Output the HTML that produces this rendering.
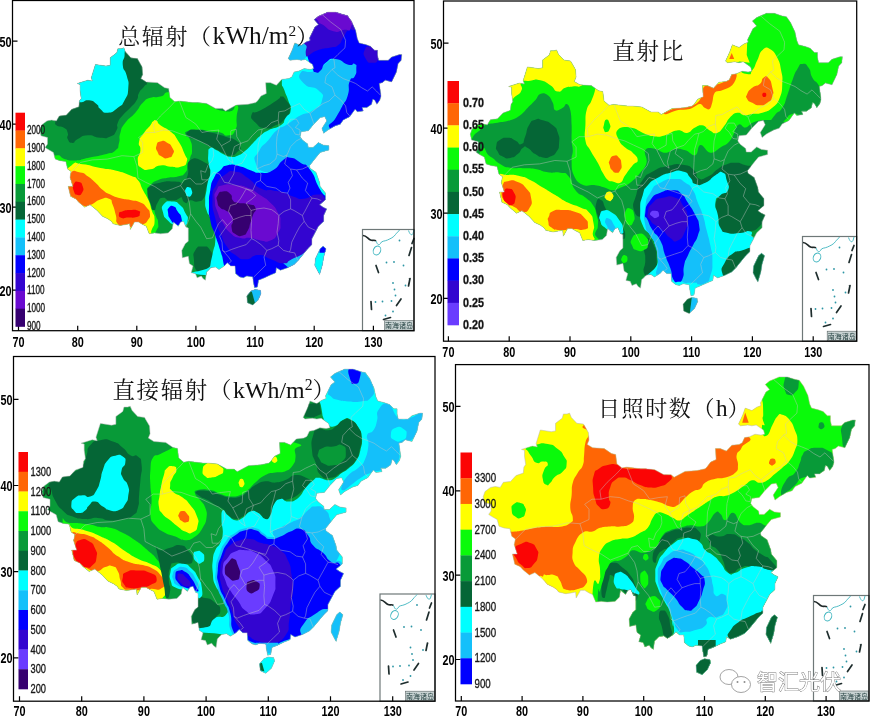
<!DOCTYPE html><html><head><meta charset="utf-8"><title>maps</title><style>html,body{margin:0;padding:0;background:#fff}svg{display:block}text{font-family:"Liberation Sans","Noto Sans CJK SC",sans-serif}.t{font-family:"Liberation Serif","Noto Serif CJK SC",serif;fill:#111}.k{font-weight:bold;font-size:15.5px;fill:#000}.c{fill:#111}</style></head><body>
<svg width="870" height="720" viewBox="0 0 870 720">
<rect width="870" height="720" fill="#fff"/>
<defs>
<clipPath id="cn1"><path d="M39.8,130.0 L41.6,125.0 L46.9,120.9 L51.6,120.1 L56.4,120.9 L59.3,115.9 L66.4,115.1 L71.7,109.3 L78.8,106.8 L79.4,101.0 L81.2,98.5 L80.0,90.2 L80.0,84.4 L77.1,83.5 L87.7,80.2 L92.4,81.0 L91.3,77.7 L95.4,64.4 L106.0,66.1 L110.2,65.3 L110.2,57.8 L116.7,52.8 L117.9,48.7 L121.4,48.7 L123.8,47.8 L125.6,52.0 L130.9,57.8 L137.4,58.6 L142.1,66.9 L142.7,74.4 L140.9,78.6 L146.3,81.9 L157.5,82.7 L164.6,87.7 L168.7,88.5 L169.9,97.6 L174.7,101.8 L179.4,101.0 L193.0,102.6 L197.7,102.6 L206.6,103.5 L215.5,108.4 L222.6,108.4 L225.5,110.9 L236.2,105.1 L248.0,104.3 L255.7,102.6 L257.5,101.0 L261.0,96.0 L266.3,93.5 L265.7,82.7 L270.5,82.7 L276.4,85.2 L281.7,79.4 L288.8,78.6 L291.8,76.9 L294.1,71.9 L298.9,71.1 L304.2,68.6 L310.1,69.4 L313.7,68.6 L312.5,64.4 L305.4,59.5 L301.2,60.3 L297.1,59.5 L290.0,60.3 L288.2,58.6 L292.4,49.5 L294.7,42.9 L301.2,45.4 L306.0,42.0 L310.1,40.4 L309.5,37.9 L314.8,27.1 L318.4,24.6 L314.2,19.6 L318.4,16.3 L327.9,12.1 L335.5,12.1 L343.2,14.6 L347.4,15.5 L351.5,21.3 L355.7,30.4 L357.4,38.7 L359.2,42.9 L365.7,44.5 L370.4,46.2 L374.6,50.3 L377.5,50.3 L377.5,55.3 L378.7,60.3 L388.2,60.3 L391.7,57.0 L399.4,54.5 L401.8,54.5 L401.2,60.3 L398.2,63.6 L396.5,71.9 L391.7,81.9 L385.2,80.2 L382.3,82.7 L379.3,83.5 L381.1,96.0 L379.9,100.1 L376.9,104.3 L374.6,100.1 L372.8,99.3 L371.6,104.3 L366.9,107.6 L362.2,107.6 L363.3,110.9 L357.4,111.8 L355.1,109.3 L349.7,116.7 L343.2,120.1 L340.3,124.2 L335.0,125.9 L327.9,130.0 L323.7,133.3 L321.9,128.4 L326.7,120.9 L324.9,116.7 L320.2,117.6 L313.7,124.2 L308.3,130.8 L301.2,131.7 L300.1,136.7 L302.4,140.0 L307.7,144.1 L308.3,147.4 L313.1,147.4 L318.4,142.5 L323.1,145.0 L329.0,145.8 L329.0,149.9 L320.2,152.4 L316.0,157.4 L309.5,165.7 L310.1,168.2 L316.0,172.3 L319.6,182.3 L320.2,186.4 L325.5,193.1 L325.5,199.7 L319.6,204.7 L323.1,207.2 L326.7,208.9 L323.7,215.5 L323.7,221.3 L318.4,226.3 L315.4,232.1 L311.9,238.7 L311.9,244.6 L307.7,248.7 L303.0,254.5 L298.3,260.3 L294.1,264.5 L287.6,267.8 L280.5,270.3 L276.4,267.8 L275.8,272.8 L269.9,275.3 L264.6,277.8 L258.6,280.2 L257.5,286.9 L254.5,287.7 L253.3,281.9 L252.7,276.9 L246.8,276.1 L243.3,277.8 L239.7,276.9 L235.6,273.6 L235.0,266.1 L230.8,266.1 L227.3,262.8 L224.3,266.1 L219.0,269.5 L215.5,267.0 L210.7,267.8 L208.4,270.3 L206.6,271.9 L205.4,280.2 L203.0,278.6 L201.3,276.1 L197.1,277.8 L195.4,273.6 L191.2,272.8 L193.0,266.1 L189.4,263.6 L188.3,256.2 L182.3,257.8 L181.8,250.4 L185.3,243.7 L188.3,241.2 L188.3,228.0 L185.9,227.1 L183.5,221.3 L180.6,222.1 L178.2,226.3 L173.5,222.1 L172.3,228.8 L168.1,232.9 L160.5,233.8 L154.5,232.9 L149.2,233.8 L146.3,226.3 L142.7,224.6 L138.6,222.1 L134.4,222.1 L130.3,229.6 L129.7,223.8 L125.6,224.6 L120.2,225.5 L113.1,223.8 L111.4,221.3 L107.8,218.8 L102.5,216.3 L97.2,210.5 L90.1,204.7 L84.7,207.2 L78.8,202.2 L75.9,198.9 L70.6,196.4 L68.2,186.4 L72.9,186.4 L70.0,177.3 L71.1,171.5 L67.6,169.0 L65.8,161.6 L59.9,160.7 L55.2,159.1 L53.4,152.4 L47.5,149.1 L45.1,147.4 L47.5,144.1 L47.5,137.5 L41.0,135.8ZM323.1,246.2 L326.1,248.7 L323.7,257.0 L322.5,264.5 L319.6,274.4 L317.8,271.1 L314.8,265.3 L315.4,258.7 L320.2,248.7ZM255.1,289.4 L260.4,290.2 L261.0,293.5 L258.1,300.2 L252.7,305.1 L247.4,302.7 L246.8,296.0 L251.0,291.0Z"/></clipPath>
<clipPath id="cn2"><path d="M470.3,134.1 L472.1,129.0 L477.6,124.8 L482.4,123.9 L487.3,124.8 L490.4,119.7 L497.6,118.8 L503.1,112.9 L510.4,110.3 L511.0,104.4 L512.8,101.8 L511.6,93.3 L511.6,87.3 L508.6,86.5 L519.5,83.1 L524.4,83.9 L523.2,80.5 L527.4,66.9 L538.4,68.6 L542.6,67.8 L542.6,60.1 L549.3,55.0 L550.5,50.8 L554.2,50.8 L556.6,49.9 L558.4,54.2 L563.9,60.1 L570.6,61.0 L575.5,69.5 L576.1,77.1 L574.3,81.4 L579.7,84.8 L591.3,85.6 L598.6,90.7 L602.8,91.6 L604.0,100.9 L608.9,105.2 L613.8,104.4 L627.8,106.1 L632.6,106.1 L641.7,106.9 L650.9,112.0 L658.2,112.0 L661.2,114.6 L672.1,108.6 L684.3,107.8 L692.2,106.1 L694.0,104.4 L697.7,99.2 L703.2,96.7 L702.5,85.6 L707.4,85.6 L713.5,88.2 L719.0,82.2 L726.3,81.4 L729.3,79.7 L731.7,74.6 L736.6,73.7 L742.1,71.2 L748.1,72.0 L751.8,71.2 L750.6,66.9 L743.3,61.8 L739.0,62.7 L734.8,61.8 L727.5,62.7 L725.6,61.0 L729.9,51.6 L732.3,44.8 L739.0,47.4 L743.9,44.0 L748.1,42.2 L747.5,39.7 L753.0,28.6 L756.7,26.1 L752.4,21.0 L756.7,17.6 L766.4,13.3 L774.3,13.3 L782.2,15.9 L786.4,16.7 L790.7,22.7 L795.0,32.0 L796.8,40.5 L798.6,44.8 L805.3,46.5 L810.2,48.2 L814.4,52.5 L817.5,52.5 L817.5,57.6 L818.7,62.7 L828.4,62.7 L832.0,59.3 L840.0,56.7 L842.4,56.7 L841.8,62.7 L838.7,66.1 L836.9,74.6 L832.0,84.8 L825.4,83.1 L822.3,85.6 L819.3,86.5 L821.1,99.2 L819.9,103.5 L816.8,107.8 L814.4,103.5 L812.6,102.6 L811.4,107.8 L806.5,111.2 L801.6,111.2 L802.9,114.6 L796.8,115.4 L794.4,112.9 L788.9,120.5 L782.2,123.9 L779.2,128.2 L773.7,129.9 L766.4,134.1 L762.1,137.5 L760.3,132.4 L765.2,124.8 L763.3,120.5 L758.5,121.4 L751.8,128.2 L746.3,135.0 L739.0,135.8 L737.8,140.9 L740.2,144.3 L745.7,148.6 L746.3,152.0 L751.2,152.0 L756.7,146.9 L761.5,149.4 L767.6,150.3 L767.6,154.5 L758.5,157.1 L754.2,162.2 L747.5,170.7 L748.1,173.3 L754.2,177.5 L757.9,187.7 L758.5,192.0 L764.0,198.8 L764.0,205.6 L757.9,210.7 L761.5,213.2 L765.2,214.9 L762.1,221.7 L762.1,227.7 L756.7,232.8 L753.6,238.8 L750.0,245.6 L750.0,251.5 L745.7,255.8 L740.8,261.7 L736.0,267.7 L731.7,271.9 L725.0,275.3 L717.7,277.9 L713.5,275.3 L712.9,280.4 L706.8,283.0 L701.3,285.5 L695.2,288.1 L694.0,294.9 L691.0,295.8 L689.8,289.8 L689.2,284.7 L683.1,283.8 L679.4,285.5 L675.8,284.7 L671.5,281.3 L670.9,273.6 L666.7,273.6 L663.0,270.2 L660.0,273.6 L654.5,277.0 L650.9,274.5 L646.0,275.3 L643.6,277.9 L641.7,279.6 L640.5,288.1 L638.1,286.4 L636.3,283.8 L632.0,285.5 L630.2,281.3 L625.9,280.4 L627.8,273.6 L624.1,271.1 L622.9,263.4 L616.8,265.1 L616.2,257.5 L619.9,250.7 L622.9,248.1 L622.9,234.5 L620.5,233.7 L618.0,227.7 L615.0,228.6 L612.6,232.8 L607.7,228.6 L606.5,235.4 L602.2,239.6 L594.3,240.5 L588.2,239.6 L582.8,240.5 L579.7,232.8 L576.1,231.1 L571.8,228.6 L567.6,228.6 L563.3,236.2 L562.7,230.3 L558.4,231.1 L553.0,232.0 L545.7,230.3 L543.9,227.7 L540.2,225.1 L534.7,222.6 L529.3,216.6 L522.0,210.7 L516.5,213.2 L510.4,208.1 L507.4,204.7 L501.9,202.2 L499.5,192.0 L504.3,192.0 L501.3,182.6 L502.5,176.7 L498.9,174.1 L497.0,166.5 L491.0,165.6 L486.1,163.9 L484.3,157.1 L478.2,153.7 L475.8,152.0 L478.2,148.6 L478.2,141.8 L471.5,140.1ZM761.5,253.2 L764.6,255.8 L762.1,264.3 L760.9,271.9 L757.9,282.1 L756.0,278.7 L753.0,272.8 L753.6,266.0 L758.5,255.8ZM691.6,297.5 L697.1,298.3 L697.7,301.7 L694.6,308.5 L689.2,313.6 L683.7,311.1 L683.1,304.3 L687.3,299.2Z"/></clipPath>
<clipPath id="cn3"><path d="M41.9,491.5 L43.8,486.3 L49.4,482.0 L54.3,481.2 L59.3,482.0 L62.4,476.9 L69.9,476.0 L75.5,470.0 L82.9,467.4 L83.6,461.3 L85.4,458.8 L84.2,450.1 L84.2,444.1 L81.1,443.2 L92.3,439.8 L97.2,440.7 L96.0,437.2 L100.4,423.4 L111.6,425.2 L115.9,424.3 L115.9,416.5 L122.8,411.4 L124.0,407.1 L127.7,407.1 L130.2,406.2 L132.1,410.5 L137.7,416.5 L144.5,417.4 L149.5,426.0 L150.1,433.8 L148.3,438.1 L153.9,441.5 L165.7,442.4 L173.1,447.6 L177.5,448.4 L178.7,457.9 L183.7,462.2 L188.7,461.3 L203.0,463.1 L208.0,463.1 L217.3,463.9 L226.6,469.1 L234.1,469.1 L237.2,471.7 L248.4,465.7 L260.8,464.8 L268.9,463.1 L270.8,461.3 L274.5,456.2 L280.1,453.6 L279.5,442.4 L284.5,442.4 L290.7,445.0 L296.3,438.9 L303.8,438.1 L306.9,436.4 L309.4,431.2 L314.3,430.3 L319.9,427.7 L326.1,428.6 L329.9,427.7 L328.6,423.4 L321.2,418.3 L316.8,419.1 L312.5,418.3 L305.0,419.1 L303.1,417.4 L307.5,407.9 L310.0,401.0 L316.8,403.6 L321.8,400.2 L326.1,398.4 L325.5,395.9 L331.1,384.7 L334.9,382.1 L330.5,376.9 L334.9,373.4 L344.8,369.1 L352.9,369.1 L361.0,371.7 L365.3,372.6 L369.7,378.6 L374.0,388.1 L375.9,396.7 L377.8,401.0 L384.6,402.7 L389.6,404.5 L393.9,408.8 L397.1,408.8 L397.1,413.9 L398.3,419.1 L408.2,419.1 L412.0,415.7 L420.1,413.1 L422.6,413.1 L421.9,419.1 L418.8,422.6 L417.0,431.2 L412.0,441.5 L405.1,439.8 L402.0,442.4 L398.9,443.2 L400.8,456.2 L399.5,460.5 L396.4,464.8 L393.9,460.5 L392.1,459.6 L390.8,464.8 L385.9,468.2 L380.9,468.2 L382.1,471.7 L375.9,472.5 L373.4,470.0 L367.8,477.7 L361.0,481.2 L357.9,485.5 L352.3,487.2 L344.8,491.5 L340.5,494.9 L338.6,489.8 L343.6,482.0 L341.7,477.7 L336.7,478.6 L329.9,485.5 L324.3,492.4 L316.8,493.2 L315.6,498.4 L318.1,501.8 L323.7,506.2 L324.3,509.6 L329.3,509.6 L334.9,504.4 L339.8,507.0 L346.1,507.9 L346.1,512.2 L336.7,514.8 L332.4,519.9 L325.5,528.6 L326.1,531.1 L332.4,535.4 L336.1,545.8 L336.7,550.1 L342.3,557.0 L342.3,563.9 L336.1,569.1 L339.8,571.6 L343.6,573.4 L340.5,580.3 L340.5,586.3 L334.9,591.5 L331.7,597.5 L328.0,604.4 L328.0,610.4 L323.7,614.7 L318.7,620.8 L313.7,626.8 L309.4,631.1 L302.5,634.5 L295.0,637.1 L290.7,634.5 L290.1,639.7 L283.8,642.3 L278.3,644.9 L272.0,647.5 L270.8,654.4 L267.7,655.2 L266.4,649.2 L265.8,644.0 L259.6,643.2 L255.9,644.9 L252.1,644.0 L247.8,640.6 L247.2,632.8 L242.8,632.8 L239.1,629.4 L236.0,632.8 L230.4,636.3 L226.6,633.7 L221.7,634.5 L219.2,637.1 L217.3,638.9 L216.1,647.5 L213.6,645.7 L211.7,643.2 L207.3,644.9 L205.5,640.6 L201.1,639.7 L203.0,632.8 L199.3,630.2 L198.0,622.5 L191.8,624.2 L191.2,616.4 L194.9,609.6 L198.0,607.0 L198.0,593.2 L195.5,592.3 L193.0,586.3 L189.9,587.2 L187.4,591.5 L182.5,587.2 L181.2,594.0 L176.9,598.4 L168.8,599.2 L162.6,598.4 L157.0,599.2 L153.9,591.5 L150.1,589.7 L145.8,587.2 L141.4,587.2 L137.1,594.9 L136.4,588.9 L132.1,589.7 L126.5,590.6 L119.0,588.9 L117.2,586.3 L113.4,583.7 L107.8,581.1 L102.2,575.1 L94.8,569.1 L89.2,571.6 L82.9,566.5 L79.8,563.0 L74.2,560.4 L71.7,550.1 L76.7,550.1 L73.6,540.6 L74.9,534.6 L71.1,532.0 L69.3,524.2 L63.0,523.4 L58.1,521.7 L56.2,514.8 L50.0,511.3 L47.5,509.6 L50.0,506.2 L50.0,499.3 L43.1,497.5ZM339.8,612.1 L342.9,614.7 L340.5,623.3 L339.2,631.1 L336.1,641.4 L334.2,638.0 L331.1,632.0 L331.7,625.1 L336.7,614.7ZM268.3,656.9 L273.9,657.8 L274.5,661.3 L271.4,668.2 L265.8,673.3 L260.2,670.7 L259.6,663.8 L263.9,658.7Z"/></clipPath>
<clipPath id="cn4"><path d="M483.2,496.7 L485.0,491.6 L490.5,487.4 L495.3,486.6 L500.2,487.4 L503.3,482.3 L510.5,481.5 L516.0,475.6 L523.3,473.1 L523.9,467.1 L525.7,464.6 L524.5,456.2 L524.5,450.3 L521.5,449.4 L532.4,446.1 L537.3,446.9 L536.1,443.5 L540.3,430.0 L551.3,431.7 L555.5,430.9 L555.5,423.3 L562.2,418.2 L563.4,414.0 L567.1,414.0 L569.5,413.1 L571.3,417.4 L576.8,423.3 L583.5,424.1 L588.4,432.6 L589.0,440.1 L587.2,444.4 L592.6,447.7 L604.2,448.6 L611.5,453.6 L615.7,454.5 L616.9,463.8 L621.8,468.0 L626.7,467.1 L640.7,468.8 L645.5,468.8 L654.6,469.7 L663.8,474.7 L671.1,474.7 L674.1,477.3 L685.0,471.4 L697.2,470.5 L705.1,468.8 L706.9,467.1 L710.6,462.1 L716.1,459.6 L715.4,448.6 L720.3,448.6 L726.4,451.1 L731.9,445.2 L739.2,444.4 L742.2,442.7 L744.6,437.6 L749.5,436.8 L755.0,434.2 L761.0,435.1 L764.7,434.2 L763.5,430.0 L756.2,425.0 L751.9,425.8 L747.7,425.0 L740.4,425.8 L738.5,424.1 L742.8,414.8 L745.2,408.1 L751.9,410.6 L756.8,407.2 L761.0,405.6 L760.4,403.0 L765.9,392.1 L769.6,389.5 L765.3,384.5 L769.6,381.1 L779.3,376.9 L787.2,376.9 L795.1,379.4 L799.3,380.2 L803.6,386.2 L807.9,395.4 L809.7,403.9 L811.5,408.1 L818.2,409.8 L823.1,411.5 L827.3,415.7 L830.4,415.7 L830.4,420.7 L831.6,425.8 L841.3,425.8 L844.9,422.4 L852.9,419.9 L855.3,419.9 L854.7,425.8 L851.6,429.2 L849.8,437.6 L844.9,447.7 L838.3,446.1 L835.2,448.6 L832.2,449.4 L834.0,462.1 L832.8,466.3 L829.7,470.5 L827.3,466.3 L825.5,465.5 L824.3,470.5 L819.4,473.9 L814.5,473.9 L815.8,477.3 L809.7,478.1 L807.3,475.6 L801.8,483.2 L795.1,486.6 L792.1,490.8 L786.6,492.5 L779.3,496.7 L775.0,500.1 L773.2,495.0 L778.1,487.4 L776.2,483.2 L771.4,484.0 L764.7,490.8 L759.2,497.5 L751.9,498.4 L750.7,503.4 L753.1,506.8 L758.6,511.0 L759.2,514.4 L764.1,514.4 L769.6,509.3 L774.4,511.9 L780.5,512.7 L780.5,516.9 L771.4,519.5 L767.1,524.5 L760.4,533.0 L761.0,535.5 L767.1,539.7 L770.8,549.8 L771.4,554.0 L776.9,560.8 L776.9,567.5 L770.8,572.6 L774.4,575.1 L778.1,576.8 L775.0,583.6 L775.0,589.5 L769.6,594.5 L766.5,600.5 L762.9,607.2 L762.9,613.1 L758.6,617.3 L753.7,623.2 L748.9,629.1 L744.6,633.4 L737.9,636.7 L730.6,639.3 L726.4,636.7 L725.8,641.8 L719.7,644.3 L714.2,646.9 L708.1,649.4 L706.9,656.1 L703.9,657.0 L702.7,651.1 L702.1,646.0 L696.0,645.2 L692.3,646.9 L688.7,646.0 L684.4,642.6 L683.8,635.0 L679.6,635.0 L675.9,631.7 L672.9,635.0 L667.4,638.4 L663.8,635.9 L658.9,636.7 L656.5,639.3 L654.6,640.9 L653.4,649.4 L651.0,647.7 L649.2,645.2 L644.9,646.9 L643.1,642.6 L638.8,641.8 L640.7,635.0 L637.0,632.5 L635.8,624.9 L629.7,626.6 L629.1,619.0 L632.8,612.3 L635.8,609.7 L635.8,596.2 L633.4,595.4 L630.9,589.5 L627.9,590.3 L625.5,594.5 L620.6,590.3 L619.4,597.1 L615.1,601.3 L607.2,602.1 L601.1,601.3 L595.7,602.1 L592.6,594.5 L589.0,592.9 L584.7,590.3 L580.5,590.3 L576.2,597.9 L575.6,592.0 L571.3,592.9 L565.9,593.7 L558.6,592.0 L556.8,589.5 L553.1,587.0 L547.6,584.4 L542.2,578.5 L534.9,572.6 L529.4,575.1 L523.3,570.1 L520.3,566.7 L514.8,564.2 L512.4,554.0 L517.2,554.0 L514.2,544.8 L515.4,538.9 L511.8,536.3 L509.9,528.7 L503.9,527.9 L499.0,526.2 L497.2,519.5 L491.1,516.1 L488.7,514.4 L491.1,511.0 L491.1,504.3 L484.4,502.6ZM774.4,614.8 L777.5,617.3 L775.0,625.8 L773.8,633.4 L770.8,643.5 L768.9,640.1 L765.9,634.2 L766.5,627.4 L771.4,617.3ZM704.5,658.7 L710.0,659.5 L710.6,662.9 L707.5,669.6 L702.1,674.7 L696.6,672.2 L696.0,665.4 L700.2,660.4Z"/></clipPath>
</defs>
<g id="panel1">
<rect x="12.5" y="0.5" width="401.5" height="330.2" fill="#fff"/>
<g clip-path="url(#cn1)">
<rect x="12.5" y="0.5" width="401.5" height="330.2" fill="#089a38"/>
<path d="M56.4,155.4 C62.3,155.1 58.9,157.5 65.1,159.2 C71.4,160.8 67.6,160.8 75.2,160.4 C82.7,160.0 77.7,160.0 87.7,157.9 C97.7,155.8 96.0,156.7 105.2,154.2 C114.4,151.7 110.7,154.2 115.3,150.4 C119.9,146.6 117.4,148.7 119.0,142.9 C120.7,137.0 118.2,139.5 120.3,132.9 C122.4,126.2 120.3,129.5 125.3,122.8 C130.3,116.1 129.5,119.5 135.3,112.8 C141.2,106.1 137.8,107.8 142.8,102.8 C147.8,97.8 144.5,99.9 150.4,97.8 C156.2,95.7 152.9,98.3 160.4,96.5 C167.9,94.8 160.5,91.3 172.9,92.5 C185.4,93.7 180.3,93.8 197.7,100.0 C215.2,106.3 212.3,109.6 225.3,111.3 C238.2,113.0 232.8,102.9 236.6,105.0 C240.3,107.1 237.0,109.2 236.6,117.6 C236.1,125.9 238.2,124.1 235.3,130.1 C232.4,136.1 232.8,134.8 227.8,135.6 C222.8,136.4 226.1,134.0 220.3,132.6 C214.4,131.2 217.8,132.4 210.3,131.4 C202.7,130.4 205.2,129.8 197.7,129.6 C190.2,129.4 191.6,129.0 187.7,130.9 C183.8,132.7 185.1,132.0 185.9,135.1 C186.8,138.2 188.2,135.1 190.2,140.1 C192.2,145.1 192.0,144.3 192.0,150.2 C192.0,156.0 191.6,152.7 190.2,157.7 C188.8,162.7 189.4,160.2 187.7,165.2 C186.0,170.2 188.5,168.9 185.2,172.7 C181.8,176.5 183.5,174.8 177.7,176.5 C171.8,178.1 174.3,176.5 167.6,177.7 C161.0,179.0 163.5,177.7 157.6,180.2 C151.8,182.7 153.4,181.9 150.1,185.2 C146.8,188.6 148.0,186.1 147.6,190.3 C147.2,194.4 147.2,192.8 148.8,197.8 C150.5,202.8 150.4,199.4 152.6,205.3 C154.9,211.1 153.8,209.5 155.6,215.3 C157.5,221.2 157.9,217.8 158.1,222.8 C158.4,227.8 159.0,226.2 156.4,230.4 C153.7,234.5 157.2,235.4 150.1,235.4 C143.0,235.4 148.4,233.7 135.1,230.4 C121.7,227.0 126.7,234.5 110.0,225.3 C93.3,216.1 101.6,218.7 84.9,202.8 C68.2,186.9 72.4,191.9 59.9,177.7 C47.3,163.5 48.5,167.6 47.3,160.2 C46.2,152.7 50.4,155.7 56.4,155.4Z" fill="#0afa0a"/>
<path d="M50.1,112.8 C43.3,127.8 52.5,116.1 54.6,120.3 C56.7,124.5 53.3,122.8 56.4,125.3 C59.5,127.8 60.2,125.3 63.9,127.8 C67.7,130.3 66.4,129.1 67.7,132.8 C68.9,136.6 66.0,135.8 67.7,139.1 C69.3,142.4 69.3,142.9 72.7,142.9 C76.0,142.9 72.7,141.6 77.7,139.1 C82.7,136.6 80.2,135.8 87.7,135.3 C95.2,134.9 92.7,137.4 100.3,137.8 C107.8,138.3 104.8,139.1 110.3,136.6 C115.7,134.1 114.0,134.9 116.5,130.3 C119.0,125.7 115.7,127.8 117.8,122.8 C119.9,117.8 118.6,120.3 122.8,115.3 C127.0,110.3 125.7,112.8 130.3,107.8 C134.9,102.8 133.7,105.3 136.6,100.3 C139.5,95.2 136.6,97.3 139.1,92.7 C141.6,88.1 141.2,90.6 144.1,86.5 C147.0,82.3 145.8,88.1 147.9,80.2 C150.0,72.3 152.9,72.7 150.4,62.7 C147.9,52.6 150.4,56.8 140.4,50.1 C130.3,43.4 142.0,34.3 120.3,42.6 C98.6,51.0 98.6,51.8 75.2,75.2 C51.8,98.6 57.0,97.7 50.1,112.8Z" fill="#056636"/>
<path d="M122.1,45.1 C130.2,46.4 124.3,47.2 124.6,53.9 C124.8,60.6 122.1,58.1 122.8,65.2 C123.5,72.3 124.7,67.7 126.6,75.2 C128.4,82.7 129.0,79.4 128.3,87.7 C127.7,96.1 128.1,93.6 124.6,100.3 C121.1,106.9 123.4,103.6 117.8,107.8 C112.2,111.9 113.6,112.4 107.8,112.8 C101.9,113.2 104.0,111.9 100.3,109.0 C96.5,106.1 100.3,106.9 96.5,104.0 C92.7,101.1 94.4,100.8 89.0,100.3 C83.5,99.7 85.6,102.3 80.2,102.3 C74.8,102.3 75.2,109.3 72.7,100.3 C70.2,91.2 63.5,91.9 72.7,75.2 C81.9,58.5 83.8,60.2 100.3,50.1 C116.7,40.1 114.0,43.9 122.1,45.1Z" fill="#00ffff"/>
<path d="M71.4,165.5 C77.3,160.2 73.1,163.4 82.7,164.2 C92.3,165.0 89.4,165.9 100.3,168.0 C111.1,170.1 105.3,168.0 115.3,170.5 C125.3,173.0 122.8,172.3 130.3,175.5 C137.8,178.7 133.7,175.2 137.8,180.0 C142.0,184.8 139.3,183.3 142.9,190.0 C146.4,196.7 145.4,193.4 148.4,200.1 C151.3,206.7 149.5,203.4 151.6,210.1 C153.7,216.8 154.6,213.4 154.6,220.1 C154.6,226.8 153.9,224.7 151.6,230.1 C149.4,235.6 156.6,233.9 147.9,236.4 C139.1,238.9 141.2,239.7 125.3,237.6 C109.4,235.6 117.0,241.0 100.3,230.1 C83.5,219.3 86.9,221.8 75.2,205.1 C63.5,188.4 66.4,193.2 65.2,180.0 C63.9,166.8 65.6,170.7 71.4,165.5Z" fill="#ffff00"/>
<path d="M70.2,173.7 C74.4,168.7 74.4,171.6 80.2,172.5 C86.0,173.3 82.7,172.9 87.7,176.2 C92.7,179.6 90.2,177.9 95.2,182.5 C100.3,187.1 97.7,186.0 102.8,190.0 C107.8,194.0 104.4,191.8 110.3,194.5 C116.1,197.3 113.6,196.5 120.3,198.3 C127.0,200.1 123.6,198.6 130.3,200.1 C137.0,201.5 134.9,200.1 140.4,202.6 C145.8,205.1 143.4,203.8 146.6,207.6 C149.8,211.3 149.5,209.7 149.9,213.8 C150.3,218.0 150.2,216.5 147.9,220.1 C145.5,223.7 147.0,222.5 142.9,224.6 C138.7,226.7 141.2,225.8 135.3,226.4 C129.5,227.0 131.2,227.2 125.3,226.4 C119.5,225.5 121.0,227.6 117.8,223.9 C114.6,220.1 117.5,221.4 115.8,215.1 C114.1,208.8 115.0,210.5 112.8,205.1 C110.5,199.6 113.2,200.6 109.0,198.8 C104.8,197.0 106.1,197.6 100.3,199.5 C94.4,201.5 96.5,202.3 91.5,204.6 C86.5,206.8 90.6,207.8 85.2,206.3 C79.8,204.8 81.0,206.3 75.2,200.1 C69.3,193.8 69.3,196.3 67.7,187.5 C66.0,178.7 66.0,178.7 70.2,173.7Z" fill="#ff6605"/>
<path d="M73.9,183.8 C75.6,180.7 76.0,181.2 78.9,182.0 C81.9,182.8 81.6,182.8 82.7,186.3 C83.8,189.8 83.9,189.6 82.2,192.5 C80.5,195.5 80.5,195.5 77.7,195.0 C74.9,194.6 75.2,195.0 73.9,191.3 C72.7,187.5 72.3,186.9 73.9,183.8Z" fill="#fb0505"/>
<path d="M119.0,213.8 C119.5,211.6 119.0,212.6 122.8,211.3 C126.6,210.1 125.3,210.3 130.3,210.1 C135.3,209.8 134.7,209.3 137.8,210.6 C141.0,211.8 140.3,211.7 139.8,213.8 C139.4,216.0 140.6,215.8 136.6,217.1 C132.6,218.3 132.8,217.3 127.8,217.6 C122.8,217.9 124.5,219.3 121.6,218.1 C118.6,216.8 118.6,216.1 119.0,213.8Z" fill="#fb0505"/>
<path d="M152.9,121.6 C155.0,120.1 154.1,119.5 156.6,120.8 C159.1,122.1 155.8,121.7 160.4,125.3 C165.0,128.9 164.6,126.6 170.4,131.6 C176.3,136.6 173.4,133.2 177.9,140.4 C182.5,147.5 181.3,145.8 184.2,152.9 C187.1,160.0 188.0,157.1 186.7,161.7 C185.5,166.2 185.9,165.0 180.5,166.7 C175.0,168.3 177.1,167.1 170.4,166.7 C163.7,166.2 167.1,164.6 160.4,165.4 C153.7,166.2 156.6,168.3 150.4,169.2 C144.1,170.0 145.8,170.8 141.6,167.9 C137.4,165.0 138.3,166.2 137.8,160.4 C137.4,154.6 139.9,156.6 140.4,150.4 C140.8,144.1 137.8,147.5 139.1,141.6 C140.4,135.8 140.4,138.3 144.1,132.8 C147.9,127.4 147.5,129.1 150.4,125.3 C153.3,121.6 150.8,123.1 152.9,121.6Z" fill="#ffff00"/>
<path d="M156.6,145.4 C157.6,142.0 157.1,142.6 160.4,141.6 C163.7,140.6 162.7,140.3 166.7,142.4 C170.7,144.4 170.3,143.9 172.4,147.9 C174.5,151.8 174.4,150.8 172.9,154.1 C171.4,157.5 171.7,157.1 167.9,157.9 C164.2,158.7 165.2,158.7 161.7,156.6 C158.1,154.6 159.1,155.4 157.4,151.6 C155.7,147.9 155.6,148.7 156.6,145.4Z" fill="#ff6605"/>
<path d="M251.8,114.0 C253.5,109.9 252.3,114.9 260.6,110.3 C269.0,105.7 270.2,104.8 276.9,100.3 C283.6,95.7 277.6,96.5 280.7,96.5 C283.7,96.5 283.1,95.7 286.2,100.3 C289.3,104.8 290.8,103.6 289.9,110.3 C289.1,117.0 288.4,115.3 283.7,120.3 C278.9,125.3 281.7,122.6 275.6,125.3 C269.6,128.0 272.3,129.2 265.6,128.3 C258.9,127.5 260.2,127.6 255.6,122.8 C251.0,118.0 250.2,118.2 251.8,114.0Z" fill="#056636"/>
<path d="M188.2,131.4 C191.1,129.3 190.4,129.7 197.7,130.1 C205.1,130.5 202.7,130.9 210.3,132.6 C217.8,134.3 214.4,133.4 220.3,135.1 C226.1,136.8 222.8,135.9 227.8,137.6 C232.8,139.3 231.1,137.2 235.3,140.1 C239.5,143.0 239.5,142.6 240.3,146.4 C241.2,150.2 241.2,148.3 237.8,151.4 C234.5,154.5 235.3,155.2 230.3,155.7 C225.3,156.1 227.8,154.9 222.8,152.7 C217.8,150.4 221.1,151.8 215.3,148.9 C209.4,146.0 211.1,146.8 205.2,143.9 C199.4,141.0 203.1,142.6 197.7,140.1 C192.3,137.6 192.1,139.3 188.9,136.4 C185.8,133.4 185.3,133.4 188.2,131.4Z" fill="#056636"/>
<path d="M190.2,160.2 C196.0,156.0 198.6,159.3 205.2,162.7 C211.9,166.0 209.2,164.4 210.3,170.2 C211.3,176.0 209.7,173.5 208.2,180.2 C206.7,186.9 207.2,184.4 205.7,190.3 C204.3,196.1 206.7,194.0 204.0,197.8 C201.3,201.5 202.3,200.7 197.7,201.5 C193.1,202.4 194.4,199.9 190.2,200.3 C186.0,200.7 188.5,204.5 185.2,202.8 C181.8,201.1 183.5,199.4 180.2,195.3 C176.8,191.1 174.3,194.4 175.2,190.3 C176.0,186.1 178.5,187.7 182.7,182.7 C186.9,177.7 185.2,182.7 187.7,175.2 C190.2,167.7 184.4,164.4 190.2,160.2Z" fill="#056636"/>
<path d="M195.2,250.4 C198.1,245.8 197.7,246.6 202.7,246.6 C207.7,246.6 206.9,245.8 210.3,250.4 C213.6,255.0 212.8,253.7 212.8,260.4 C212.8,267.1 213.6,265.4 210.3,270.5 C206.9,275.5 207.3,275.5 202.7,275.5 C198.1,275.5 199.4,275.5 196.5,270.5 C193.5,265.4 194.4,267.1 194.0,260.4 C193.5,253.7 192.3,255.0 195.2,250.4Z" fill="#056636"/>
<path d="M150.1,186.5 C154.3,183.1 152.6,184.4 160.1,182.7 C167.6,181.1 165.1,181.1 172.7,181.5 C180.2,181.9 178.5,181.1 182.7,184.0 C186.9,186.9 186.0,185.7 185.2,190.3 C184.4,194.8 185.2,194.4 180.2,197.8 C175.2,201.1 176.0,200.3 170.2,200.3 C164.3,200.3 166.8,196.9 162.6,197.8 C158.5,198.6 160.5,198.6 157.6,202.8 C154.7,207.0 156.4,210.3 153.9,210.3 C151.4,210.3 152.2,208.6 150.1,202.8 C148.0,196.9 147.6,198.2 147.6,192.8 C147.6,187.3 145.9,189.8 150.1,186.5Z" fill="#056636"/>
<path d="M281.9,80.2 C281.6,88.7 282.3,83.6 284.4,90.3 C286.5,96.9 286.1,93.6 288.2,100.3 C290.3,107.0 291.5,104.5 290.7,110.3 C289.9,116.1 289.0,112.8 285.7,117.8 C282.3,122.8 286.5,121.2 280.7,125.3 C274.8,129.5 274.8,127.0 268.1,130.4 C261.5,133.7 265.6,131.2 260.6,135.4 C255.6,139.5 258.1,137.9 253.1,142.9 C248.1,147.9 250.6,146.2 245.6,150.4 C240.6,154.6 243.1,153.3 238.1,155.4 C233.1,157.5 235.6,157.2 230.6,156.7 C225.5,156.2 227.7,156.1 223.0,153.9 C218.4,151.7 220.8,152.1 216.5,150.2 C212.3,148.2 213.0,146.5 210.3,148.1 C207.5,149.8 208.7,149.5 208.2,155.2 C207.8,160.8 208.3,159.3 209.0,165.2 C209.7,171.0 210.7,166.9 210.3,172.7 C209.8,178.6 209.0,176.9 207.7,182.7 C206.5,188.6 207.3,184.4 206.5,190.3 C205.7,196.1 205.2,193.6 205.2,200.3 C205.2,207.0 204.8,204.5 206.5,210.3 C208.2,216.1 207.7,212.0 210.3,217.8 C212.8,223.7 212.3,220.3 214.0,227.8 C215.7,235.4 215.7,232.0 215.3,240.4 C214.8,248.7 214.4,244.6 212.8,252.9 C211.1,261.3 211.5,257.9 210.3,265.4 C209.0,273.0 167.2,272.1 209.0,275.5 C250.8,278.8 293.4,345.6 335.6,275.5 C377.8,205.3 352.3,135.1 335.6,64.9 C318.9,-5.2 303.3,59.8 285.4,64.9 C267.6,70.0 282.3,71.8 281.9,80.2Z" fill="#00ffff"/>
<path d="M300.7,72.7 C303.6,68.5 305.7,73.9 313.2,71.4 C320.8,68.9 315.7,69.3 323.3,65.2 C330.8,61.0 327.4,59.3 335.8,58.9 C344.1,58.5 340.8,62.7 348.3,63.9 C355.8,65.2 350.0,50.5 358.4,62.7 C366.7,74.8 378.4,74.4 373.4,100.3 C368.4,126.1 361.7,120.3 343.3,140.4 C324.9,160.4 335.0,148.7 318.3,160.4 C301.5,172.1 309.9,171.3 293.2,175.4 C276.5,179.6 280.7,177.1 268.1,172.9 C255.6,168.8 258.5,170.4 255.6,162.9 C252.7,155.4 255.2,157.9 259.4,150.4 C263.5,142.9 262.3,147.0 268.1,140.4 C274.0,133.7 271.0,135.3 276.9,130.3 C282.7,125.3 280.2,128.7 285.7,125.3 C291.1,122.0 288.2,123.6 293.2,120.3 C298.2,117.0 294.0,118.6 300.7,115.3 C307.4,111.9 306.1,115.3 313.2,110.3 C320.3,105.3 320.3,106.9 322.0,100.3 C323.7,93.6 324.1,95.7 318.3,90.2 C312.4,84.8 310.3,89.8 304.5,84.0 C298.6,78.1 297.8,76.9 300.7,72.7Z" fill="#14c0fa"/>
<path d="M304.5,42.6 C300.7,58.5 304.5,46.8 307.0,55.1 C309.5,63.5 309.1,62.0 312.0,67.7 C314.9,73.4 312.8,71.3 315.7,72.2 C318.7,73.0 317.4,73.4 320.8,70.2 C324.1,67.0 320.8,66.4 325.8,62.7 C330.8,58.9 328.3,58.2 335.8,58.9 C343.3,59.6 342.1,63.0 348.3,64.7 C354.6,66.3 351.9,62.5 354.6,63.9 C357.3,65.3 356.3,64.7 356.3,68.9 C356.3,73.1 356.8,72.3 354.6,76.4 C352.3,80.6 351.8,75.2 349.6,81.5 C347.3,87.7 350.3,86.9 347.8,95.2 C345.3,103.6 346.1,99.0 342.1,106.5 C338.1,114.0 340.0,110.7 335.8,117.8 C331.6,124.9 327.0,123.6 329.5,127.8 C332.0,132.0 317.8,139.5 343.3,130.3 C368.8,121.1 385.1,139.5 406.0,100.3 C426.9,61.0 435.2,43.4 406.0,12.5 C376.7,-18.4 352.1,-2.5 318.3,7.5 C284.4,17.5 308.2,26.7 304.5,42.6Z" fill="#0000ff"/>
<path d="M303.2,56.4 C309.1,58.1 309.1,53.0 318.3,50.1 C327.4,47.2 324.1,49.3 330.8,47.6 C337.5,45.9 334.1,48.5 338.3,45.1 C342.5,41.8 340.0,42.6 343.3,37.6 C346.7,32.6 344.6,33.4 348.3,30.1 C352.1,26.7 354.6,34.3 354.6,27.6 C354.6,20.9 362.1,15.9 348.3,10.0 C334.5,4.2 329.1,-1.7 313.2,10.0 C297.4,21.7 304.0,29.7 300.7,45.1 C297.4,60.6 297.4,54.7 303.2,56.4Z" fill="#3305d0"/>
<path d="M317.0,12.5 C327.0,9.6 337.0,7.5 348.3,12.5 C359.6,17.5 352.5,21.7 350.8,27.6 C349.2,33.4 349.2,28.8 343.3,30.1 C337.5,31.3 340.0,33.0 333.3,31.3 C326.6,29.7 328.3,28.4 323.3,25.1 C318.3,21.7 320.3,25.5 318.3,21.3 C316.2,17.1 307.0,15.5 317.0,12.5Z" fill="#6a0ad0"/>
<path d="M364.6,50.1 C366.3,45.9 366.3,46.4 370.9,46.4 C375.5,46.4 375.9,45.9 378.4,50.1 C380.9,54.3 380.5,54.7 378.4,58.9 C376.3,63.1 376.3,62.7 372.1,62.7 C368.0,62.7 368.4,63.1 365.9,58.9 C363.4,54.7 362.9,54.3 364.6,50.1Z" fill="#3305d0"/>
<path d="M288.2,60.2 C287.3,54.7 287.8,50.5 293.2,45.1 C298.6,39.7 300.3,41.4 304.5,43.9 C308.6,46.4 305.7,47.6 305.7,52.6 C305.7,57.6 307.8,56.0 304.5,58.9 C301.1,61.8 301.1,61.0 295.7,61.4 C290.3,61.8 289.0,65.6 288.2,60.2Z" fill="#14c0fa"/>
<path d="M220.3,170.2 C224.9,166.0 221.1,166.4 227.8,165.2 C234.5,163.9 232.8,164.8 240.3,166.4 C247.8,168.1 243.7,168.1 250.4,170.2 C257.0,172.3 252.9,172.7 260.4,172.7 C267.9,172.7 265.4,174.4 272.9,170.2 C280.4,166.0 277.1,164.4 282.9,160.2 C288.8,156.0 284.6,156.8 290.5,157.7 C296.3,158.5 293.8,158.5 300.5,162.7 C307.2,166.9 303.8,161.0 310.5,170.2 C317.2,179.4 312.2,175.2 320.5,190.3 C328.9,205.3 330.6,181.9 335.6,215.3 C340.6,248.7 371.5,265.4 335.6,290.5 C299.6,315.6 265.0,298.9 227.8,290.5 C190.6,282.1 226.5,278.8 224.0,265.4 C221.5,252.1 223.2,260.4 220.3,250.4 C217.4,240.4 218.6,245.4 215.3,235.4 C211.9,225.3 212.3,230.4 210.3,220.3 C208.2,210.3 209.0,215.3 209.0,205.3 C209.0,195.3 208.6,199.4 210.3,190.3 C211.9,181.1 210.7,184.4 214.0,177.7 C217.4,171.0 215.7,174.4 220.3,170.2Z" fill="#0000ff"/>
<path d="M283.2,257.7 C285.7,254.4 286.5,256.9 293.2,255.2 C299.9,253.5 297.4,255.2 303.2,252.7 C309.1,250.2 306.6,247.7 310.7,247.7 C314.9,247.7 317.4,247.7 315.7,252.7 C314.1,257.7 313.2,258.1 305.7,262.7 C298.2,267.3 299.9,265.6 293.2,266.5 C286.5,267.3 289.0,268.1 285.7,265.2 C282.3,262.3 280.7,261.0 283.2,257.7Z" fill="#14c0fa"/>
<path d="M212.5,198.8 C212.8,186.9 212.5,192.2 216.7,184.2 C220.8,176.2 218.8,179.0 225.0,174.8 C231.2,170.6 227.8,170.6 235.4,171.7 C243.1,172.7 239.6,172.4 247.9,177.9 C256.2,183.5 252.1,184.2 260.4,188.3 C268.8,192.5 265.3,189.0 272.9,190.4 C280.6,191.8 276.4,190.4 283.3,192.5 C290.3,194.6 286.8,194.6 293.8,196.7 C300.7,198.8 296.5,199.4 304.2,198.8 C311.8,198.1 309.7,194.6 316.7,194.6 C323.6,194.6 320.8,192.5 325.0,198.8 C329.2,205.0 329.2,202.9 329.2,213.3 C329.2,223.8 329.2,220.3 325.0,230.0 C320.8,239.7 323.6,234.9 316.7,242.5 C309.7,250.1 312.5,247.4 304.2,252.9 C295.8,258.5 298.6,255.7 291.7,259.2 C284.7,262.6 290.3,263.3 283.3,263.3 C276.4,263.3 279.2,261.9 270.8,259.2 C262.5,256.4 266.7,255.0 258.3,255.0 C250.0,255.0 253.5,259.2 245.8,259.2 C238.2,259.2 241.7,259.2 235.4,255.0 C229.2,250.8 231.9,253.6 227.1,246.7 C222.2,239.7 224.7,243.2 220.8,234.2 C217.0,225.1 218.4,231.4 215.6,219.6 C212.8,207.8 212.2,210.6 212.5,198.8Z" fill="#3305d0"/>
<path d="M216.5,190.3 C219.2,185.2 216.5,186.9 222.8,185.2 C229.0,183.6 227.0,184.4 235.3,185.2 C243.7,186.1 239.5,184.4 247.8,187.7 C256.2,191.1 252.9,190.3 260.4,195.3 C267.9,200.3 264.6,196.9 270.4,202.8 C276.2,208.6 274.6,206.1 277.9,212.8 C281.3,219.5 280.4,216.1 280.4,222.8 C280.4,229.5 281.3,227.0 277.9,232.9 C274.6,238.7 276.2,237.9 270.4,240.4 C264.6,242.9 267.1,241.2 260.4,240.4 C253.7,239.5 257.0,238.7 250.4,237.9 C243.7,237.0 247.0,239.5 240.3,237.9 C233.6,236.2 236.1,237.9 230.3,232.9 C224.5,227.8 227.0,229.5 222.8,222.8 C218.6,216.1 220.4,220.3 217.8,212.8 C215.1,205.3 215.2,207.8 214.8,200.3 C214.3,192.8 213.8,195.3 216.5,190.3Z" fill="#6a0ad0"/>
<path d="M217.8,195.3 C219.6,191.9 218.6,191.9 222.8,191.5 C227.0,191.1 227.0,191.1 230.3,194.0 C233.6,196.9 230.3,197.4 232.8,200.3 C235.3,203.2 232.8,201.5 237.8,202.8 C242.8,204.0 242.0,202.4 247.8,204.0 C253.7,205.7 253.7,204.0 255.4,207.8 C257.0,211.6 254.5,210.3 252.9,215.3 C251.2,220.3 252.0,217.8 250.4,222.8 C248.7,227.8 250.4,226.2 247.8,230.4 C245.3,234.5 247.0,234.1 242.8,235.4 C238.7,236.6 239.1,236.6 235.3,234.1 C231.6,231.6 232.4,232.4 231.6,227.8 C230.7,223.2 233.2,224.9 232.8,220.3 C232.4,215.7 232.8,217.4 230.3,214.1 C227.8,210.7 228.6,212.4 225.3,210.3 C221.9,208.2 222.9,210.7 220.3,207.8 C217.6,204.9 218.1,205.7 217.3,201.5 C216.4,197.4 215.9,198.6 217.8,195.3Z" fill="#360070"/>
<path d="M163.9,204.0 C167.1,200.3 167.2,201.1 172.7,201.5 C178.1,201.9 176.0,201.5 180.2,205.3 C184.4,209.0 182.7,207.8 185.2,212.8 C187.7,217.8 188.5,215.7 187.7,220.3 C186.9,224.9 186.9,224.9 182.7,226.6 C178.5,228.3 180.2,227.4 175.2,225.3 C170.2,223.2 171.7,224.5 167.6,220.3 C163.6,216.1 164.4,218.2 163.1,212.8 C161.9,207.4 160.7,207.8 163.9,204.0Z" fill="#00ffff"/>
<path d="M168.9,207.8 C170.8,205.7 171.0,205.3 173.9,206.5 C176.8,207.8 175.2,207.8 177.7,211.6 C180.2,215.3 180.6,213.6 181.4,217.8 C182.3,222.0 182.3,222.0 180.2,224.1 C178.1,226.2 178.5,225.8 175.2,224.1 C171.8,222.4 172.5,222.8 170.2,219.1 C167.8,215.3 168.6,216.6 168.1,212.8 C167.7,209.0 167.0,209.9 168.9,207.8Z" fill="#0000ff"/>
<path d="M185.7,189.0 C186.8,187.0 186.9,186.8 188.9,187.2 C191.0,187.7 190.9,187.7 191.7,190.3 C192.5,192.8 192.6,192.7 191.5,194.8 C190.3,196.9 190.1,197.0 188.2,196.5 C186.3,196.0 186.5,195.8 185.7,193.3 C184.9,190.8 184.6,191.0 185.7,189.0Z" fill="#00ffff"/>
<path d="M313.2,245.2 L328.3,245.2 L328.3,275.2 L313.2,275.2Z" fill="#00ffff"/>
<path d="M319.5,245.7 L327.0,245.7 L327.0,252.7 L319.5,252.7Z" fill="#0000ff"/>
<path d="M245.6,287.8 L265.6,287.8 L265.6,307.8 L245.6,307.8Z" fill="#14c0fa"/>
<path d="M245.6,292.8 L251.8,291.5 L255.6,305.3 L245.6,307.8Z" fill="#056636"/>
<path d="M321.3,13.8 L330.8,22.1 L340.9,29.6 L345.6,40.4 L345.0,47.8 L337.9,54.5 L333.8,58.6 L335.0,67.8 L332.0,69.4" fill="none" stroke="#c8c8c8" stroke-width="0.7" stroke-opacity="0.62"/>
<path d="M332.0,69.4 L337.9,75.2 L343.2,78.6 L349.7,81.0 L355.7,83.5 L361.6,87.7 L367.5,91.0 L372.2,86.9 L376.4,91.0 L380.5,95.2" fill="none" stroke="#c8c8c8" stroke-width="0.7" stroke-opacity="0.62"/>
<path d="M332.0,69.4 L326.1,76.1 L324.9,82.7 L332.0,86.9 L335.0,95.2" fill="none" stroke="#c8c8c8" stroke-width="0.7" stroke-opacity="0.62"/>
<path d="M335.0,95.2 L340.9,100.1 L345.6,105.9 L346.8,112.6 L349.7,115.9" fill="none" stroke="#c8c8c8" stroke-width="0.7" stroke-opacity="0.62"/>
<path d="M335.0,95.2 L329.0,101.0 L323.1,103.5 L317.2,107.6 L310.1,113.4" fill="none" stroke="#c8c8c8" stroke-width="0.7" stroke-opacity="0.62"/>
<path d="M310.1,113.4 L313.1,121.7 L313.7,124.2" fill="none" stroke="#c8c8c8" stroke-width="0.7" stroke-opacity="0.62"/>
<path d="M310.1,113.4 L304.2,109.3 L299.5,103.5 L290.6,107.6 L284.7,110.9 L278.8,111.8 L278.2,120.1" fill="none" stroke="#c8c8c8" stroke-width="0.7" stroke-opacity="0.62"/>
<path d="M278.2,120.1 L279.4,127.5 L277.0,136.7 L276.4,145.0 L277.0,154.1" fill="none" stroke="#c8c8c8" stroke-width="0.7" stroke-opacity="0.62"/>
<path d="M278.2,120.1 L271.7,122.5 L266.3,127.5 L262.2,129.2" fill="none" stroke="#c8c8c8" stroke-width="0.7" stroke-opacity="0.62"/>
<path d="M262.2,129.2 L260.4,136.7 L258.1,145.0 L257.5,157.4 L256.9,169.0" fill="none" stroke="#c8c8c8" stroke-width="0.7" stroke-opacity="0.62"/>
<path d="M256.9,169.0 L264.0,165.7 L269.9,164.0 L275.8,159.1 L277.0,154.1" fill="none" stroke="#c8c8c8" stroke-width="0.7" stroke-opacity="0.62"/>
<path d="M277.0,154.1 L283.5,156.6 L287.0,154.9 L290.6,146.6 L296.5,140.8 L301.2,138.3" fill="none" stroke="#c8c8c8" stroke-width="0.7" stroke-opacity="0.62"/>
<path d="M287.0,154.9 L284.7,164.0 L290.6,169.0 L296.5,169.9 L302.4,169.0 L309.5,165.7" fill="none" stroke="#c8c8c8" stroke-width="0.7" stroke-opacity="0.62"/>
<path d="M290.6,169.0 L292.4,175.7 L288.2,182.3 L290.0,188.1 L287.6,193.1" fill="none" stroke="#c8c8c8" stroke-width="0.7" stroke-opacity="0.62"/>
<path d="M296.5,169.9 L302.4,178.2 L307.7,183.1 L305.4,190.6 L309.5,195.6 L311.9,198.1" fill="none" stroke="#c8c8c8" stroke-width="0.7" stroke-opacity="0.62"/>
<path d="M311.9,198.1 L317.2,198.9 L321.3,200.6" fill="none" stroke="#c8c8c8" stroke-width="0.7" stroke-opacity="0.62"/>
<path d="M311.9,198.1 L308.3,204.7 L304.8,211.4 L302.4,215.5" fill="none" stroke="#c8c8c8" stroke-width="0.7" stroke-opacity="0.62"/>
<path d="M260.4,180.6 L266.9,186.4 L275.8,188.1 L281.7,192.3 L287.6,193.1" fill="none" stroke="#c8c8c8" stroke-width="0.7" stroke-opacity="0.62"/>
<path d="M287.6,193.1 L290.6,199.7 L290.6,208.9 L294.1,210.5 L302.4,215.5" fill="none" stroke="#c8c8c8" stroke-width="0.7" stroke-opacity="0.62"/>
<path d="M251.0,210.5 L256.9,208.9 L264.0,208.0 L271.7,209.7 L276.4,213.0 L278.8,215.5 L284.1,211.4 L290.6,208.9" fill="none" stroke="#c8c8c8" stroke-width="0.7" stroke-opacity="0.62"/>
<path d="M278.8,215.5 L278.2,223.8 L277.0,232.1 L278.8,240.4 L278.2,245.4" fill="none" stroke="#c8c8c8" stroke-width="0.7" stroke-opacity="0.62"/>
<path d="M302.4,215.5 L304.2,221.3 L299.5,227.1 L295.9,233.8 L291.8,242.1 L290.6,249.5 L289.4,252.0" fill="none" stroke="#c8c8c8" stroke-width="0.7" stroke-opacity="0.62"/>
<path d="M304.2,221.3 L308.3,227.1 L315.4,230.4" fill="none" stroke="#c8c8c8" stroke-width="0.7" stroke-opacity="0.62"/>
<path d="M297.7,260.3 L294.7,252.9 L289.4,252.0 L283.5,250.4 L278.2,245.4 L271.7,248.7 L266.9,250.4" fill="none" stroke="#c8c8c8" stroke-width="0.7" stroke-opacity="0.62"/>
<path d="M266.9,250.4 L264.0,257.0 L265.7,265.3 L259.8,271.1 L253.9,276.9" fill="none" stroke="#c8c8c8" stroke-width="0.7" stroke-opacity="0.62"/>
<path d="M266.9,250.4 L261.0,244.6 L255.1,240.4 L251.6,238.7" fill="none" stroke="#c8c8c8" stroke-width="0.7" stroke-opacity="0.62"/>
<path d="M251.6,238.7 L251.0,230.4 L251.6,221.3 L251.0,215.5 L251.0,210.5" fill="none" stroke="#c8c8c8" stroke-width="0.7" stroke-opacity="0.62"/>
<path d="M251.6,238.7 L246.2,244.6 L238.5,247.0 L231.4,249.5 L225.5,252.0 L222.6,250.4" fill="none" stroke="#c8c8c8" stroke-width="0.7" stroke-opacity="0.62"/>
<path d="M222.6,250.4 L228.5,257.0 L231.4,261.2 L228.5,263.6" fill="none" stroke="#c8c8c8" stroke-width="0.7" stroke-opacity="0.62"/>
<path d="M222.6,250.4 L222.0,242.1 L219.6,236.2 L224.3,229.6 L227.3,225.5" fill="none" stroke="#c8c8c8" stroke-width="0.7" stroke-opacity="0.62"/>
<path d="M227.3,225.5 L233.2,219.7 L239.7,217.2 L245.6,215.5 L251.0,215.5" fill="none" stroke="#c8c8c8" stroke-width="0.7" stroke-opacity="0.62"/>
<path d="M233.2,219.7 L228.5,211.4 L230.3,205.5 L236.2,203.9 L240.3,198.9 L246.2,188.9" fill="none" stroke="#c8c8c8" stroke-width="0.7" stroke-opacity="0.62"/>
<path d="M251.0,210.5 L246.2,203.1 L252.1,198.9 L255.7,195.6 L252.7,192.3 L246.2,188.9" fill="none" stroke="#c8c8c8" stroke-width="0.7" stroke-opacity="0.62"/>
<path d="M246.2,188.9 L239.1,186.4 L231.4,184.0 L228.5,183.1" fill="none" stroke="#c8c8c8" stroke-width="0.7" stroke-opacity="0.62"/>
<path d="M246.2,188.9 L252.7,190.6 L256.3,182.3 L260.4,180.6 L261.0,174.0 L256.9,169.0" fill="none" stroke="#c8c8c8" stroke-width="0.7" stroke-opacity="0.62"/>
<path d="M228.5,183.1 L233.8,174.0 L235.0,165.7 L242.1,163.2 L246.8,154.9 L239.1,149.1 L240.9,143.3" fill="none" stroke="#c8c8c8" stroke-width="0.7" stroke-opacity="0.62"/>
<path d="M240.9,143.3 L248.0,140.8 L252.1,135.8 L258.1,130.0 L262.2,129.2" fill="none" stroke="#c8c8c8" stroke-width="0.7" stroke-opacity="0.62"/>
<path d="M240.9,143.3 L234.4,146.6 L231.4,157.4 L233.2,163.2 L228.5,159.9 L221.4,145.8 L230.3,140.8 L230.8,130.8 L236.2,129.2 L236.8,136.7 L240.9,143.3" fill="none" stroke="#c8c8c8" stroke-width="0.7" stroke-opacity="0.62"/>
<path d="M221.4,145.8 L216.7,139.1 L219.0,130.0 L210.7,130.8 L201.9,132.5 L195.9,124.2 L190.0,120.1 L185.9,117.6 L179.4,101.0" fill="none" stroke="#c8c8c8" stroke-width="0.7" stroke-opacity="0.62"/>
<path d="M154.5,132.5 L163.4,130.0 L172.3,130.8 L181.2,134.2 L190.0,136.7 L198.9,140.8 L207.8,145.0 L213.1,149.1 L213.7,155.7 L211.9,160.7 L207.8,165.7 L205.4,172.3 L200.7,170.7 L201.9,179.8 L207.8,179.8" fill="none" stroke="#c8c8c8" stroke-width="0.7" stroke-opacity="0.62"/>
<path d="M207.8,179.8 L213.7,172.3 L219.6,174.0 L224.3,182.3 L228.5,183.1" fill="none" stroke="#c8c8c8" stroke-width="0.7" stroke-opacity="0.62"/>
<path d="M207.8,179.8 L201.9,184.0 L195.9,184.0 L190.0,178.2 L184.1,179.8 L180.6,185.6" fill="none" stroke="#c8c8c8" stroke-width="0.7" stroke-opacity="0.62"/>
<path d="M180.6,185.6 L172.3,188.9 L163.4,192.3 L154.5,186.4 L145.7,182.3 L138.0,178.2 L136.8,165.7 L133.8,156.6" fill="none" stroke="#c8c8c8" stroke-width="0.7" stroke-opacity="0.62"/>
<path d="M180.6,185.6 L187.1,194.8 L189.4,203.1 L190.6,213.8 L188.9,219.7 L185.9,227.1" fill="none" stroke="#c8c8c8" stroke-width="0.7" stroke-opacity="0.62"/>
<path d="M190.6,213.8 L195.9,221.3 L200.7,227.1 L206.6,238.7 L212.5,237.9 L215.5,230.4 L218.4,223.8 L222.6,219.7 L227.3,225.5" fill="none" stroke="#c8c8c8" stroke-width="0.7" stroke-opacity="0.62"/>
<path d="M71.7,171.5 L80.6,162.4 L92.4,159.9 L107.2,159.1 L122.0,155.7 L133.8,156.6" fill="none" stroke="#c8c8c8" stroke-width="0.7" stroke-opacity="0.62"/>
<path d="M133.8,156.6 L142.7,152.4 L142.7,142.5 L138.6,137.5 L145.7,132.5 L154.5,132.5 L153.4,124.2 L160.5,115.9 L169.3,107.6 L174.7,101.8" fill="none" stroke="#c8c8c8" stroke-width="0.7" stroke-opacity="0.62"/>
<path d="M287.6,124.2 L290.6,119.2 L296.5,119.2 L298.9,123.4 L295.3,127.5 L300.1,130.0 L299.5,135.0 L295.3,134.2 L291.8,128.4 L287.6,124.2" fill="none" stroke="#c8c8c8" stroke-width="0.7" stroke-opacity="0.62"/>
</g>
<path d="M39.8,130.0 L41.6,125.0 L46.9,120.9 L51.6,120.1 L56.4,120.9 L59.3,115.9 L66.4,115.1 L71.7,109.3 L78.8,106.8 L79.4,101.0 L81.2,98.5 L80.0,90.2 L80.0,84.4 L77.1,83.5 L87.7,80.2 L92.4,81.0 L91.3,77.7 L95.4,64.4 L106.0,66.1 L110.2,65.3 L110.2,57.8 L116.7,52.8 L117.9,48.7 L121.4,48.7 L123.8,47.8 L125.6,52.0 L130.9,57.8 L137.4,58.6 L142.1,66.9 L142.7,74.4 L140.9,78.6 L146.3,81.9 L157.5,82.7 L164.6,87.7 L168.7,88.5 L169.9,97.6 L174.7,101.8 L179.4,101.0 L193.0,102.6 L197.7,102.6 L206.6,103.5 L215.5,108.4 L222.6,108.4 L225.5,110.9 L236.2,105.1 L248.0,104.3 L255.7,102.6 L257.5,101.0 L261.0,96.0 L266.3,93.5 L265.7,82.7 L270.5,82.7 L276.4,85.2 L281.7,79.4 L288.8,78.6 L291.8,76.9 L294.1,71.9 L298.9,71.1 L304.2,68.6 L310.1,69.4 L313.7,68.6 L312.5,64.4 L305.4,59.5 L301.2,60.3 L297.1,59.5 L290.0,60.3 L288.2,58.6 L292.4,49.5 L294.7,42.9 L301.2,45.4 L306.0,42.0 L310.1,40.4 L309.5,37.9 L314.8,27.1 L318.4,24.6 L314.2,19.6 L318.4,16.3 L327.9,12.1 L335.5,12.1 L343.2,14.6 L347.4,15.5 L351.5,21.3 L355.7,30.4 L357.4,38.7 L359.2,42.9 L365.7,44.5 L370.4,46.2 L374.6,50.3 L377.5,50.3 L377.5,55.3 L378.7,60.3 L388.2,60.3 L391.7,57.0 L399.4,54.5 L401.8,54.5 L401.2,60.3 L398.2,63.6 L396.5,71.9 L391.7,81.9 L385.2,80.2 L382.3,82.7 L379.3,83.5 L381.1,96.0 L379.9,100.1 L376.9,104.3 L374.6,100.1 L372.8,99.3 L371.6,104.3 L366.9,107.6 L362.2,107.6 L363.3,110.9 L357.4,111.8 L355.1,109.3 L349.7,116.7 L343.2,120.1 L340.3,124.2 L335.0,125.9 L327.9,130.0 L323.7,133.3 L321.9,128.4 L326.7,120.9 L324.9,116.7 L320.2,117.6 L313.7,124.2 L308.3,130.8 L301.2,131.7 L300.1,136.7 L302.4,140.0 L307.7,144.1 L308.3,147.4 L313.1,147.4 L318.4,142.5 L323.1,145.0 L329.0,145.8 L329.0,149.9 L320.2,152.4 L316.0,157.4 L309.5,165.7 L310.1,168.2 L316.0,172.3 L319.6,182.3 L320.2,186.4 L325.5,193.1 L325.5,199.7 L319.6,204.7 L323.1,207.2 L326.7,208.9 L323.7,215.5 L323.7,221.3 L318.4,226.3 L315.4,232.1 L311.9,238.7 L311.9,244.6 L307.7,248.7 L303.0,254.5 L298.3,260.3 L294.1,264.5 L287.6,267.8 L280.5,270.3 L276.4,267.8 L275.8,272.8 L269.9,275.3 L264.6,277.8 L258.6,280.2 L257.5,286.9 L254.5,287.7 L253.3,281.9 L252.7,276.9 L246.8,276.1 L243.3,277.8 L239.7,276.9 L235.6,273.6 L235.0,266.1 L230.8,266.1 L227.3,262.8 L224.3,266.1 L219.0,269.5 L215.5,267.0 L210.7,267.8 L208.4,270.3 L206.6,271.9 L205.4,280.2 L203.0,278.6 L201.3,276.1 L197.1,277.8 L195.4,273.6 L191.2,272.8 L193.0,266.1 L189.4,263.6 L188.3,256.2 L182.3,257.8 L181.8,250.4 L185.3,243.7 L188.3,241.2 L188.3,228.0 L185.9,227.1 L183.5,221.3 L180.6,222.1 L178.2,226.3 L173.5,222.1 L172.3,228.8 L168.1,232.9 L160.5,233.8 L154.5,232.9 L149.2,233.8 L146.3,226.3 L142.7,224.6 L138.6,222.1 L134.4,222.1 L130.3,229.6 L129.7,223.8 L125.6,224.6 L120.2,225.5 L113.1,223.8 L111.4,221.3 L107.8,218.8 L102.5,216.3 L97.2,210.5 L90.1,204.7 L84.7,207.2 L78.8,202.2 L75.9,198.9 L70.6,196.4 L68.2,186.4 L72.9,186.4 L70.0,177.3 L71.1,171.5 L67.6,169.0 L65.8,161.6 L59.9,160.7 L55.2,159.1 L53.4,152.4 L47.5,149.1 L45.1,147.4 L47.5,144.1 L47.5,137.5 L41.0,135.8ZM323.1,246.2 L326.1,248.7 L323.7,257.0 L322.5,264.5 L319.6,274.4 L317.8,271.1 L314.8,265.3 L315.4,258.7 L320.2,248.7ZM255.1,289.4 L260.4,290.2 L261.0,293.5 L258.1,300.2 L252.7,305.1 L247.4,302.7 L246.8,296.0 L251.0,291.0Z" fill="none" stroke="#b4b4b4" stroke-width="0.7" stroke-opacity="0.7"/>
<g transform="translate(362.5,229.5)">
<rect x="0" y="0" width="51.5" height="101.2" fill="#fff" stroke="#6e7878" stroke-width="1.2"/>
<path d="M0.5,6 C4,6 5,9 8,10.5 C10,11.5 12,10 13.5,11.5" fill="none" stroke="#1e2828" stroke-width="1.6"/>
<path d="M13.5,11.5 C15,15 16,16.5 18,14 C19,11 22,12 25,10.5 C28,9 31,8 33,5 C34.5,3 36,2 37,0.5" fill="none" stroke="#3cb4be" stroke-width="0.9"/>
<ellipse cx="14.5" cy="21" rx="3.6" ry="4.6" transform="rotate(25 14.5 21)" fill="none" stroke="#3cb4be" stroke-width="0.9"/>
<path d="M46,1 C47,4 49,7 50.5,4 L51.5,0.5" fill="none" stroke="#3cb4be" stroke-width="0.9"/>
<path d="M49.5,14.0 L51.5,9.0" stroke="#1e2d2d" stroke-width="1.7" stroke-linecap="round"/>
<path d="M46.5,26.0 L49.0,18.0" stroke="#1e2d2d" stroke-width="1.7" stroke-linecap="round"/>
<path d="M13.5,36.0 L16.0,43.0" stroke="#1e2d2d" stroke-width="1.7" stroke-linecap="round"/>
<path d="M46.0,56.5 L47.5,49.0" stroke="#1e2d2d" stroke-width="1.7" stroke-linecap="round"/>
<path d="M34.0,76.0 L38.5,69.5" stroke="#1e2d2d" stroke-width="1.7" stroke-linecap="round"/>
<path d="M9.0,80.0 L8.5,72.0" stroke="#1e2d2d" stroke-width="1.7" stroke-linecap="round"/>
<path d="M21.0,90.0 L28.0,88.0" stroke="#1e2d2d" stroke-width="1.7" stroke-linecap="round"/>
<circle cx="37.0" cy="11.0" r="0.9" fill="#2d96a5"/>
<circle cx="24.0" cy="33.0" r="0.9" fill="#2d96a5"/>
<circle cx="31.5" cy="32.5" r="0.9" fill="#2d96a5"/>
<circle cx="41.0" cy="36.0" r="0.9" fill="#2d96a5"/>
<circle cx="30.5" cy="53.5" r="0.9" fill="#2d96a5"/>
<circle cx="43.0" cy="56.0" r="0.9" fill="#2d96a5"/>
<circle cx="32.0" cy="60.0" r="0.9" fill="#2d96a5"/>
<circle cx="33.0" cy="66.0" r="0.9" fill="#2d96a5"/>
<circle cx="13.0" cy="72.5" r="0.9" fill="#2d96a5"/>
<circle cx="20.0" cy="72.0" r="0.9" fill="#2d96a5"/>
<circle cx="29.0" cy="71.5" r="0.9" fill="#2d96a5"/>
<circle cx="23.0" cy="86.0" r="0.9" fill="#2d96a5"/>
<circle cx="30.5" cy="82.0" r="0.9" fill="#2d96a5"/>
<rect x="22.0" y="91.2" width="29.0" height="9.5" fill="#c8d2d2" stroke="#5a6464" stroke-width="0.6"/>
<text x="22.5" y="98.9" font-size="7" fill="#1e3c3c" style="font-family:'Liberation Sans','Noto Sans CJK SC',sans-serif">南海诸岛</text>
</g>
<rect x="12.5" y="0.5" width="401.5" height="330.2" fill="none" stroke="#000" stroke-width="1.25"/>
<path d="M18.5,330.7 v-5 M77.7,330.7 v-5 M136.8,330.7 v-5 M195.9,330.7 v-5 M255.1,330.7 v-5 M314.2,330.7 v-5 M373.4,330.7 v-5 M12.5,290.2 h5 M12.5,207.2 h5 M12.5,124.2 h5 M12.5,41.2 h5" stroke="#000" stroke-width="1.2" fill="none"/>
<text class="k" transform="translate(18.5,346.9) scale(0.7,1)" text-anchor="middle">70</text>
<text class="k" transform="translate(77.7,346.9) scale(0.7,1)" text-anchor="middle">80</text>
<text class="k" transform="translate(136.8,346.9) scale(0.7,1)" text-anchor="middle">90</text>
<text class="k" transform="translate(195.9,346.9) scale(0.7,1)" text-anchor="middle">100</text>
<text class="k" transform="translate(255.1,346.9) scale(0.7,1)" text-anchor="middle">110</text>
<text class="k" transform="translate(314.2,346.9) scale(0.7,1)" text-anchor="middle">120</text>
<text class="k" transform="translate(373.4,346.9) scale(0.7,1)" text-anchor="middle">130</text>
<text class="k" transform="translate(11.5,295.6) scale(0.7,1)" text-anchor="end">20</text>
<text class="k" transform="translate(11.5,212.6) scale(0.7,1)" text-anchor="end">30</text>
<text class="k" transform="translate(11.5,129.6) scale(0.7,1)" text-anchor="end">40</text>
<text class="k" transform="translate(11.5,46.6) scale(0.7,1)" text-anchor="end">50</text>
<rect x="15.5" y="112.70" width="9.5" height="18.12" fill="#fb0505"/>
<rect x="15.5" y="130.52" width="9.5" height="18.12" fill="#ff6605"/>
<rect x="15.5" y="148.33" width="9.5" height="18.12" fill="#ffff00"/>
<rect x="15.5" y="166.15" width="9.5" height="18.12" fill="#0afa0a"/>
<rect x="15.5" y="183.97" width="9.5" height="18.12" fill="#089a38"/>
<rect x="15.5" y="201.78" width="9.5" height="18.12" fill="#056636"/>
<rect x="15.5" y="219.60" width="9.5" height="18.12" fill="#00ffff"/>
<rect x="15.5" y="237.42" width="9.5" height="18.12" fill="#14c0fa"/>
<rect x="15.5" y="255.23" width="9.5" height="18.12" fill="#0000ff"/>
<rect x="15.5" y="273.05" width="9.5" height="18.12" fill="#3305d0"/>
<rect x="15.5" y="290.87" width="9.5" height="18.12" fill="#6a0ad0"/>
<rect x="15.5" y="308.68" width="9.5" height="18.12" fill="#360070"/>
<text class="c" font-size="12" font-weight="normal" transform="translate(27.0,134.0) scale(0.68,1)" stroke="#222" stroke-width="0.35">2000</text>
<text class="c" font-size="12" font-weight="normal" transform="translate(27.0,151.9) scale(0.68,1)" stroke="#222" stroke-width="0.35">1900</text>
<text class="c" font-size="12" font-weight="normal" transform="translate(27.0,169.7) scale(0.68,1)" stroke="#222" stroke-width="0.35">1800</text>
<text class="c" font-size="12" font-weight="normal" transform="translate(27.0,187.5) scale(0.68,1)" stroke="#222" stroke-width="0.35">1700</text>
<text class="c" font-size="12" font-weight="normal" transform="translate(27.0,205.3) scale(0.68,1)" stroke="#222" stroke-width="0.35">1600</text>
<text class="c" font-size="12" font-weight="normal" transform="translate(27.0,223.1) scale(0.68,1)" stroke="#222" stroke-width="0.35">1500</text>
<text class="c" font-size="12" font-weight="normal" transform="translate(27.0,240.9) scale(0.68,1)" stroke="#222" stroke-width="0.35">1400</text>
<text class="c" font-size="12" font-weight="normal" transform="translate(27.0,258.8) scale(0.68,1)" stroke="#222" stroke-width="0.35">1300</text>
<text class="c" font-size="12" font-weight="normal" transform="translate(27.0,276.6) scale(0.68,1)" stroke="#222" stroke-width="0.35">1200</text>
<text class="c" font-size="12" font-weight="normal" transform="translate(27.0,294.4) scale(0.68,1)" stroke="#222" stroke-width="0.35">1100</text>
<text class="c" font-size="12" font-weight="normal" transform="translate(27.0,312.2) scale(0.68,1)" stroke="#222" stroke-width="0.35">1000</text>
<text class="c" font-size="12" font-weight="normal" transform="translate(27.0,330.0) scale(0.68,1)" stroke="#222" stroke-width="0.35">900</text>
<text class="t" x="118.2" y="43.5" font-size="22" letter-spacing="1.6"><tspan>总辐射（</tspan><tspan font-size="25.3" letter-spacing="0">kWh/m</tspan><tspan dy="-8" font-size="15.4" letter-spacing="0">2</tspan><tspan dy="8">）</tspan></text>
</g>
<g id="panel2">
<rect x="443.5" y="1.0" width="413.2" height="340.2" fill="#fff"/>
<g clip-path="url(#cn2)">
<rect x="443.5" y="1.0" width="413.2" height="340.2" fill="#089a38"/>
<path d="M479.8,152.7 C486.6,141.4 483.3,152.7 490.1,156.4 C496.9,160.2 493.5,160.2 500.1,163.9 C506.8,167.7 502.6,166.3 510.2,167.7 C517.7,169.1 514.3,167.8 522.7,168.2 C531.0,168.6 526.9,167.6 535.2,168.9 C543.6,170.3 539.4,171.0 547.8,172.2 C556.1,173.5 553.3,171.3 560.3,172.7 C567.3,174.1 563.8,170.7 568.8,176.5 C573.8,182.2 569.8,183.0 575.3,190.0 C580.8,197.0 579.5,192.5 585.4,197.5 C591.2,202.5 589.1,199.2 592.9,205.0 C596.6,210.9 595.0,208.4 596.6,215.1 C598.3,221.7 598.3,219.2 597.9,225.1 C597.5,230.9 597.9,226.7 595.4,232.6 C592.9,238.5 607.2,239.5 590.4,242.9 C573.6,246.3 585.2,260.4 545.0,242.9 C504.8,225.3 491.5,220.3 469.8,190.3 C448.1,160.2 473.1,163.9 479.8,152.7Z" fill="#0afa0a"/>
<path d="M457.3,140.1 C461.7,173.5 469.8,136.3 476.3,132.9 C482.8,129.4 480.1,127.7 485.1,125.3 C490.1,123.0 491.8,124.0 497.6,122.8 C503.5,121.7 504.9,122.1 510.2,120.3 C515.4,118.6 516.1,118.2 520.2,115.3 C524.3,112.4 524.2,111.3 527.7,107.8 C531.2,104.3 532.3,103.5 535.2,100.3 C538.1,97.1 537.3,95.2 540.2,94.0 C543.2,92.8 544.8,93.2 547.8,95.3 C550.7,97.3 551.0,99.3 552.8,102.8 C554.5,106.3 552.9,109.1 555.3,110.3 C557.6,111.5 560.2,109.3 562.8,107.8 C565.4,106.3 564.8,103.5 566.6,104.0 C568.3,104.6 569.1,105.3 570.3,110.3 C571.5,115.3 571.3,118.3 571.6,125.3 C571.9,132.4 571.3,134.5 571.6,140.4 C571.9,146.2 572.8,145.7 572.8,150.4 C572.8,155.1 571.3,154.6 571.6,160.4 C571.8,166.2 571.2,169.5 573.8,175.2 C576.4,180.9 577.6,182.4 582.6,184.7 C587.6,187.1 589.9,184.5 595.1,185.2 C600.4,185.9 601.1,186.6 605.2,187.7 C609.2,188.9 609.2,190.3 612.7,190.3 C616.2,190.3 616.1,189.5 620.2,187.7 C624.3,186.0 625.5,186.2 630.2,182.7 C634.9,179.2 636.4,177.4 640.2,172.7 C644.0,168.0 645.3,167.9 646.5,162.7 C647.7,157.4 643.2,153.4 645.3,150.2 C647.3,146.9 650.6,148.3 655.3,148.9 C660.0,149.5 660.6,152.7 665.3,152.7 C670.0,152.7 670.6,149.5 675.3,148.9 C680.0,148.3 680.7,148.7 685.4,150.2 C690.0,151.6 691.9,156.3 695.4,155.2 C698.9,154.0 696.9,145.7 700.4,145.1 C703.9,144.6 705.7,152.1 710.4,152.7 C715.1,153.2 715.8,150.6 720.4,147.6 C725.1,144.7 726.4,145.4 730.5,140.1 C734.6,134.9 734.5,128.0 738.0,125.1 C741.5,122.2 742.0,128.2 745.5,127.6 C749.0,127.0 748.9,124.3 753.0,122.6 C757.1,120.8 759.0,120.7 763.0,120.1 C767.1,119.5 745.4,120.1 770.6,120.1 C795.7,120.1 847.4,150.5 870.8,120.1 C894.2,89.7 967.3,20.2 870.8,-10.3 C774.3,-40.7 553.8,-45.3 457.3,-10.3 C360.8,24.8 452.8,106.7 457.3,140.1Z" fill="#0afa0a"/>
<path d="M507.7,100.3 C509.4,111.5 510.6,99.8 515.2,96.5 C519.8,93.1 519.4,94.8 521.5,90.2 C523.6,85.6 518.5,85.9 521.5,82.7 C524.4,79.5 524.0,81.5 530.2,80.7 C536.5,79.9 533.6,78.7 540.3,80.2 C546.9,81.7 544.4,81.5 550.3,85.2 C556.1,89.0 552.8,90.6 557.8,91.5 C562.8,92.3 560.3,89.4 565.3,87.7 C570.3,86.0 567.0,87.5 572.8,86.5 C578.7,85.5 577.0,88.5 582.9,84.7 C588.7,81.0 597.9,90.9 590.4,75.2 C582.9,59.5 587.0,41.8 560.3,37.6 C533.6,33.4 527.7,41.8 510.2,62.7 C492.6,83.5 506.0,89.0 507.7,100.3Z" fill="#ffff00"/>
<path d="M595.4,87.7 C594.4,93.8 594.0,94.3 591.6,100.3 C589.3,106.3 588.3,103.6 586.6,110.3 C584.9,117.0 585.7,117.3 585.4,125.3 C585.0,133.4 584.0,133.7 585.4,140.4 C586.7,147.1 587.0,144.4 590.4,150.4 C593.7,156.4 594.5,156.9 597.9,162.9 C601.2,168.9 600.2,168.4 602.9,173.0 C605.6,177.5 605.3,177.7 607.9,180.0 C610.5,182.2 609.4,180.7 612.7,181.5 C615.9,182.2 616.8,184.4 620.2,182.7 C623.5,181.1 621.9,179.9 625.2,175.2 C628.5,170.5 629.4,169.2 632.7,165.2 C636.1,161.2 637.7,163.5 637.7,160.2 C637.7,156.8 636.1,156.0 632.7,152.7 C629.4,149.3 628.9,151.0 625.2,147.6 C621.5,144.3 620.9,144.8 618.9,140.1 C616.9,135.4 614.7,133.4 617.7,130.1 C620.7,126.8 622.9,126.6 630.2,127.6 C637.6,128.6 638.6,131.5 645.3,133.9 C651.9,136.2 650.1,136.0 655.3,136.4 C660.4,136.8 658.7,137.0 664.5,135.4 C670.4,133.8 671.1,131.0 677.1,130.4 C683.1,129.7 682.4,133.5 687.1,132.9 C691.8,132.2 690.6,129.8 694.6,127.8 C698.6,125.8 698.1,124.7 702.1,125.3 C706.2,126.0 705.7,128.3 709.7,130.4 C713.7,132.4 713.2,134.2 717.2,132.9 C721.2,131.5 721.4,129.3 724.7,125.3 C728.0,121.3 726.4,121.2 729.7,117.8 C733.1,114.5 733.2,113.5 737.2,112.8 C741.2,112.1 740.7,115.0 744.7,115.3 C748.8,115.6 747.6,114.7 752.3,114.1 C756.9,113.4 756.9,114.5 762.3,112.8 C767.6,111.1 767.6,111.8 772.3,107.8 C777.0,103.8 777.2,104.5 779.8,97.8 C782.5,91.1 782.0,90.1 782.3,82.7 C782.7,75.4 782.4,76.9 781.1,70.2 C779.8,63.5 780.3,63.4 777.3,57.7 C774.3,52.0 773.8,50.9 769.8,48.9 C765.8,46.9 765.6,47.1 762.3,50.2 C759.0,53.2 760.0,54.8 757.3,60.2 C754.6,65.5 755.4,66.6 752.3,70.2 C749.1,73.8 754.0,75.1 745.5,73.7 C737.0,72.3 747.2,67.3 720.4,64.9 C693.7,62.6 678.7,61.6 645.3,64.9 C611.8,68.3 608.4,71.4 595.1,77.5 C581.8,83.6 596.3,81.7 595.4,87.7Z" fill="#ffff00"/>
<path d="M724.7,62.7 L732.2,43.9 L747.2,42.6 L746.7,55.1 L749.7,62.7 L739.7,61.4 L732.2,63.9Z" fill="#ffff00"/>
<path d="M497.7,177.5 C501.0,170.8 500.2,175.4 507.7,175.0 C515.2,174.6 512.7,174.6 520.2,176.2 C527.7,177.9 522.7,176.2 530.2,180.0 C537.8,183.8 534.4,182.5 542.8,187.5 C551.1,192.5 546.9,190.0 555.3,195.0 C563.7,200.1 559.5,198.4 567.8,202.6 C576.2,206.7 573.3,204.2 580.4,207.6 C587.5,210.9 584.8,207.6 589.1,212.6 C593.5,217.6 592.1,215.9 593.4,222.6 C594.6,229.3 594.3,226.4 592.9,232.6 C591.5,238.9 600.0,238.9 589.1,241.4 C578.3,243.9 578.3,243.9 560.3,240.2 C542.4,236.4 552.0,240.2 535.3,230.1 C518.5,220.1 522.7,221.8 510.2,210.1 C497.7,198.4 501.8,205.9 497.7,195.0 C493.5,184.2 494.3,184.2 497.7,177.5Z" fill="#ffff00"/>
<path d="M605.2,195.3 C606.2,192.8 606.4,191.9 608.9,191.5 C611.4,191.1 611.4,191.8 612.7,194.0 C613.9,196.3 613.9,196.2 612.7,198.3 C611.4,200.4 611.2,200.1 608.9,200.3 C606.6,200.4 606.9,200.4 605.7,198.8 C604.4,197.1 604.1,197.7 605.2,195.3Z" fill="#ffff00"/>
<path d="M502.7,185.0 C504.8,181.3 502.7,182.3 507.7,181.3 C512.7,180.3 511.4,179.5 517.7,182.0 C524.0,184.5 522.1,183.6 526.5,188.8 C530.9,194.0 529.9,191.3 531.0,197.5 C532.1,203.8 532.5,202.7 529.7,207.6 C527.0,212.4 527.6,212.1 522.7,212.1 C517.9,212.1 519.4,209.9 515.2,207.6 C511.0,205.2 513.9,207.6 510.2,205.1 C506.4,202.6 506.8,204.2 503.9,200.1 C501.0,195.9 501.8,197.5 501.4,192.5 C501.0,187.5 500.6,188.8 502.7,185.0Z" fill="#ff6605"/>
<path d="M503.9,191.3 C505.8,188.4 505.6,188.4 508.9,188.8 C512.3,189.2 511.9,188.8 513.9,192.5 C516.0,196.3 516.0,195.9 515.2,200.1 C514.4,204.2 514.4,204.2 511.4,205.1 C508.5,205.9 509.2,205.1 506.4,202.6 C503.7,200.1 504.0,201.3 503.2,197.5 C502.3,193.8 502.0,194.2 503.9,191.3Z" fill="#fb0505"/>
<path d="M549.0,216.3 C550.5,213.0 548.2,213.4 552.8,211.3 C557.4,209.2 555.3,209.8 562.8,210.1 C570.3,210.3 568.2,209.6 575.4,212.1 C582.5,214.6 579.9,213.2 584.1,217.6 C588.3,221.9 587.9,221.1 587.9,225.1 C587.9,229.1 589.1,228.4 584.1,229.6 C579.1,230.9 580.8,228.7 572.8,228.9 C564.9,229.0 567.4,230.5 560.3,230.1 C553.2,229.7 555.6,230.5 551.5,227.6 C547.5,224.7 549.1,225.1 548.3,221.4 C547.4,217.6 547.5,219.7 549.0,216.3Z" fill="#ff6605"/>
<path d="M609.7,160.2 C611.1,157.0 610.8,156.5 613.9,155.7 C617.0,154.8 616.4,154.9 618.9,157.7 C621.4,160.4 621.0,159.8 621.4,163.9 C621.9,168.1 621.9,167.3 620.2,170.2 C618.5,173.1 619.1,172.7 616.4,172.7 C613.8,172.7 614.4,172.7 612.2,170.2 C609.9,167.7 610.5,168.5 609.7,165.2 C608.8,161.8 608.2,163.4 609.7,160.2Z" fill="#ff6605"/>
<path d="M664.5,112.8 C666.5,111.5 672.1,109.0 677.1,107.8 C682.1,106.5 685.1,108.0 689.6,106.5 C694.1,105.0 696.9,104.0 699.6,100.3 C702.4,96.5 701.4,90.7 703.4,87.7 C705.4,84.7 705.9,86.2 709.6,85.2 C713.4,84.2 717.7,85.0 722.2,82.7 C726.7,80.5 729.3,75.4 732.2,73.9 C735.1,72.4 736.7,72.9 736.7,75.2 C736.7,77.4 735.1,82.2 732.2,85.2 C729.3,88.2 725.7,88.7 722.2,90.2 C718.7,91.7 716.7,90.2 714.7,92.7 C712.7,95.2 713.2,99.5 712.2,102.8 C711.1,106.0 711.1,108.0 709.6,109.0 C708.1,110.0 706.6,108.8 704.6,107.8 C702.6,106.8 702.6,103.8 699.6,104.0 C696.6,104.3 694.1,107.8 689.6,109.0 C685.1,110.3 681.6,109.3 677.1,110.3 C672.6,111.3 669.5,113.5 667.0,114.0 C664.5,114.5 662.5,114.0 664.5,112.8Z" fill="#ff6605"/>
<path d="M747.2,94.0 C748.9,90.2 748.1,91.1 752.3,87.7 C756.4,84.4 756.0,87.3 759.8,84.0 C763.5,80.6 760.6,79.6 763.5,77.7 C766.5,75.8 765.6,74.9 768.5,78.2 C771.5,81.5 771.0,81.6 772.3,87.7 C773.6,93.8 774.0,91.5 772.3,96.5 C770.6,101.5 771.5,99.8 767.3,102.8 C763.1,105.7 764.8,105.3 759.8,105.3 C754.8,105.3 756.4,104.8 752.3,102.8 C748.1,100.7 748.9,101.9 747.2,99.0 C745.6,96.1 745.6,97.7 747.2,94.0Z" fill="#ff6605"/>
<path d="M762.3,94.7 C762.3,93.3 762.9,92.7 764.3,92.7 C765.6,92.7 766.3,93.3 766.3,94.7 C766.3,96.2 765.6,97.0 764.3,97.0 C762.9,97.0 762.3,96.2 762.3,94.7Z" fill="#fb0505"/>
<path d="M729.2,58.9 L731.7,53.1 L734.2,58.9Z" fill="#ff6605"/>
<path d="M603.9,125.1 C604.7,121.7 604.5,120.0 606.4,119.6 C608.3,119.2 608.6,120.7 609.7,123.8 C610.7,126.9 610.7,126.1 609.7,128.8 C608.6,131.6 608.3,131.9 606.4,132.1 C604.5,132.4 604.7,131.9 603.9,129.6 C603.1,127.3 603.1,128.4 603.9,125.1Z" fill="#0afa0a"/>
<path d="M802.4,63.9 C806.1,63.5 805.3,63.1 808.6,67.7 C812.0,72.3 809.1,71.8 812.4,77.7 C815.7,83.5 815.3,79.4 818.7,85.2 C822.0,91.1 822.0,88.6 822.4,95.2 C822.8,101.9 823.3,100.3 819.9,105.3 C816.6,110.3 818.2,106.9 812.4,110.3 C806.6,113.6 809.1,114.0 802.4,115.3 C795.7,116.5 798.2,112.4 792.4,114.0 C786.5,115.7 789.8,115.7 784.8,120.3 C779.8,124.9 781.9,124.1 777.3,127.8 C772.7,131.6 773.7,132.4 771.0,131.6 C768.4,130.7 768.0,130.7 769.3,125.3 C770.5,119.9 770.5,121.1 774.8,115.3 C779.2,109.4 778.1,114.5 782.3,107.8 C786.5,101.1 784.0,104.4 787.3,95.2 C790.7,86.0 789.0,89.0 792.4,80.2 C795.7,71.4 794.0,74.4 797.4,68.9 C800.7,63.5 798.6,64.3 802.4,63.9Z" fill="#089a38"/>
<path d="M496.4,145.4 C497.2,141.4 496.4,142.4 500.2,139.8 C503.9,137.3 502.7,137.7 507.7,137.8 C512.7,138.0 510.6,138.3 515.2,140.4 C519.8,142.4 518.1,145.4 521.5,144.1 C524.8,142.9 522.7,142.9 525.2,136.6 C527.7,130.3 525.6,130.9 529.0,125.3 C532.3,119.7 530.7,121.5 535.3,119.8 C539.8,118.1 536.9,118.5 542.8,120.3 C548.6,122.1 547.8,121.1 552.8,125.3 C557.8,129.5 555.7,127.0 557.8,132.8 C559.9,138.7 559.5,136.6 559.1,142.9 C558.6,149.1 559.5,147.0 556.6,151.6 C553.6,156.2 554.9,154.7 550.3,156.6 C545.7,158.6 547.8,158.2 542.8,157.4 C537.8,156.6 540.3,157.3 535.3,154.1 C530.2,151.0 531.9,150.0 527.7,147.9 C523.6,145.8 526.1,145.8 522.7,147.9 C519.4,150.0 521.9,150.8 517.7,154.1 C513.5,157.5 515.2,157.1 510.2,157.9 C505.2,158.7 506.8,158.7 502.7,156.6 C498.5,154.6 499.7,155.4 497.7,151.6 C495.6,147.9 495.6,149.3 496.4,145.4Z" fill="#056636"/>
<path d="M634.0,210.3 C631.9,203.2 633.7,203.9 636.5,194.0 C639.2,184.2 636.8,188.2 642.2,180.7 C647.7,173.2 644.2,176.4 652.8,171.5 C661.3,166.5 657.8,168.2 667.8,165.9 C677.8,163.7 674.1,163.3 682.8,164.7 C691.6,166.1 688.9,165.7 694.1,170.2 C699.3,174.7 693.8,176.1 698.4,178.2 C703.0,180.3 701.4,179.6 707.9,176.5 C714.4,173.4 712.1,172.9 717.9,168.9 C723.8,165.0 719.6,166.8 725.5,164.7 C731.3,162.6 728.8,162.5 735.5,162.7 C742.2,162.8 737.1,162.7 745.5,165.2 C753.9,167.7 752.2,161.8 760.5,170.2 C768.9,178.6 768.1,177.7 770.6,190.3 C773.1,202.8 771.4,196.1 768.1,207.8 C764.7,219.5 768.1,217.0 760.5,225.3 C753.0,233.7 753.9,228.7 745.5,232.9 C737.1,237.0 742.2,237.0 735.5,237.9 C728.8,238.7 731.3,239.5 725.5,235.4 C719.6,231.2 721.3,233.7 717.9,225.3 C714.6,217.0 715.4,219.5 715.4,210.3 C715.4,201.1 714.6,205.3 717.9,197.8 C721.3,190.3 724.6,194.4 725.5,187.7 C726.3,181.1 726.3,178.6 720.4,177.7 C714.6,176.9 716.3,182.3 707.9,185.2 C699.6,188.2 702.9,189.8 695.4,186.5 C687.9,183.1 693.7,179.0 685.4,175.2 C677.0,171.5 679.5,173.5 670.3,175.2 C661.1,176.9 665.3,175.2 657.8,180.2 C650.3,185.2 652.4,182.7 647.8,190.3 C643.2,197.8 645.7,194.4 644.0,202.8 C642.3,211.1 646.1,212.8 642.7,215.3 C639.4,217.8 636.1,217.4 634.0,210.3Z" fill="#056636"/>
<path d="M641.5,240.4 C642.7,236.2 643.6,236.2 647.8,237.9 C651.9,239.5 651.1,238.7 654.0,245.4 C656.9,252.1 656.1,249.6 656.5,257.9 C656.9,266.3 657.4,264.6 655.3,270.5 C653.2,276.3 654.0,274.6 650.3,275.5 C646.5,276.3 645.7,278.0 644.0,273.0 C642.3,267.9 645.3,267.9 645.3,260.4 C645.3,252.9 645.3,257.1 644.0,250.4 C642.7,243.7 640.2,244.6 641.5,240.4Z" fill="#056636"/>
<path d="M596.4,202.8 C597.6,197.8 598.5,198.6 601.4,200.3 C604.3,201.9 602.6,202.8 605.2,207.8 C607.7,212.8 603.9,209.5 608.9,215.3 C613.9,221.2 614.8,218.7 620.2,225.3 C625.6,232.0 625.2,231.2 625.2,235.4 C625.2,239.5 624.4,239.5 620.2,237.9 C616.0,236.2 618.1,234.5 612.7,230.4 C607.2,226.2 608.9,230.4 603.9,225.3 C598.9,220.3 600.1,222.8 597.6,215.3 C595.1,207.8 595.1,207.8 596.4,202.8Z" fill="#056636"/>
<path d="M642.7,195.3 C645.3,186.9 642.7,191.1 647.8,185.2 C652.8,179.4 650.3,181.9 657.8,177.7 C665.3,173.5 662.0,174.8 670.3,172.7 C678.7,170.6 676.2,169.8 682.8,171.5 C689.5,173.1 686.2,173.5 690.4,177.7 C694.5,181.9 690.4,182.3 695.4,184.0 C700.4,185.7 698.7,185.7 705.4,182.7 C712.1,179.8 709.6,178.6 715.4,175.2 C721.3,171.9 719.2,171.0 722.9,172.7 C726.7,174.4 725.0,174.4 726.7,180.2 C728.4,186.1 730.0,185.2 728.0,190.3 C725.9,195.3 724.6,191.1 720.4,195.3 C716.3,199.4 716.3,196.1 715.4,202.8 C714.6,209.5 716.3,207.0 717.9,215.3 C719.6,223.7 717.1,222.0 720.4,227.8 C723.8,233.7 721.3,231.2 728.0,232.9 C734.6,234.5 733.0,233.3 740.5,232.9 C748.0,232.4 745.9,229.9 750.5,231.6 C755.1,233.3 747.6,234.9 754.3,237.9 C761.0,240.8 765.1,222.8 770.6,240.4 C776.0,257.9 807.7,273.8 770.6,290.5 C733.4,307.2 696.6,300.5 659.0,290.5 C621.4,280.5 659.0,275.5 657.8,260.4 C656.5,245.4 657.8,253.7 655.3,245.4 C652.8,237.0 654.4,242.0 650.3,235.4 C646.1,228.7 646.1,233.7 642.7,225.3 C639.4,217.0 640.2,220.3 640.2,210.3 C640.2,200.3 640.2,203.6 642.7,195.3Z" fill="#00ffff"/>
<path d="M645.3,207.8 C646.9,196.9 645.3,201.1 650.3,192.8 C655.3,184.4 651.9,187.3 660.3,182.7 C668.6,178.1 667.0,179.0 675.3,179.0 C683.7,179.0 679.5,179.0 685.4,182.7 C691.2,186.5 688.7,183.6 692.9,190.3 C697.0,196.9 694.5,194.4 697.9,202.8 C701.2,211.1 700.0,206.1 702.9,215.3 C705.8,224.5 704.1,220.3 706.7,230.4 C709.2,240.4 708.5,235.4 710.4,245.4 C712.3,255.4 712.4,250.4 712.4,260.4 C712.4,270.5 712.8,267.9 710.4,275.5 C708.1,283.0 710.4,280.1 705.4,283.0 C700.4,285.9 702.1,284.2 695.4,284.2 C688.7,284.2 691.2,284.2 685.4,283.0 C679.5,281.7 686.6,282.1 677.8,280.5 C669.1,278.8 665.7,284.7 659.0,278.0 C652.4,271.3 659.0,271.3 657.8,260.4 C656.5,249.6 657.8,253.7 655.3,245.4 C652.8,237.0 653.6,242.0 650.3,235.4 C646.9,228.7 646.9,234.5 645.3,225.3 C643.6,216.1 643.6,218.7 645.3,207.8Z" fill="#14c0fa"/>
<path d="M645.3,212.8 C646.1,206.1 645.3,207.0 650.3,200.3 C655.3,193.6 652.8,196.1 660.3,192.8 C667.8,189.4 665.7,189.8 672.8,190.3 C679.9,190.7 676.6,189.8 681.6,194.0 C686.6,198.2 683.3,195.7 687.9,202.8 C692.5,209.9 691.6,207.8 695.4,215.3 C699.1,222.8 698.3,218.7 699.1,225.3 C700.0,232.0 700.0,228.7 697.9,235.4 C695.8,242.0 696.2,238.7 692.9,245.4 C689.5,252.1 690.8,248.7 687.9,255.4 C684.9,262.1 685.8,257.9 684.1,265.4 C682.4,273.0 684.9,272.5 682.8,278.0 C680.8,283.4 681.0,281.3 677.8,281.7 C674.7,282.1 675.8,283.8 673.3,279.2 C670.8,274.6 673.0,275.9 670.3,267.9 C667.6,260.0 668.6,264.6 665.3,255.4 C662.0,246.2 664.5,248.7 660.3,240.4 C656.1,232.0 656.9,237.0 652.8,230.4 C648.6,223.7 650.3,226.2 647.8,220.3 C645.3,214.5 644.4,219.5 645.3,212.8Z" fill="#0000ff"/>
<path d="M647.8,212.8 C648.6,207.0 647.8,207.8 652.8,202.8 C657.8,197.8 655.3,199.4 662.8,197.8 C670.3,196.1 668.6,195.3 675.3,197.8 C682.0,200.3 678.7,198.6 682.8,205.3 C687.0,212.0 687.0,209.5 687.9,217.8 C688.7,226.2 688.7,222.8 685.4,230.4 C682.0,237.9 682.8,237.9 677.8,240.4 C672.8,242.9 675.3,241.2 670.3,237.9 C665.3,234.5 667.8,234.5 662.8,230.4 C657.8,226.2 659.5,228.7 655.3,225.3 C651.1,222.0 652.8,224.5 650.3,220.3 C647.8,216.1 646.9,218.7 647.8,212.8Z" fill="#3305d0"/>
<path d="M650.3,212.8 C651.3,210.9 652.4,210.4 655.3,210.8 C658.2,211.2 658.6,211.7 659.0,214.1 C659.5,216.4 658.8,217.0 656.5,217.8 C654.3,218.7 654.4,218.2 652.3,216.6 C650.2,214.9 649.3,214.7 650.3,212.8Z" fill="#6a3cff"/>
<path d="M722.2,272.7 C720.9,268.1 721.3,269.0 724.7,262.7 C728.0,256.4 726.8,257.9 732.2,253.9 C737.6,249.9 734.3,252.3 741.0,250.7 C747.7,249.0 750.2,246.2 752.3,248.9 C754.3,251.7 752.3,252.7 747.2,258.9 C742.2,265.2 743.5,261.9 737.2,267.7 C730.9,273.6 733.5,274.8 728.4,276.5 C723.4,278.2 723.4,277.3 722.2,272.7Z" fill="#056636"/>
<path d="M599.9,215.1 C601.2,211.5 600.2,211.4 604.2,210.6 C608.1,209.7 606.7,209.4 611.7,212.6 C616.7,215.8 615.5,214.7 619.2,220.1 C623.0,225.5 622.6,224.3 623.0,228.9 C623.4,233.5 624.2,233.0 620.5,233.9 C616.7,234.7 617.1,233.6 611.7,231.4 C606.3,229.1 607.9,230.5 604.2,227.1 C600.4,223.8 601.8,225.4 600.4,221.4 C599.0,217.3 598.7,218.7 599.9,215.1Z" fill="#00ffff"/>
<path d="M605.4,220.1 C606.3,217.8 606.5,217.6 609.2,218.8 C611.9,220.1 611.5,220.3 613.4,223.9 C615.4,227.5 616.0,227.5 614.9,229.6 C613.9,231.7 613.2,231.5 610.4,230.1 C607.7,228.8 608.4,229.0 606.7,225.6 C605.0,222.3 604.6,222.4 605.4,220.1Z" fill="#14c0fa"/>
<path d="M625.5,211.3 C627.1,207.6 627.6,207.6 630.5,208.8 C633.4,210.1 633.4,210.5 634.2,215.1 C635.1,219.7 634.7,219.3 633.0,222.6 C631.3,225.9 631.7,225.9 629.2,225.1 C626.7,224.3 626.7,224.7 625.5,220.1 C624.2,215.5 623.8,215.1 625.5,211.3Z" fill="#0afa0a"/>
<path d="M631.7,238.9 C633.7,235.0 633.4,234.7 638.0,233.9 C642.6,233.0 642.2,233.0 645.5,236.4 C648.9,239.7 648.5,239.5 648.0,243.9 C647.6,248.3 648.0,247.6 644.3,249.7 C640.5,251.8 640.8,251.5 636.8,250.2 C632.7,248.8 633.9,249.4 632.2,245.7 C630.6,241.9 629.8,242.8 631.7,238.9Z" fill="#0afa0a"/>
<path d="M621.7,257.7 C622.7,255.6 623.1,254.8 625.0,255.2 C626.9,255.6 627.5,256.4 627.5,258.9 C627.5,261.5 626.8,261.9 625.0,262.7 C623.1,263.5 623.1,263.1 622.0,261.5 C620.9,259.8 620.7,259.8 621.7,257.7Z" fill="#0afa0a"/>
<path d="M606.2,195.5 C606.4,193.0 607.1,193.0 609.2,193.0 C611.3,193.0 611.5,193.4 612.4,195.5 C613.4,197.7 613.3,197.9 611.9,199.5 C610.6,201.2 610.4,201.9 608.4,200.6 C606.5,199.2 605.9,198.0 606.2,195.5Z" fill="#ffff00"/>
<path d="M749.7,252.7 L767.3,252.7 L767.3,282.8 L749.7,282.8Z" fill="#056636"/>
<path d="M679.6,295.3 L692.1,295.3 L689.6,315.3 L679.6,315.3Z" fill="#056636"/>
<path d="M692.1,295.3 L702.1,295.3 L702.1,315.3 L689.6,315.3Z" fill="#14c0fa"/>
<path d="M687.1,282.8 L697.1,282.8 L697.1,297.8 L687.1,297.8Z" fill="#00ffff"/>
<path d="M759.7,15.0 L769.4,23.5 L779.8,31.2 L784.6,42.2 L784.0,49.9 L776.7,56.7 L772.5,61.0 L773.7,70.3 L770.6,72.0" fill="none" stroke="#c8c8c8" stroke-width="0.7" stroke-opacity="0.62"/>
<path d="M770.6,72.0 L776.7,78.0 L782.2,81.4 L788.9,83.9 L795.0,86.5 L801.0,90.7 L807.1,94.1 L812.0,89.9 L816.2,94.1 L820.5,98.4" fill="none" stroke="#c8c8c8" stroke-width="0.7" stroke-opacity="0.62"/>
<path d="M770.6,72.0 L764.6,78.8 L763.3,85.6 L770.6,89.9 L773.7,98.4" fill="none" stroke="#c8c8c8" stroke-width="0.7" stroke-opacity="0.62"/>
<path d="M773.7,98.4 L779.8,103.5 L784.6,109.5 L785.8,116.3 L788.9,119.7" fill="none" stroke="#c8c8c8" stroke-width="0.7" stroke-opacity="0.62"/>
<path d="M773.7,98.4 L767.6,104.4 L761.5,106.9 L755.4,111.2 L748.1,117.1" fill="none" stroke="#c8c8c8" stroke-width="0.7" stroke-opacity="0.62"/>
<path d="M748.1,117.1 L751.2,125.6 L751.8,128.2" fill="none" stroke="#c8c8c8" stroke-width="0.7" stroke-opacity="0.62"/>
<path d="M748.1,117.1 L742.1,112.9 L737.2,106.9 L728.1,111.2 L722.0,114.6 L715.9,115.4 L715.3,123.9" fill="none" stroke="#c8c8c8" stroke-width="0.7" stroke-opacity="0.62"/>
<path d="M715.3,123.9 L716.5,131.6 L714.1,140.9 L713.5,149.4 L714.1,158.8" fill="none" stroke="#c8c8c8" stroke-width="0.7" stroke-opacity="0.62"/>
<path d="M715.3,123.9 L708.6,126.5 L703.2,131.6 L698.9,133.3" fill="none" stroke="#c8c8c8" stroke-width="0.7" stroke-opacity="0.62"/>
<path d="M698.9,133.3 L697.1,140.9 L694.6,149.4 L694.0,162.2 L693.4,174.1" fill="none" stroke="#c8c8c8" stroke-width="0.7" stroke-opacity="0.62"/>
<path d="M693.4,174.1 L700.7,170.7 L706.8,169.0 L712.9,163.9 L714.1,158.8" fill="none" stroke="#c8c8c8" stroke-width="0.7" stroke-opacity="0.62"/>
<path d="M714.1,158.8 L720.8,161.3 L724.4,159.6 L728.1,151.1 L734.2,145.2 L739.0,142.6" fill="none" stroke="#c8c8c8" stroke-width="0.7" stroke-opacity="0.62"/>
<path d="M724.4,159.6 L722.0,169.0 L728.1,174.1 L734.2,175.0 L740.2,174.1 L747.5,170.7" fill="none" stroke="#c8c8c8" stroke-width="0.7" stroke-opacity="0.62"/>
<path d="M728.1,174.1 L729.9,180.9 L725.6,187.7 L727.5,193.7 L725.0,198.8" fill="none" stroke="#c8c8c8" stroke-width="0.7" stroke-opacity="0.62"/>
<path d="M734.2,175.0 L740.2,183.5 L745.7,188.6 L743.3,196.2 L747.5,201.3 L750.0,203.9" fill="none" stroke="#c8c8c8" stroke-width="0.7" stroke-opacity="0.62"/>
<path d="M750.0,203.9 L755.4,204.7 L759.7,206.4" fill="none" stroke="#c8c8c8" stroke-width="0.7" stroke-opacity="0.62"/>
<path d="M750.0,203.9 L746.3,210.7 L742.7,217.5 L740.2,221.7" fill="none" stroke="#c8c8c8" stroke-width="0.7" stroke-opacity="0.62"/>
<path d="M697.1,186.0 L703.8,192.0 L712.9,193.7 L719.0,197.9 L725.0,198.8" fill="none" stroke="#c8c8c8" stroke-width="0.7" stroke-opacity="0.62"/>
<path d="M725.0,198.8 L728.1,205.6 L728.1,214.9 L731.7,216.6 L740.2,221.7" fill="none" stroke="#c8c8c8" stroke-width="0.7" stroke-opacity="0.62"/>
<path d="M687.3,216.6 L693.4,214.9 L700.7,214.1 L708.6,215.8 L713.5,219.2 L715.9,221.7 L721.4,217.5 L728.1,214.9" fill="none" stroke="#c8c8c8" stroke-width="0.7" stroke-opacity="0.62"/>
<path d="M715.9,221.7 L715.3,230.3 L714.1,238.8 L715.9,247.3 L715.3,252.4" fill="none" stroke="#c8c8c8" stroke-width="0.7" stroke-opacity="0.62"/>
<path d="M740.2,221.7 L742.1,227.7 L737.2,233.7 L733.6,240.5 L729.3,249.0 L728.1,256.6 L726.9,259.2" fill="none" stroke="#c8c8c8" stroke-width="0.7" stroke-opacity="0.62"/>
<path d="M742.1,227.7 L746.3,233.7 L753.6,237.1" fill="none" stroke="#c8c8c8" stroke-width="0.7" stroke-opacity="0.62"/>
<path d="M735.4,267.7 L732.3,260.0 L726.9,259.2 L720.8,257.5 L715.3,252.4 L708.6,255.8 L703.8,257.5" fill="none" stroke="#c8c8c8" stroke-width="0.7" stroke-opacity="0.62"/>
<path d="M703.8,257.5 L700.7,264.3 L702.5,272.8 L696.5,278.7 L690.4,284.7" fill="none" stroke="#c8c8c8" stroke-width="0.7" stroke-opacity="0.62"/>
<path d="M703.8,257.5 L697.7,251.5 L691.6,247.3 L688.0,245.6" fill="none" stroke="#c8c8c8" stroke-width="0.7" stroke-opacity="0.62"/>
<path d="M688.0,245.6 L687.3,237.1 L688.0,227.7 L687.3,221.7 L687.3,216.6" fill="none" stroke="#c8c8c8" stroke-width="0.7" stroke-opacity="0.62"/>
<path d="M688.0,245.6 L682.5,251.5 L674.6,254.1 L667.3,256.6 L661.2,259.2 L658.2,257.5" fill="none" stroke="#c8c8c8" stroke-width="0.7" stroke-opacity="0.62"/>
<path d="M658.2,257.5 L664.2,264.3 L667.3,268.5 L664.2,271.1" fill="none" stroke="#c8c8c8" stroke-width="0.7" stroke-opacity="0.62"/>
<path d="M658.2,257.5 L657.6,249.0 L655.1,243.0 L660.0,236.2 L663.0,232.0" fill="none" stroke="#c8c8c8" stroke-width="0.7" stroke-opacity="0.62"/>
<path d="M663.0,232.0 L669.1,226.0 L675.8,223.4 L681.9,221.7 L687.3,221.7" fill="none" stroke="#c8c8c8" stroke-width="0.7" stroke-opacity="0.62"/>
<path d="M669.1,226.0 L664.2,217.5 L666.1,211.5 L672.1,209.8 L676.4,204.7 L682.5,194.5" fill="none" stroke="#c8c8c8" stroke-width="0.7" stroke-opacity="0.62"/>
<path d="M687.3,216.6 L682.5,209.0 L688.6,204.7 L692.2,201.3 L689.2,197.9 L682.5,194.5" fill="none" stroke="#c8c8c8" stroke-width="0.7" stroke-opacity="0.62"/>
<path d="M682.5,194.5 L675.2,192.0 L667.3,189.4 L664.2,188.6" fill="none" stroke="#c8c8c8" stroke-width="0.7" stroke-opacity="0.62"/>
<path d="M682.5,194.5 L689.2,196.2 L692.8,187.7 L697.1,186.0 L697.7,179.2 L693.4,174.1" fill="none" stroke="#c8c8c8" stroke-width="0.7" stroke-opacity="0.62"/>
<path d="M664.2,188.6 L669.7,179.2 L670.9,170.7 L678.2,168.2 L683.1,159.6 L675.2,153.7 L677.0,147.7" fill="none" stroke="#c8c8c8" stroke-width="0.7" stroke-opacity="0.62"/>
<path d="M677.0,147.7 L684.3,145.2 L688.6,140.1 L694.6,134.1 L698.9,133.3" fill="none" stroke="#c8c8c8" stroke-width="0.7" stroke-opacity="0.62"/>
<path d="M677.0,147.7 L670.3,151.1 L667.3,162.2 L669.1,168.2 L664.2,164.8 L656.9,150.3 L666.1,145.2 L666.7,135.0 L672.1,133.3 L672.8,140.9 L677.0,147.7" fill="none" stroke="#c8c8c8" stroke-width="0.7" stroke-opacity="0.62"/>
<path d="M656.9,150.3 L652.1,143.5 L654.5,134.1 L646.0,135.0 L636.9,136.7 L630.8,128.2 L624.7,123.9 L620.5,121.4 L613.8,104.4" fill="none" stroke="#c8c8c8" stroke-width="0.7" stroke-opacity="0.62"/>
<path d="M588.2,136.7 L597.4,134.1 L606.5,135.0 L615.6,138.4 L624.7,140.9 L633.8,145.2 L643.0,149.4 L648.4,153.7 L649.0,160.5 L647.2,165.6 L643.0,170.7 L640.5,177.5 L635.7,175.8 L636.9,185.2 L643.0,185.2" fill="none" stroke="#c8c8c8" stroke-width="0.7" stroke-opacity="0.62"/>
<path d="M643.0,185.2 L649.0,177.5 L655.1,179.2 L660.0,187.7 L664.2,188.6" fill="none" stroke="#c8c8c8" stroke-width="0.7" stroke-opacity="0.62"/>
<path d="M643.0,185.2 L636.9,189.4 L630.8,189.4 L624.7,183.5 L618.6,185.2 L615.0,191.1" fill="none" stroke="#c8c8c8" stroke-width="0.7" stroke-opacity="0.62"/>
<path d="M615.0,191.1 L606.5,194.5 L597.4,197.9 L588.2,192.0 L579.1,187.7 L571.2,183.5 L570.0,170.7 L567.0,161.3" fill="none" stroke="#c8c8c8" stroke-width="0.7" stroke-opacity="0.62"/>
<path d="M615.0,191.1 L621.7,200.5 L624.1,209.0 L625.3,220.0 L623.5,226.0 L620.5,233.7" fill="none" stroke="#c8c8c8" stroke-width="0.7" stroke-opacity="0.62"/>
<path d="M625.3,220.0 L630.8,227.7 L635.7,233.7 L641.7,245.6 L647.8,244.7 L650.9,237.1 L653.9,230.3 L658.2,226.0 L663.0,232.0" fill="none" stroke="#c8c8c8" stroke-width="0.7" stroke-opacity="0.62"/>
<path d="M503.1,176.7 L512.2,167.3 L524.4,164.8 L539.6,163.9 L554.8,160.5 L567.0,161.3" fill="none" stroke="#c8c8c8" stroke-width="0.7" stroke-opacity="0.62"/>
<path d="M567.0,161.3 L576.1,157.1 L576.1,146.9 L571.8,141.8 L579.1,136.7 L588.2,136.7 L587.0,128.2 L594.3,119.7 L603.4,111.2 L608.9,105.2" fill="none" stroke="#c8c8c8" stroke-width="0.7" stroke-opacity="0.62"/>
<path d="M725.0,128.2 L728.1,123.1 L734.2,123.1 L736.6,127.3 L732.9,131.6 L737.8,134.1 L737.2,139.2 L732.9,138.4 L729.3,132.4 L725.0,128.2" fill="none" stroke="#c8c8c8" stroke-width="0.7" stroke-opacity="0.62"/>
</g>
<path d="M470.3,134.1 L472.1,129.0 L477.6,124.8 L482.4,123.9 L487.3,124.8 L490.4,119.7 L497.6,118.8 L503.1,112.9 L510.4,110.3 L511.0,104.4 L512.8,101.8 L511.6,93.3 L511.6,87.3 L508.6,86.5 L519.5,83.1 L524.4,83.9 L523.2,80.5 L527.4,66.9 L538.4,68.6 L542.6,67.8 L542.6,60.1 L549.3,55.0 L550.5,50.8 L554.2,50.8 L556.6,49.9 L558.4,54.2 L563.9,60.1 L570.6,61.0 L575.5,69.5 L576.1,77.1 L574.3,81.4 L579.7,84.8 L591.3,85.6 L598.6,90.7 L602.8,91.6 L604.0,100.9 L608.9,105.2 L613.8,104.4 L627.8,106.1 L632.6,106.1 L641.7,106.9 L650.9,112.0 L658.2,112.0 L661.2,114.6 L672.1,108.6 L684.3,107.8 L692.2,106.1 L694.0,104.4 L697.7,99.2 L703.2,96.7 L702.5,85.6 L707.4,85.6 L713.5,88.2 L719.0,82.2 L726.3,81.4 L729.3,79.7 L731.7,74.6 L736.6,73.7 L742.1,71.2 L748.1,72.0 L751.8,71.2 L750.6,66.9 L743.3,61.8 L739.0,62.7 L734.8,61.8 L727.5,62.7 L725.6,61.0 L729.9,51.6 L732.3,44.8 L739.0,47.4 L743.9,44.0 L748.1,42.2 L747.5,39.7 L753.0,28.6 L756.7,26.1 L752.4,21.0 L756.7,17.6 L766.4,13.3 L774.3,13.3 L782.2,15.9 L786.4,16.7 L790.7,22.7 L795.0,32.0 L796.8,40.5 L798.6,44.8 L805.3,46.5 L810.2,48.2 L814.4,52.5 L817.5,52.5 L817.5,57.6 L818.7,62.7 L828.4,62.7 L832.0,59.3 L840.0,56.7 L842.4,56.7 L841.8,62.7 L838.7,66.1 L836.9,74.6 L832.0,84.8 L825.4,83.1 L822.3,85.6 L819.3,86.5 L821.1,99.2 L819.9,103.5 L816.8,107.8 L814.4,103.5 L812.6,102.6 L811.4,107.8 L806.5,111.2 L801.6,111.2 L802.9,114.6 L796.8,115.4 L794.4,112.9 L788.9,120.5 L782.2,123.9 L779.2,128.2 L773.7,129.9 L766.4,134.1 L762.1,137.5 L760.3,132.4 L765.2,124.8 L763.3,120.5 L758.5,121.4 L751.8,128.2 L746.3,135.0 L739.0,135.8 L737.8,140.9 L740.2,144.3 L745.7,148.6 L746.3,152.0 L751.2,152.0 L756.7,146.9 L761.5,149.4 L767.6,150.3 L767.6,154.5 L758.5,157.1 L754.2,162.2 L747.5,170.7 L748.1,173.3 L754.2,177.5 L757.9,187.7 L758.5,192.0 L764.0,198.8 L764.0,205.6 L757.9,210.7 L761.5,213.2 L765.2,214.9 L762.1,221.7 L762.1,227.7 L756.7,232.8 L753.6,238.8 L750.0,245.6 L750.0,251.5 L745.7,255.8 L740.8,261.7 L736.0,267.7 L731.7,271.9 L725.0,275.3 L717.7,277.9 L713.5,275.3 L712.9,280.4 L706.8,283.0 L701.3,285.5 L695.2,288.1 L694.0,294.9 L691.0,295.8 L689.8,289.8 L689.2,284.7 L683.1,283.8 L679.4,285.5 L675.8,284.7 L671.5,281.3 L670.9,273.6 L666.7,273.6 L663.0,270.2 L660.0,273.6 L654.5,277.0 L650.9,274.5 L646.0,275.3 L643.6,277.9 L641.7,279.6 L640.5,288.1 L638.1,286.4 L636.3,283.8 L632.0,285.5 L630.2,281.3 L625.9,280.4 L627.8,273.6 L624.1,271.1 L622.9,263.4 L616.8,265.1 L616.2,257.5 L619.9,250.7 L622.9,248.1 L622.9,234.5 L620.5,233.7 L618.0,227.7 L615.0,228.6 L612.6,232.8 L607.7,228.6 L606.5,235.4 L602.2,239.6 L594.3,240.5 L588.2,239.6 L582.8,240.5 L579.7,232.8 L576.1,231.1 L571.8,228.6 L567.6,228.6 L563.3,236.2 L562.7,230.3 L558.4,231.1 L553.0,232.0 L545.7,230.3 L543.9,227.7 L540.2,225.1 L534.7,222.6 L529.3,216.6 L522.0,210.7 L516.5,213.2 L510.4,208.1 L507.4,204.7 L501.9,202.2 L499.5,192.0 L504.3,192.0 L501.3,182.6 L502.5,176.7 L498.9,174.1 L497.0,166.5 L491.0,165.6 L486.1,163.9 L484.3,157.1 L478.2,153.7 L475.8,152.0 L478.2,148.6 L478.2,141.8 L471.5,140.1ZM761.5,253.2 L764.6,255.8 L762.1,264.3 L760.9,271.9 L757.9,282.1 L756.0,278.7 L753.0,272.8 L753.6,266.0 L758.5,255.8ZM691.6,297.5 L697.1,298.3 L697.7,301.7 L694.6,308.5 L689.2,313.6 L683.7,311.1 L683.1,304.3 L687.3,299.2Z" fill="none" stroke="#b4b4b4" stroke-width="0.7" stroke-opacity="0.7"/>
<g transform="translate(802.5,236.5)">
<rect x="0" y="0" width="54.2" height="104.7" fill="#fff" stroke="#6e7878" stroke-width="1.2"/>
<path d="M0.5,6 C4,6 5,9 8,10.5 C10,11.5 12,10 13.5,11.5" fill="none" stroke="#1e2828" stroke-width="1.6"/>
<path d="M13.5,11.5 C15,15 16,16.5 18,14 C19,11 22,12 25,10.5 C28,9 31,8 33,5 C34.5,3 36,2 37,0.5" fill="none" stroke="#3cb4be" stroke-width="0.9"/>
<ellipse cx="14.5" cy="21" rx="3.6" ry="4.6" transform="rotate(25 14.5 21)" fill="none" stroke="#3cb4be" stroke-width="0.9"/>
<path d="M46,1 C47,4 49,7 50.5,4 L51.5,0.5" fill="none" stroke="#3cb4be" stroke-width="0.9"/>
<path d="M49.5,14.0 L51.5,9.0" stroke="#1e2d2d" stroke-width="1.7" stroke-linecap="round"/>
<path d="M46.5,26.0 L49.0,18.0" stroke="#1e2d2d" stroke-width="1.7" stroke-linecap="round"/>
<path d="M13.5,36.0 L16.0,43.0" stroke="#1e2d2d" stroke-width="1.7" stroke-linecap="round"/>
<path d="M46.0,56.5 L47.5,49.0" stroke="#1e2d2d" stroke-width="1.7" stroke-linecap="round"/>
<path d="M34.0,76.0 L38.5,69.5" stroke="#1e2d2d" stroke-width="1.7" stroke-linecap="round"/>
<path d="M9.0,80.0 L8.5,72.0" stroke="#1e2d2d" stroke-width="1.7" stroke-linecap="round"/>
<path d="M21.0,90.0 L28.0,88.0" stroke="#1e2d2d" stroke-width="1.7" stroke-linecap="round"/>
<circle cx="37.0" cy="11.0" r="0.9" fill="#2d96a5"/>
<circle cx="24.0" cy="33.0" r="0.9" fill="#2d96a5"/>
<circle cx="31.5" cy="32.5" r="0.9" fill="#2d96a5"/>
<circle cx="41.0" cy="36.0" r="0.9" fill="#2d96a5"/>
<circle cx="30.5" cy="53.5" r="0.9" fill="#2d96a5"/>
<circle cx="43.0" cy="56.0" r="0.9" fill="#2d96a5"/>
<circle cx="32.0" cy="60.0" r="0.9" fill="#2d96a5"/>
<circle cx="33.0" cy="66.0" r="0.9" fill="#2d96a5"/>
<circle cx="13.0" cy="72.5" r="0.9" fill="#2d96a5"/>
<circle cx="20.0" cy="72.0" r="0.9" fill="#2d96a5"/>
<circle cx="29.0" cy="71.5" r="0.9" fill="#2d96a5"/>
<circle cx="23.0" cy="86.0" r="0.9" fill="#2d96a5"/>
<circle cx="30.5" cy="82.0" r="0.9" fill="#2d96a5"/>
<rect x="24.7" y="94.7" width="29.0" height="9.5" fill="#c8d2d2" stroke="#5a6464" stroke-width="0.6"/>
<text x="25.2" y="102.4" font-size="7" fill="#1e3c3c" style="font-family:'Liberation Sans','Noto Sans CJK SC',sans-serif">南海诸岛</text>
</g>
<rect x="443.5" y="1.0" width="413.2" height="340.2" fill="none" stroke="#000" stroke-width="1.25"/>
<path d="M448.4,341.2 v-5 M509.2,341.2 v-5 M570.0,341.2 v-5 M630.8,341.2 v-5 M691.6,341.2 v-5 M752.4,341.2 v-5 M813.2,341.2 v-5 M443.5,298.3 h5 M443.5,213.2 h5 M443.5,128.2 h5 M443.5,43.1 h5" stroke="#000" stroke-width="1.2" fill="none"/>
<text class="k" transform="translate(448.4,356.8) scale(0.7,1)" text-anchor="middle">70</text>
<text class="k" transform="translate(509.2,356.8) scale(0.7,1)" text-anchor="middle">80</text>
<text class="k" transform="translate(570.0,356.8) scale(0.7,1)" text-anchor="middle">90</text>
<text class="k" transform="translate(630.8,356.8) scale(0.7,1)" text-anchor="middle">100</text>
<text class="k" transform="translate(691.6,356.8) scale(0.7,1)" text-anchor="middle">110</text>
<text class="k" transform="translate(752.4,356.8) scale(0.7,1)" text-anchor="middle">120</text>
<text class="k" transform="translate(813.2,356.8) scale(0.7,1)" text-anchor="middle">130</text>
<text class="k" transform="translate(442.5,303.7) scale(0.7,1)" text-anchor="end">20</text>
<text class="k" transform="translate(442.5,218.6) scale(0.7,1)" text-anchor="end">30</text>
<text class="k" transform="translate(442.5,133.6) scale(0.7,1)" text-anchor="end">40</text>
<text class="k" transform="translate(442.5,48.5) scale(0.7,1)" text-anchor="end">50</text>
<rect x="447.5" y="81.00" width="11.5" height="22.48" fill="#fb0505"/>
<rect x="447.5" y="103.18" width="11.5" height="22.48" fill="#ff6605"/>
<rect x="447.5" y="125.36" width="11.5" height="22.48" fill="#ffff00"/>
<rect x="447.5" y="147.55" width="11.5" height="22.48" fill="#0afa0a"/>
<rect x="447.5" y="169.73" width="11.5" height="22.48" fill="#089a38"/>
<rect x="447.5" y="191.91" width="11.5" height="22.48" fill="#056636"/>
<rect x="447.5" y="214.09" width="11.5" height="22.48" fill="#00ffff"/>
<rect x="447.5" y="236.27" width="11.5" height="22.48" fill="#14c0fa"/>
<rect x="447.5" y="258.45" width="11.5" height="22.48" fill="#0000ff"/>
<rect x="447.5" y="280.64" width="11.5" height="22.48" fill="#3305d0"/>
<rect x="447.5" y="302.82" width="11.5" height="22.48" fill="#6a3cff"/>
<text class="c" font-size="12.5" font-weight="bold" transform="translate(463.0,106.9) scale(0.86,1)" stroke="#222" stroke-width="0.35">0.70</text>
<text class="c" font-size="12.5" font-weight="bold" transform="translate(463.0,129.1) scale(0.86,1)" stroke="#222" stroke-width="0.35">0.65</text>
<text class="c" font-size="12.5" font-weight="bold" transform="translate(463.0,151.2) scale(0.86,1)" stroke="#222" stroke-width="0.35">0.60</text>
<text class="c" font-size="12.5" font-weight="bold" transform="translate(463.0,173.4) scale(0.86,1)" stroke="#222" stroke-width="0.35">0.55</text>
<text class="c" font-size="12.5" font-weight="bold" transform="translate(463.0,195.6) scale(0.86,1)" stroke="#222" stroke-width="0.35">0.50</text>
<text class="c" font-size="12.5" font-weight="bold" transform="translate(463.0,217.8) scale(0.86,1)" stroke="#222" stroke-width="0.35">0.45</text>
<text class="c" font-size="12.5" font-weight="bold" transform="translate(463.0,240.0) scale(0.86,1)" stroke="#222" stroke-width="0.35">0.40</text>
<text class="c" font-size="12.5" font-weight="bold" transform="translate(463.0,262.2) scale(0.86,1)" stroke="#222" stroke-width="0.35">0.35</text>
<text class="c" font-size="12.5" font-weight="bold" transform="translate(463.0,284.3) scale(0.86,1)" stroke="#222" stroke-width="0.35">0.30</text>
<text class="c" font-size="12.5" font-weight="bold" transform="translate(463.0,306.5) scale(0.86,1)" stroke="#222" stroke-width="0.35">0.25</text>
<text class="c" font-size="12.5" font-weight="bold" transform="translate(463.0,328.7) scale(0.86,1)" stroke="#222" stroke-width="0.35">0.20</text>
<text class="t" x="612.3" y="58.5" font-size="22.6" letter-spacing="1.6"><tspan>直射比</tspan></text>
</g>
<g id="panel3">
<rect x="13.5" y="356.5" width="421.5" height="344.7" fill="#fff"/>
<g clip-path="url(#cn3)">
<rect x="13.5" y="356.5" width="421.5" height="344.7" fill="#089a38"/>
<path d="M172.9,447.5 C166.3,451.2 165.7,451.3 160.4,454.0 C155.0,456.8 155.5,453.4 152.9,457.8 C150.2,462.1 151.0,462.9 150.4,470.3 C149.7,477.7 150.0,477.3 150.4,485.3 C150.7,493.4 151.6,492.4 151.6,500.4 C151.6,508.4 149.3,508.7 150.4,515.4 C151.4,522.1 151.4,520.8 155.4,525.4 C159.4,530.1 160.0,530.0 165.4,533.0 C170.7,535.9 170.1,534.5 175.4,536.5 C180.7,538.4 179.9,540.2 185.2,540.2 C190.5,540.2 190.5,539.8 195.2,536.5 C199.9,533.1 199.7,532.7 202.7,527.7 C205.7,522.7 205.8,523.0 206.5,517.7 C207.2,512.3 206.9,512.3 205.2,507.6 C203.6,503.0 202.9,503.8 200.2,500.1 C197.6,496.4 195.9,496.5 195.2,493.9 C194.5,491.2 193.7,491.1 197.7,490.1 C201.7,489.1 204.2,489.1 210.3,490.1 C216.3,491.1 214.9,492.2 220.3,493.9 C225.6,495.5 225.0,496.0 230.3,496.4 C235.6,496.7 235.6,496.8 240.3,495.1 C245.0,493.4 243.8,493.4 247.8,490.1 C251.9,486.8 250.7,486.6 255.4,482.6 C260.0,478.6 260.0,477.7 265.4,475.1 C270.7,472.4 270.1,473.6 275.4,472.6 C280.8,471.6 280.8,473.3 285.4,471.3 C290.1,469.3 290.3,468.7 293.0,465.0 C295.6,461.4 295.0,461.5 295.5,457.5 C295.9,453.5 295.0,454.0 294.7,450.0 C294.4,446.0 310.1,446.5 294.2,442.5 C278.4,438.5 264.4,435.6 235.3,435.0 C206.2,434.3 201.8,436.6 185.2,440.0 C168.5,443.3 179.5,443.8 172.9,447.5Z" fill="#0afa0a"/>
<path d="M50.1,482.8 C53.9,478.2 55.1,479.9 62.7,476.5 C70.2,473.2 66.0,476.5 72.7,472.8 C79.4,469.0 78.1,471.1 82.7,465.3 C87.3,459.4 84.0,461.9 86.5,455.2 C89.0,448.6 85.6,450.2 90.2,445.2 C94.8,440.2 92.7,441.5 100.3,440.2 C107.8,438.9 105.3,438.9 112.8,441.5 C120.3,444.0 117.0,443.1 122.8,447.7 C128.7,452.3 125.3,452.3 130.3,455.2 C135.3,458.2 134.1,453.1 137.8,456.5 C141.6,459.8 140.8,457.3 141.6,465.3 C142.4,473.2 141.2,470.3 140.4,480.3 C139.5,490.3 139.9,486.1 139.1,495.3 C138.3,504.5 139.9,501.2 137.8,507.9 C135.8,514.6 137.8,511.6 132.8,515.4 C127.8,519.1 130.3,517.5 122.8,519.1 C115.3,520.8 118.6,520.8 110.3,520.4 C101.9,520.0 106.1,518.3 97.7,517.9 C89.4,517.5 93.6,519.6 85.2,519.1 C76.9,518.7 80.2,519.6 72.7,516.6 C65.2,513.7 68.5,515.8 62.7,510.4 C56.8,504.9 58.9,507.0 55.1,500.4 C51.4,493.7 53.0,496.2 51.4,490.3 C49.7,484.5 46.4,487.4 50.1,482.8Z" fill="#056636"/>
<path d="M71.4,504.1 C71.8,499.9 71.4,500.8 75.2,497.8 C78.9,494.9 77.7,495.8 82.7,495.3 C87.7,494.9 85.6,498.3 90.2,496.6 C94.8,494.9 93.1,495.8 96.5,490.3 C99.8,484.9 98.2,487.0 100.3,480.3 C102.3,473.6 100.3,477.0 102.8,470.3 C105.3,463.6 103.6,465.1 107.8,460.3 C111.9,455.4 110.3,457.0 115.3,455.7 C120.3,454.5 119.5,454.2 122.8,456.5 C126.1,458.8 125.7,458.2 125.3,462.8 C124.9,467.4 122.4,465.3 121.6,470.3 C120.7,475.3 120.7,472.8 122.8,477.8 C124.9,482.8 126.0,479.5 127.8,485.3 C129.7,491.2 129.2,489.1 128.3,495.3 C127.5,501.6 128.4,499.3 125.3,504.1 C122.2,509.0 124.1,507.8 119.0,509.9 C114.0,512.0 115.7,511.5 110.3,510.4 C104.8,509.3 107.8,509.5 102.8,506.6 C97.7,503.7 99.8,502.0 95.2,501.6 C90.6,501.2 92.3,502.4 89.0,505.4 C85.6,508.3 88.6,507.9 85.2,510.4 C81.9,512.9 82.7,512.9 78.9,512.9 C75.2,512.9 76.4,513.3 73.9,510.4 C71.4,507.5 71.0,508.3 71.4,504.1Z" fill="#00ffff"/>
<path d="M163.9,475.1 C165.6,469.6 163.5,471.7 166.4,468.8 C169.3,465.9 169.3,465.9 172.7,466.3 C176.0,466.7 176.4,466.3 176.4,470.1 C176.4,473.8 174.7,472.6 172.7,477.6 C170.6,482.6 170.2,480.5 170.2,485.1 C170.2,489.7 168.5,487.2 172.7,491.4 C176.8,495.5 176.8,493.0 182.7,497.6 C188.5,502.2 185.6,499.3 190.2,505.1 C194.8,511.0 194.0,508.5 196.5,515.2 C199.0,521.8 199.0,519.5 197.7,525.2 C196.5,530.9 196.9,530.1 192.7,532.2 C188.5,534.3 190.2,533.4 185.2,531.5 C180.2,529.5 182.7,530.2 177.7,526.4 C172.7,522.7 175.2,524.4 170.2,520.2 C165.1,516.0 166.4,518.5 162.6,513.9 C158.9,509.3 159.9,512.7 158.9,506.4 C157.9,500.1 158.8,502.2 159.6,495.1 C160.5,488.0 160.0,491.8 161.4,485.1 C162.8,478.4 162.2,480.5 163.9,475.1Z" fill="#ffff00"/>
<path d="M178.9,513.9 C180.1,511.7 179.9,510.9 182.7,510.9 C185.4,510.9 185.0,511.2 187.2,513.9 C189.4,516.6 189.4,516.2 189.2,518.9 C188.9,521.7 188.9,521.5 186.4,522.2 C184.0,522.8 184.4,522.4 181.9,520.9 C179.5,519.4 180.2,520.0 179.2,517.7 C178.2,515.3 177.8,516.2 178.9,513.9Z" fill="#ff6605"/>
<path d="M202.7,470.1 C203.1,465.9 203.1,466.3 206.5,463.8 C209.8,461.3 208.2,461.7 212.8,462.5 C217.4,463.4 216.8,463.4 220.3,466.3 C223.8,469.2 223.7,468.4 223.3,471.3 C222.9,474.2 222.9,473.0 219.0,475.1 C215.1,477.2 216.1,477.2 211.5,477.6 C206.9,478.0 208.2,478.8 205.2,476.3 C202.3,473.8 202.3,474.2 202.7,470.1Z" fill="#ffff00"/>
<path d="M239.1,481.3 C239.9,479.4 239.9,478.6 241.6,478.8 C243.2,479.1 243.4,479.7 244.1,482.1 C244.8,484.4 244.7,484.2 243.6,485.8 C242.5,487.5 242.3,487.5 240.8,487.1 C239.3,486.7 239.7,486.5 239.1,484.6 C238.5,482.7 238.2,483.2 239.1,481.3Z" fill="#ffff00"/>
<path d="M62.7,525.0 C62.7,510.9 61.8,523.2 70.2,523.0 C78.5,522.7 77.7,522.9 87.7,524.2 C97.7,525.5 92.8,525.8 100.3,527.0 C107.7,528.1 102.6,525.8 110.0,527.7 C117.5,529.6 114.2,528.6 122.6,532.7 C130.9,536.9 126.7,534.4 135.1,540.3 C143.4,546.1 140.1,543.6 147.6,550.3 C155.1,557.0 151.8,552.8 157.6,560.3 C163.5,567.8 161.4,564.5 165.2,572.8 C168.9,581.2 168.5,577.0 168.9,585.4 C169.3,593.7 169.3,592.1 166.4,597.9 C163.6,603.7 174.1,601.9 160.4,602.7 C146.7,603.4 145.4,604.3 125.3,600.2 C105.3,596.0 118.6,601.8 100.3,590.1 C81.9,578.4 82.7,586.8 70.2,565.1 C57.6,543.3 62.7,539.0 62.7,525.0Z" fill="#0afa0a"/>
<path d="M67.7,530.0 C69.3,517.9 68.5,528.3 75.2,528.7 C81.9,529.1 79.4,528.7 87.7,531.2 C96.1,533.7 91.9,532.5 100.3,536.2 C108.6,540.0 104.4,537.5 112.8,542.5 C121.1,547.5 117.0,545.8 125.3,551.3 C133.7,556.7 129.5,554.6 137.8,558.8 C146.2,563.0 142.9,560.1 150.4,563.8 C157.9,567.6 155.0,564.6 160.4,570.1 C165.8,575.5 164.6,573.4 166.7,580.1 C168.8,586.8 167.9,584.3 166.7,590.1 C165.4,596.0 165.8,594.3 162.9,597.6 C160.0,601.0 170.4,599.3 157.9,600.2 C145.4,601.0 144.5,603.5 125.3,600.2 C106.1,596.8 118.6,601.8 100.3,590.1 C81.9,578.4 81.0,585.1 70.2,565.1 C59.3,545.0 66.0,542.1 67.7,530.0Z" fill="#ffff00"/>
<path d="M70.2,535.0 C73.9,529.6 73.5,533.3 80.2,533.7 C86.9,534.2 84.4,534.2 90.2,536.2 C96.1,538.3 91.9,536.2 97.7,540.0 C103.6,543.8 101.1,542.1 107.8,547.5 C114.5,552.9 110.3,551.3 117.8,556.3 C125.3,561.3 122.0,559.6 130.3,562.6 C138.7,565.5 135.3,563.0 142.9,565.1 C150.4,567.2 147.0,565.5 152.9,568.8 C158.7,572.2 156.6,570.5 160.4,575.1 C164.2,579.7 164.2,578.0 164.2,582.6 C164.2,587.2 165.0,586.8 160.4,588.9 C155.8,591.0 157.1,588.5 150.4,588.9 C143.7,589.3 147.0,589.7 140.4,590.1 C133.7,590.5 136.2,591.0 130.3,590.1 C124.5,589.3 126.1,591.0 122.8,587.6 C119.5,584.3 122.0,585.5 120.3,580.1 C118.6,574.7 120.3,575.9 117.8,571.3 C115.3,566.7 117.0,567.7 112.8,566.3 C108.6,564.9 110.3,565.4 105.3,567.1 C100.3,568.7 102.8,570.3 97.7,571.3 C92.7,572.3 95.2,572.2 90.2,570.1 C85.2,568.0 88.6,568.4 82.7,565.1 C76.9,561.7 77.3,565.1 72.7,560.1 C68.1,555.0 69.8,558.4 68.9,550.0 C68.1,541.7 66.4,540.4 70.2,535.0Z" fill="#ff6605"/>
<path d="M75.2,545.0 C77.5,541.3 75.6,541.3 80.2,540.0 C84.8,538.7 84.0,538.3 89.0,541.3 C94.0,544.2 92.7,543.3 95.2,548.8 C97.7,554.2 97.3,552.1 96.5,557.5 C95.7,563.0 96.1,561.7 92.7,565.1 C89.4,568.4 90.6,568.0 86.5,567.6 C82.3,567.2 84.0,566.7 80.2,563.8 C76.4,560.9 77.5,563.0 75.2,558.8 C72.8,554.6 73.2,555.9 73.2,551.3 C73.2,546.7 72.8,548.8 75.2,545.0Z" fill="#fb0505"/>
<path d="M122.8,577.6 C123.6,573.4 121.6,574.4 126.6,572.1 C131.6,569.7 130.3,570.4 137.8,570.6 C145.4,570.7 142.9,569.8 149.1,572.6 C155.4,575.3 156.2,574.7 156.6,578.8 C157.1,583.0 155.8,582.2 150.4,585.1 C144.9,588.0 147.0,586.6 140.4,587.6 C133.7,588.6 135.8,589.1 130.3,588.1 C124.9,587.1 126.6,588.1 124.1,584.6 C121.6,581.1 122.0,581.8 122.8,577.6Z" fill="#fb0505"/>
<path d="M196.5,491.4 C199.1,490.0 203.9,490.4 210.3,491.4 C216.6,492.4 214.9,493.4 220.3,495.1 C225.6,496.8 225.0,497.3 230.3,497.6 C235.6,498.0 235.6,498.0 240.3,496.4 C245.0,494.7 243.8,494.4 247.8,491.4 C251.9,488.3 250.7,487.8 255.4,485.1 C260.0,482.4 260.0,482.0 265.4,481.3 C270.7,480.7 270.1,482.9 275.4,482.6 C280.8,482.2 280.1,482.1 285.4,480.1 C290.8,478.1 290.1,475.7 295.5,475.1 C300.8,474.4 301.5,475.6 305.5,477.6 C309.5,479.6 311.2,479.2 310.5,482.6 C309.8,485.9 307.0,486.4 303.0,490.1 C299.0,493.8 300.1,493.7 295.5,496.4 C290.8,499.0 290.8,498.1 285.4,500.1 C280.1,502.1 279.4,499.9 275.4,503.9 C271.4,507.9 273.1,511.2 270.4,515.2 C267.7,519.2 268.7,519.6 265.4,518.9 C262.0,518.3 261.9,514.7 257.9,512.7 C253.9,510.7 254.4,510.4 250.4,511.4 C246.3,512.4 246.8,514.4 242.8,516.4 C238.8,518.4 239.3,519.4 235.3,518.9 C231.3,518.5 231.1,517.3 227.8,514.7 C224.5,512.0 226.1,511.4 222.8,508.9 C219.4,506.4 219.3,507.5 215.3,505.1 C211.3,502.8 211.8,502.5 207.7,500.1 C203.7,497.8 203.2,498.7 200.2,496.4 C197.2,494.0 193.8,492.7 196.5,491.4Z" fill="#056636"/>
<path d="M156.4,546.5 C156.8,543.1 155.5,549.8 160.1,550.3 C164.7,550.7 163.5,549.4 170.2,547.7 C176.8,546.1 174.3,544.4 180.2,545.2 C186.0,546.1 183.5,545.2 187.7,550.3 C191.9,555.3 193.5,555.7 192.7,560.3 C191.9,564.9 191.0,563.2 185.2,564.0 C179.3,564.9 180.2,561.5 175.2,562.8 C170.2,564.0 172.2,561.9 170.2,567.8 C168.1,573.6 168.9,572.8 168.9,580.3 C168.9,587.8 171.0,584.5 170.2,590.4 C169.3,596.2 168.5,599.5 166.4,597.9 C164.3,596.2 165.6,593.7 163.9,585.3 C162.2,577.0 163.0,581.2 161.4,572.8 C159.7,564.5 160.5,569.0 158.9,560.3 C157.2,551.5 155.9,549.8 156.4,546.5Z" fill="#056636"/>
<path d="M197.7,600.4 C201.9,595.4 199.4,597.0 205.2,597.9 C211.1,598.7 210.3,598.7 215.3,602.9 C220.3,607.1 220.3,605.4 220.3,610.4 C220.3,615.4 218.6,612.9 215.3,617.9 C211.9,622.9 213.6,621.3 210.3,625.4 C206.9,629.6 210.3,630.5 205.2,630.5 C200.2,630.5 199.4,631.3 195.2,625.4 C191.0,619.6 191.9,621.3 192.7,612.9 C193.5,604.6 193.5,605.4 197.7,600.4Z" fill="#056636"/>
<path d="M320.8,405.1 C324.2,423.2 321.3,412.3 323.3,417.7 C325.3,423.0 325.0,423.0 328.3,425.2 C331.6,427.3 331.8,427.2 335.8,425.7 C339.8,424.2 339.3,421.3 343.3,419.7 C347.3,418.1 346.8,417.7 350.9,419.7 C354.9,421.7 355.4,422.4 358.4,427.2 C361.3,432.0 361.3,431.6 361.9,437.7 C362.4,443.9 361.8,444.2 360.4,450.3 C358.9,456.3 359.4,455.5 356.4,460.3 C353.3,465.1 352.9,464.8 348.8,468.3 C344.8,471.8 344.8,470.8 341.3,473.3 C337.9,475.8 339.3,475.9 335.8,477.8 C332.3,479.7 333.0,480.3 328.3,480.3 C323.6,480.3 322.3,477.8 318.3,477.8 C314.3,477.8 316.6,477.7 313.3,480.3 C309.9,483.0 309.7,483.2 305.7,487.8 C301.7,492.5 302.9,494.2 298.2,497.9 C293.5,501.5 292.9,501.4 288.2,501.6 C283.5,501.9 284.4,498.3 280.7,498.9 C276.9,499.5 276.9,499.5 274.2,503.9 C271.4,508.2 272.7,511.2 270.4,515.2 C268.1,519.2 268.7,519.6 265.4,518.9 C262.0,518.3 261.9,514.7 257.9,512.7 C253.9,510.7 254.4,510.1 250.4,511.4 C246.3,512.7 246.8,515.3 242.8,517.7 C238.8,520.0 239.3,520.8 235.3,520.2 C231.3,519.5 231.1,517.8 227.8,515.2 C224.5,512.5 224.5,508.8 222.8,510.2 C221.1,511.5 221.5,514.2 221.5,520.2 C221.5,526.2 223.1,526.7 222.8,532.7 C222.4,538.7 222.3,538.1 220.3,542.7 C218.3,547.4 217.3,545.6 215.3,550.3 C213.3,554.9 213.4,554.3 212.8,560.3 C212.1,566.3 212.1,566.1 212.8,572.8 C213.4,579.5 212.6,579.3 215.3,585.3 C217.9,591.4 219.4,590.0 222.8,595.4 C226.1,600.7 227.1,600.0 227.8,605.4 C228.5,610.7 228.6,612.1 225.3,615.4 C221.9,618.8 219.3,615.2 215.3,617.9 C211.3,620.6 211.9,621.4 210.3,625.4 C208.6,629.4 148.8,631.0 209.0,633.0 C269.1,635.0 375.3,708.5 435.8,633.0 C496.3,557.4 469.2,425.3 435.8,349.7 C402.4,274.2 341.2,335.0 310.5,349.7 C279.8,364.5 317.4,387.0 320.8,405.1Z" fill="#00ffff"/>
<path d="M304.5,416.4 L308.2,403.9 L319.5,402.6 L321.3,413.9 L313.2,417.6Z" fill="#056636"/>
<path d="M313.2,435.2 C315.3,428.1 313.2,430.6 318.3,428.9 C323.3,427.3 322.4,431.0 328.3,430.2 C334.1,429.3 330.8,429.8 335.8,426.4 C340.8,423.1 338.3,422.2 343.3,420.2 C348.3,418.1 345.8,417.6 350.8,420.2 C355.8,422.7 354.8,421.8 358.4,427.7 C361.9,433.5 360.9,430.2 361.4,437.7 C361.8,445.2 361.4,442.7 359.6,450.2 C357.8,457.7 359.6,454.4 355.8,460.3 C352.1,466.1 353.3,463.6 348.3,467.8 C343.3,471.9 346.7,469.4 340.8,472.8 C335.0,476.1 337.5,477.0 330.8,477.8 C324.1,478.6 325.8,480.3 320.8,475.3 C315.7,470.3 318.7,471.1 315.7,462.8 C312.8,454.4 312.8,459.4 312.0,450.2 C311.1,441.0 311.1,442.3 313.2,435.2Z" fill="#056636"/>
<path d="M318.3,452.7 C319.5,449.0 318.3,449.8 323.3,447.7 C328.3,445.6 327.0,447.3 333.3,446.5 C339.6,445.6 337.9,443.1 342.1,445.2 C346.2,447.3 345.8,447.3 345.8,452.7 C345.8,458.2 346.2,457.3 342.1,461.5 C337.9,465.7 339.1,464.4 333.3,465.3 C327.4,466.1 329.1,466.1 324.5,464.0 C319.9,461.9 321.6,462.8 319.5,459.0 C317.4,455.2 317.0,456.5 318.3,452.7Z" fill="#089a38"/>
<path d="M271.9,459.0 C272.3,457.1 272.6,456.5 274.4,456.5 C276.1,456.5 276.6,457.1 277.1,459.0 C277.7,460.9 277.5,461.2 276.1,462.3 C274.8,463.3 274.6,463.3 273.1,462.3 C271.7,461.2 271.5,460.9 271.9,459.0Z" fill="#ffff00"/>
<path d="M328.3,390.1 C328.7,383.0 327.9,382.1 332.0,375.0 C336.2,367.9 332.0,370.9 340.8,368.8 C349.6,366.7 349.2,365.8 358.4,368.8 C367.5,371.7 363.4,371.3 368.4,377.5 C373.4,383.8 372.6,380.9 373.4,387.6 C374.2,394.3 375.1,393.0 370.9,397.6 C366.7,402.2 368.4,400.1 360.9,401.4 C353.3,402.6 355.8,401.8 348.3,401.4 C340.8,400.9 344.1,401.8 338.3,400.1 C332.5,398.4 334.1,399.7 330.8,396.3 C327.4,393.0 327.9,397.2 328.3,390.1Z" fill="#14c0fa"/>
<path d="M349.6,367.5 C352.3,363.5 355.0,363.8 358.4,367.5 C361.7,371.3 360.9,373.4 359.6,378.8 C358.4,384.2 357.7,383.6 354.6,383.8 C351.5,384.1 352.0,385.0 350.3,379.5 C348.7,374.1 346.9,371.5 349.6,367.5Z" fill="#0000ff"/>
<path d="M378.4,410.1 C381.4,405.8 383.1,401.9 388.4,403.9 C393.8,405.9 392.4,414.0 398.5,417.6 C404.5,421.3 403.6,419.6 411.0,417.6 C418.3,415.6 422.7,407.5 426.0,410.1 C429.4,412.8 427.5,419.6 423.5,427.7 C419.5,435.7 417.0,434.9 411.0,440.2 C405.0,445.5 404.3,442.4 401.0,447.7 C397.6,453.1 401.1,454.9 398.5,460.3 C395.8,465.6 395.6,465.1 390.9,467.8 C386.3,470.4 386.3,468.9 380.9,470.3 C375.6,471.6 376.2,470.8 370.9,472.8 C365.5,474.8 366.2,474.5 360.9,477.8 C355.5,481.1 355.5,482.0 350.8,485.3 C346.2,488.7 345.7,490.3 343.3,490.3 C341.0,490.3 340.7,489.3 342.1,485.3 C343.4,481.3 344.0,480.0 348.3,475.3 C352.7,470.6 354.0,471.8 358.4,467.8 C362.7,463.8 361.9,466.3 364.6,460.3 C367.3,454.2 367.7,451.9 368.4,445.2 C369.0,438.5 365.8,439.2 367.1,435.2 C368.5,431.2 370.7,434.2 373.4,430.2 C376.1,426.2 375.8,425.5 377.1,420.2 C378.5,414.8 375.4,414.5 378.4,410.1Z" fill="#14c0fa"/>
<path d="M390.9,433.9 C391.4,429.8 391.8,429.3 395.9,427.7 C400.1,426.0 400.0,426.6 403.5,428.9 C407.0,431.3 406.9,430.9 406.5,434.7 C406.1,438.4 406.1,438.4 402.2,440.2 C398.3,442.0 398.5,442.3 394.7,440.2 C390.9,438.1 390.5,438.1 390.9,433.9Z" fill="#00ffff"/>
<path d="M272.9,532.7 C272.9,529.4 274.6,531.0 280.4,527.7 C286.3,524.4 283.8,526.0 290.5,522.7 C297.1,519.3 294.6,521.8 300.5,517.7 C306.3,513.5 303.0,513.9 308.0,510.2 C313.0,506.4 309.7,506.4 315.5,506.4 C321.4,506.4 320.5,505.6 325.5,510.2 C330.6,514.7 327.2,512.7 330.6,520.2 C333.9,527.7 332.6,524.4 335.6,532.7 C338.5,541.1 338.5,536.9 339.3,545.2 C340.2,553.6 341.0,551.9 338.1,557.8 C335.1,563.6 335.6,563.6 330.6,562.8 C325.5,561.9 328.9,560.7 323.0,555.3 C317.2,549.8 318.0,552.8 313.0,546.5 C308.0,540.2 312.2,541.9 308.0,536.5 C303.8,531.0 306.3,531.5 300.5,530.2 C294.6,528.9 297.1,530.2 290.5,532.7 C283.8,535.2 286.3,537.7 280.4,537.7 C274.6,537.7 272.9,536.0 272.9,532.7Z" fill="#14c0fa"/>
<path d="M215.8,570.3 C216.6,559.7 216.0,563.9 219.5,554.0 C223.0,544.2 221.3,547.7 226.3,540.7 C231.3,533.8 228.2,537.4 234.6,533.2 C240.9,529.0 238.2,529.9 245.3,528.2 C252.4,526.5 249.8,526.5 255.9,528.2 C261.9,529.9 258.5,530.3 263.4,533.2 C268.2,536.1 264.7,536.5 270.4,537.0 C276.1,537.4 273.7,537.0 280.4,534.5 C287.1,532.0 283.4,532.0 290.5,529.4 C297.5,526.9 295.0,525.4 301.5,526.9 C307.9,528.4 305.4,528.3 309.7,534.0 C314.1,539.6 309.7,538.3 314.5,544.0 C319.4,549.7 318.5,545.7 324.3,551.0 C330.1,556.3 325.7,555.4 331.8,559.8 C337.9,564.1 338.0,557.2 342.6,564.0 C347.2,570.9 347.3,567.8 345.6,580.3 C343.9,592.9 343.8,590.2 337.6,601.6 C331.4,613.1 335.6,606.1 327.0,614.7 C318.4,623.2 320.3,619.6 311.8,627.2 C303.2,634.8 310.1,632.4 301.5,637.5 C292.9,642.6 296.3,639.1 285.9,642.5 C275.6,645.8 280.8,646.7 270.4,647.5 C260.0,648.3 265.3,648.4 254.9,645.0 C244.4,641.6 247.1,642.1 239.1,637.2 C231.1,632.4 234.4,638.4 230.8,630.5 C227.2,622.5 230.8,623.1 228.3,613.4 C225.8,603.7 227.0,610.6 223.3,601.4 C219.5,592.2 219.5,596.2 217.0,585.8 C214.5,575.5 214.9,580.9 215.8,570.3Z" fill="#14c0fa"/>
<path d="M217.8,570.3 C218.6,560.3 218.2,564.5 221.5,555.3 C224.9,546.1 223.2,549.4 227.8,542.7 C232.4,536.0 229.5,539.4 235.3,535.2 C241.2,531.0 238.7,531.9 245.3,530.2 C252.0,528.5 249.5,528.5 255.4,530.2 C261.2,531.9 257.9,532.3 262.9,535.2 C267.9,538.1 264.6,538.6 270.4,539.0 C276.2,539.4 273.7,539.0 280.4,536.5 C287.1,534.0 283.8,534.0 290.5,531.5 C297.1,528.9 294.6,527.7 300.5,528.9 C306.3,530.2 303.8,529.8 308.0,535.2 C312.2,540.6 308.0,539.4 313.0,545.2 C318.0,551.1 317.2,547.3 323.0,552.8 C328.9,558.2 324.7,557.4 330.6,561.5 C336.4,565.7 336.4,559.0 340.6,565.3 C344.8,571.6 344.8,568.6 343.1,580.3 C341.4,592.0 341.4,589.5 335.6,600.4 C329.7,611.2 333.9,604.6 325.5,612.9 C317.2,621.3 318.9,617.9 310.5,625.4 C302.1,633.0 308.8,630.5 300.5,635.5 C292.1,640.5 295.5,637.1 285.4,640.5 C275.4,643.8 280.4,644.7 270.4,645.5 C260.4,646.3 265.4,646.3 255.4,643.0 C245.3,639.6 247.8,639.8 240.3,635.5 C232.8,631.1 236.1,637.5 232.8,629.9 C229.5,622.4 232.8,622.8 230.3,612.9 C227.8,603.0 229.0,609.6 225.3,600.4 C221.5,591.2 221.5,595.4 219.0,585.3 C216.5,575.3 216.9,580.3 217.8,570.3Z" fill="#0000ff"/>
<path d="M220.3,570.3 C221.1,560.3 220.7,563.6 224.0,555.3 C227.4,546.9 224.9,550.3 230.3,545.2 C235.7,540.2 233.6,542.3 240.3,540.2 C247.0,538.1 243.7,538.1 250.4,539.0 C257.0,539.8 253.7,540.6 260.4,542.7 C267.1,544.8 263.7,542.7 270.4,545.2 C277.1,547.7 274.6,545.2 280.4,550.3 C286.3,555.3 284.2,551.9 287.9,560.3 C291.7,568.6 290.0,565.3 291.7,575.3 C293.4,585.3 293.4,580.3 293.0,590.4 C292.5,600.4 291.7,595.4 290.5,605.4 C289.2,615.4 290.9,610.4 289.2,620.4 C287.5,630.5 290.9,627.9 285.4,635.5 C280.0,643.0 281.3,640.9 272.9,643.0 C264.6,645.1 268.7,644.2 260.4,641.7 C252.0,639.2 255.4,640.9 247.8,635.5 C240.3,630.0 243.2,633.8 237.8,625.4 C232.4,617.1 235.3,619.6 231.6,610.4 C227.8,601.2 229.9,606.2 226.5,597.9 C223.2,589.5 223.6,594.5 221.5,585.3 C219.4,576.1 219.4,580.3 220.3,570.3Z" fill="#3305d0"/>
<path d="M222.8,567.8 C223.6,560.3 223.6,563.2 227.8,557.8 C232.0,552.3 229.5,554.0 235.3,551.5 C241.2,549.0 238.7,549.8 245.3,550.3 C252.0,550.7 248.7,549.4 255.4,552.8 C262.0,556.1 259.5,554.4 265.4,560.3 C271.2,566.1 269.6,562.8 272.9,570.3 C276.2,577.8 275.4,574.5 275.4,582.8 C275.4,591.2 276.2,587.0 272.9,595.4 C269.6,603.7 271.2,601.6 265.4,607.9 C259.5,614.2 262.0,613.3 255.4,614.2 C248.7,615.0 251.2,615.0 245.3,610.4 C239.5,605.8 242.8,607.1 237.8,600.4 C232.8,593.7 234.5,597.0 230.3,590.4 C226.1,583.7 227.8,587.8 225.3,580.3 C222.8,572.8 221.9,575.3 222.8,567.8Z" fill="#6a3cff"/>
<path d="M224.8,570.3 C224.8,564.9 226.0,565.3 229.0,561.5 C232.1,557.8 231.1,557.8 234.1,559.0 C237.0,560.3 235.9,559.9 237.8,565.3 C239.7,570.7 240.7,570.3 239.8,575.3 C239.0,580.3 238.9,579.5 235.3,580.3 C231.7,581.2 232.6,581.2 229.0,577.8 C225.5,574.5 224.8,575.7 224.8,570.3Z" fill="#360070"/>
<path d="M246.6,585.3 C247.0,581.5 247.0,582.1 250.4,580.8 C253.7,579.6 253.5,579.7 256.6,581.6 C259.7,583.5 260.0,583.2 259.6,586.6 C259.2,589.9 258.9,589.7 255.4,591.6 C251.9,593.5 252.0,594.4 249.1,592.4 C246.2,590.3 246.2,589.2 246.6,585.3Z" fill="#360070"/>
<path d="M300.7,632.7 C299.5,629.0 300.3,628.6 304.5,622.7 C308.6,616.9 306.1,619.8 313.2,615.2 C320.3,610.6 320.8,608.9 325.8,608.9 C330.8,608.9 330.8,609.8 328.3,615.2 C325.8,620.6 324.9,618.9 318.3,625.2 C311.6,631.5 314.1,631.5 308.2,634.0 C302.4,636.5 302.0,636.5 300.7,632.7Z" fill="#14c0fa"/>
<path d="M170.4,572.6 C171.5,567.6 170.0,569.2 174.2,566.3 C178.4,563.4 177.1,563.0 183.0,563.8 C188.8,564.6 186.7,564.2 191.7,568.8 C196.7,573.4 194.7,571.3 198.0,577.6 C201.3,583.9 200.9,580.9 201.8,587.6 C202.6,594.3 203.0,595.6 200.5,597.6 C198.0,599.7 199.2,596.4 194.2,593.9 C189.2,591.4 191.7,592.2 185.5,590.1 C179.2,588.0 180.3,590.5 175.4,587.6 C170.6,584.7 172.6,586.4 170.9,581.4 C169.3,576.3 169.3,577.6 170.4,572.6Z" fill="#00ffff"/>
<path d="M172.9,573.8 C174.0,570.1 173.4,571.1 176.7,568.8 C180.0,566.6 178.5,566.2 183.0,567.1 C187.4,567.9 185.8,567.4 190.0,571.3 C194.2,575.3 192.4,573.0 195.5,578.8 C198.6,584.7 200.1,585.1 199.2,588.9 C198.4,592.6 197.6,590.4 193.0,590.1 C188.4,589.9 190.9,589.8 185.5,588.1 C180.0,586.4 180.7,587.8 176.7,585.1 C172.7,582.4 174.7,583.9 173.4,580.1 C172.2,576.3 171.8,577.6 172.9,573.8Z" fill="#14c0fa"/>
<path d="M175.4,575.1 C175.7,570.9 175.9,571.6 179.2,570.6 C182.5,569.6 181.3,569.3 185.5,572.1 C189.6,574.8 188.2,574.1 191.7,578.8 C195.2,583.6 193.9,582.2 196.0,586.4 C198.1,590.5 199.4,590.5 198.0,591.4 C196.6,592.2 195.9,590.1 191.7,588.9 C187.6,587.6 189.9,589.5 185.5,587.6 C181.0,585.7 181.8,587.3 178.4,583.1 C175.1,578.9 175.2,579.3 175.4,575.1Z" fill="#0000ff"/>
<path d="M177.4,576.3 C177.6,573.4 178.1,573.4 181.0,573.8 C183.8,574.3 182.8,574.3 186.0,577.6 C189.1,580.9 190.2,580.9 190.5,583.9 C190.7,586.8 190.1,586.8 186.7,586.4 C183.4,585.9 183.5,585.9 180.5,582.6 C177.4,579.3 177.3,579.3 177.4,576.3Z" fill="#3305d0"/>
<path d="M193.5,555.0 C193.5,551.4 194.0,552.1 196.7,551.3 C199.5,550.4 199.2,550.4 201.8,552.5 C204.3,554.6 204.3,554.2 204.3,557.5 C204.3,560.9 204.3,561.1 201.8,562.6 C199.2,564.1 199.5,564.6 196.7,562.1 C194.0,559.5 193.5,558.6 193.5,555.0Z" fill="#00ffff"/>
<path d="M328.3,610.2 L345.8,610.2 L345.8,642.8 L328.3,642.8Z" fill="#14c0fa"/>
<path d="M255.6,642.8 L278.2,642.8 L278.2,675.3 L255.6,675.3Z" fill="#14c0fa"/>
<path d="M260.6,657.8 C264.4,652.4 270.6,651.9 274.4,656.5 C278.2,661.1 275.6,666.1 271.9,671.6 C268.1,677.0 266.9,677.4 263.1,672.8 C259.4,668.2 256.8,663.2 260.6,657.8Z" fill="#00ffff"/>
<path d="M258.1,664.1 L261.9,662.8 L264.4,671.6 L260.1,670.3Z" fill="#056636"/>
<path d="M338.0,370.9 L347.9,379.5 L358.5,387.2 L363.5,398.4 L362.8,406.2 L355.4,413.1 L351.0,417.4 L352.3,426.9 L349.2,428.6" fill="none" stroke="#c8c8c8" stroke-width="0.7" stroke-opacity="0.62"/>
<path d="M349.2,428.6 L355.4,434.6 L361.0,438.1 L367.8,440.7 L374.0,443.2 L380.3,447.6 L386.5,451.0 L391.5,446.7 L395.8,451.0 L400.2,455.3" fill="none" stroke="#c8c8c8" stroke-width="0.7" stroke-opacity="0.62"/>
<path d="M349.2,428.6 L342.9,435.5 L341.7,442.4 L349.2,446.7 L352.3,455.3" fill="none" stroke="#c8c8c8" stroke-width="0.7" stroke-opacity="0.62"/>
<path d="M352.3,455.3 L358.5,460.5 L363.5,466.5 L364.7,473.4 L367.8,476.9" fill="none" stroke="#c8c8c8" stroke-width="0.7" stroke-opacity="0.62"/>
<path d="M352.3,455.3 L346.1,461.3 L339.8,463.9 L333.6,468.2 L326.1,474.3" fill="none" stroke="#c8c8c8" stroke-width="0.7" stroke-opacity="0.62"/>
<path d="M326.1,474.3 L329.3,482.9 L329.9,485.5" fill="none" stroke="#c8c8c8" stroke-width="0.7" stroke-opacity="0.62"/>
<path d="M326.1,474.3 L319.9,470.0 L314.9,463.9 L305.6,468.2 L299.4,471.7 L293.2,472.5 L292.6,481.2" fill="none" stroke="#c8c8c8" stroke-width="0.7" stroke-opacity="0.62"/>
<path d="M292.6,481.2 L293.8,488.9 L291.3,498.4 L290.7,507.0 L291.3,516.5" fill="none" stroke="#c8c8c8" stroke-width="0.7" stroke-opacity="0.62"/>
<path d="M292.6,481.2 L285.7,483.7 L280.1,488.9 L275.8,490.6" fill="none" stroke="#c8c8c8" stroke-width="0.7" stroke-opacity="0.62"/>
<path d="M275.8,490.6 L273.9,498.4 L271.4,507.0 L270.8,519.9 L270.2,532.0" fill="none" stroke="#c8c8c8" stroke-width="0.7" stroke-opacity="0.62"/>
<path d="M270.2,532.0 L277.6,528.6 L283.8,526.8 L290.1,521.7 L291.3,516.5" fill="none" stroke="#c8c8c8" stroke-width="0.7" stroke-opacity="0.62"/>
<path d="M291.3,516.5 L298.2,519.1 L301.9,517.4 L305.6,508.7 L311.8,502.7 L316.8,500.1" fill="none" stroke="#c8c8c8" stroke-width="0.7" stroke-opacity="0.62"/>
<path d="M301.9,517.4 L299.4,526.8 L305.6,532.0 L311.8,532.9 L318.1,532.0 L325.5,528.6" fill="none" stroke="#c8c8c8" stroke-width="0.7" stroke-opacity="0.62"/>
<path d="M305.6,532.0 L307.5,538.9 L303.1,545.8 L305.0,551.8 L302.5,557.0" fill="none" stroke="#c8c8c8" stroke-width="0.7" stroke-opacity="0.62"/>
<path d="M311.8,532.9 L318.1,541.5 L323.7,546.7 L321.2,554.4 L325.5,559.6 L328.0,562.2" fill="none" stroke="#c8c8c8" stroke-width="0.7" stroke-opacity="0.62"/>
<path d="M328.0,562.2 L333.6,563.0 L338.0,564.7" fill="none" stroke="#c8c8c8" stroke-width="0.7" stroke-opacity="0.62"/>
<path d="M328.0,562.2 L324.3,569.1 L320.5,575.9 L318.1,580.3" fill="none" stroke="#c8c8c8" stroke-width="0.7" stroke-opacity="0.62"/>
<path d="M273.9,544.1 L280.7,550.1 L290.1,551.8 L296.3,556.1 L302.5,557.0" fill="none" stroke="#c8c8c8" stroke-width="0.7" stroke-opacity="0.62"/>
<path d="M302.5,557.0 L305.6,563.9 L305.6,573.4 L309.4,575.1 L318.1,580.3" fill="none" stroke="#c8c8c8" stroke-width="0.7" stroke-opacity="0.62"/>
<path d="M263.9,575.1 L270.2,573.4 L277.6,572.5 L285.7,574.2 L290.7,577.7 L293.2,580.3 L298.8,575.9 L305.6,573.4" fill="none" stroke="#c8c8c8" stroke-width="0.7" stroke-opacity="0.62"/>
<path d="M293.2,580.3 L292.6,588.9 L291.3,597.5 L293.2,606.1 L292.6,611.3" fill="none" stroke="#c8c8c8" stroke-width="0.7" stroke-opacity="0.62"/>
<path d="M318.1,580.3 L319.9,586.3 L314.9,592.3 L311.2,599.2 L306.9,607.8 L305.6,615.6 L304.4,618.2" fill="none" stroke="#c8c8c8" stroke-width="0.7" stroke-opacity="0.62"/>
<path d="M319.9,586.3 L324.3,592.3 L331.7,595.8" fill="none" stroke="#c8c8c8" stroke-width="0.7" stroke-opacity="0.62"/>
<path d="M313.1,626.8 L310.0,619.0 L304.4,618.2 L298.2,616.4 L292.6,611.3 L285.7,614.7 L280.7,616.4" fill="none" stroke="#c8c8c8" stroke-width="0.7" stroke-opacity="0.62"/>
<path d="M280.7,616.4 L277.6,623.3 L279.5,632.0 L273.3,638.0 L267.1,644.0" fill="none" stroke="#c8c8c8" stroke-width="0.7" stroke-opacity="0.62"/>
<path d="M280.7,616.4 L274.5,610.4 L268.3,606.1 L264.6,604.4" fill="none" stroke="#c8c8c8" stroke-width="0.7" stroke-opacity="0.62"/>
<path d="M264.6,604.4 L263.9,595.8 L264.6,586.3 L263.9,580.3 L263.9,575.1" fill="none" stroke="#c8c8c8" stroke-width="0.7" stroke-opacity="0.62"/>
<path d="M264.6,604.4 L259.0,610.4 L250.9,613.0 L243.4,615.6 L237.2,618.2 L234.1,616.4" fill="none" stroke="#c8c8c8" stroke-width="0.7" stroke-opacity="0.62"/>
<path d="M234.1,616.4 L240.3,623.3 L243.4,627.7 L240.3,630.2" fill="none" stroke="#c8c8c8" stroke-width="0.7" stroke-opacity="0.62"/>
<path d="M234.1,616.4 L233.5,607.8 L231.0,601.8 L236.0,594.9 L239.1,590.6" fill="none" stroke="#c8c8c8" stroke-width="0.7" stroke-opacity="0.62"/>
<path d="M239.1,590.6 L245.3,584.6 L252.1,582.0 L258.3,580.3 L263.9,580.3" fill="none" stroke="#c8c8c8" stroke-width="0.7" stroke-opacity="0.62"/>
<path d="M245.3,584.6 L240.3,575.9 L242.2,569.9 L248.4,568.2 L252.8,563.0 L259.0,552.7" fill="none" stroke="#c8c8c8" stroke-width="0.7" stroke-opacity="0.62"/>
<path d="M263.9,575.1 L259.0,567.3 L265.2,563.0 L268.9,559.6 L265.8,556.1 L259.0,552.7" fill="none" stroke="#c8c8c8" stroke-width="0.7" stroke-opacity="0.62"/>
<path d="M259.0,552.7 L251.5,550.1 L243.4,547.5 L240.3,546.7" fill="none" stroke="#c8c8c8" stroke-width="0.7" stroke-opacity="0.62"/>
<path d="M259.0,552.7 L265.8,554.4 L269.5,545.8 L273.9,544.1 L274.5,537.2 L270.2,532.0" fill="none" stroke="#c8c8c8" stroke-width="0.7" stroke-opacity="0.62"/>
<path d="M240.3,546.7 L245.9,537.2 L247.2,528.6 L254.6,526.0 L259.6,517.4 L251.5,511.3 L253.4,505.3" fill="none" stroke="#c8c8c8" stroke-width="0.7" stroke-opacity="0.62"/>
<path d="M253.4,505.3 L260.8,502.7 L265.2,497.5 L271.4,491.5 L275.8,490.6" fill="none" stroke="#c8c8c8" stroke-width="0.7" stroke-opacity="0.62"/>
<path d="M253.4,505.3 L246.5,508.7 L243.4,519.9 L245.3,526.0 L240.3,522.5 L232.8,507.9 L242.2,502.7 L242.8,492.4 L248.4,490.6 L249.0,498.4 L253.4,505.3" fill="none" stroke="#c8c8c8" stroke-width="0.7" stroke-opacity="0.62"/>
<path d="M232.8,507.9 L227.9,501.0 L230.4,491.5 L221.7,492.4 L212.3,494.1 L206.1,485.5 L199.9,481.2 L195.5,478.6 L188.7,461.3" fill="none" stroke="#c8c8c8" stroke-width="0.7" stroke-opacity="0.62"/>
<path d="M162.6,494.1 L171.9,491.5 L181.2,492.4 L190.5,495.8 L199.9,498.4 L209.2,502.7 L218.5,507.0 L224.1,511.3 L224.8,518.2 L222.9,523.4 L218.5,528.6 L216.1,535.4 L211.1,533.7 L212.3,543.2 L218.5,543.2" fill="none" stroke="#c8c8c8" stroke-width="0.7" stroke-opacity="0.62"/>
<path d="M218.5,543.2 L224.8,535.4 L231.0,537.2 L236.0,545.8 L240.3,546.7" fill="none" stroke="#c8c8c8" stroke-width="0.7" stroke-opacity="0.62"/>
<path d="M218.5,543.2 L212.3,547.5 L206.1,547.5 L199.9,541.5 L193.7,543.2 L189.9,549.2" fill="none" stroke="#c8c8c8" stroke-width="0.7" stroke-opacity="0.62"/>
<path d="M189.9,549.2 L181.2,552.7 L171.9,556.1 L162.6,550.1 L153.2,545.8 L145.1,541.5 L143.9,528.6 L140.8,519.1" fill="none" stroke="#c8c8c8" stroke-width="0.7" stroke-opacity="0.62"/>
<path d="M189.9,549.2 L196.8,558.7 L199.3,567.3 L200.5,578.5 L198.6,584.6 L195.5,592.3" fill="none" stroke="#c8c8c8" stroke-width="0.7" stroke-opacity="0.62"/>
<path d="M200.5,578.5 L206.1,586.3 L211.1,592.3 L217.3,604.4 L223.5,603.5 L226.6,595.8 L229.7,588.9 L234.1,584.6 L239.1,590.6" fill="none" stroke="#c8c8c8" stroke-width="0.7" stroke-opacity="0.62"/>
<path d="M75.5,534.6 L84.8,525.1 L97.2,522.5 L112.8,521.7 L128.3,518.2 L140.8,519.1" fill="none" stroke="#c8c8c8" stroke-width="0.7" stroke-opacity="0.62"/>
<path d="M140.8,519.1 L150.1,514.8 L150.1,504.4 L145.8,499.3 L153.2,494.1 L162.6,494.1 L161.3,485.5 L168.8,476.9 L178.1,468.2 L183.7,462.2" fill="none" stroke="#c8c8c8" stroke-width="0.7" stroke-opacity="0.62"/>
<path d="M302.5,485.5 L305.6,480.3 L311.8,480.3 L314.3,484.6 L310.6,488.9 L315.6,491.5 L314.9,496.7 L310.6,495.8 L306.9,489.8 L302.5,485.5" fill="none" stroke="#c8c8c8" stroke-width="0.7" stroke-opacity="0.62"/>
</g>
<path d="M41.9,491.5 L43.8,486.3 L49.4,482.0 L54.3,481.2 L59.3,482.0 L62.4,476.9 L69.9,476.0 L75.5,470.0 L82.9,467.4 L83.6,461.3 L85.4,458.8 L84.2,450.1 L84.2,444.1 L81.1,443.2 L92.3,439.8 L97.2,440.7 L96.0,437.2 L100.4,423.4 L111.6,425.2 L115.9,424.3 L115.9,416.5 L122.8,411.4 L124.0,407.1 L127.7,407.1 L130.2,406.2 L132.1,410.5 L137.7,416.5 L144.5,417.4 L149.5,426.0 L150.1,433.8 L148.3,438.1 L153.9,441.5 L165.7,442.4 L173.1,447.6 L177.5,448.4 L178.7,457.9 L183.7,462.2 L188.7,461.3 L203.0,463.1 L208.0,463.1 L217.3,463.9 L226.6,469.1 L234.1,469.1 L237.2,471.7 L248.4,465.7 L260.8,464.8 L268.9,463.1 L270.8,461.3 L274.5,456.2 L280.1,453.6 L279.5,442.4 L284.5,442.4 L290.7,445.0 L296.3,438.9 L303.8,438.1 L306.9,436.4 L309.4,431.2 L314.3,430.3 L319.9,427.7 L326.1,428.6 L329.9,427.7 L328.6,423.4 L321.2,418.3 L316.8,419.1 L312.5,418.3 L305.0,419.1 L303.1,417.4 L307.5,407.9 L310.0,401.0 L316.8,403.6 L321.8,400.2 L326.1,398.4 L325.5,395.9 L331.1,384.7 L334.9,382.1 L330.5,376.9 L334.9,373.4 L344.8,369.1 L352.9,369.1 L361.0,371.7 L365.3,372.6 L369.7,378.6 L374.0,388.1 L375.9,396.7 L377.8,401.0 L384.6,402.7 L389.6,404.5 L393.9,408.8 L397.1,408.8 L397.1,413.9 L398.3,419.1 L408.2,419.1 L412.0,415.7 L420.1,413.1 L422.6,413.1 L421.9,419.1 L418.8,422.6 L417.0,431.2 L412.0,441.5 L405.1,439.8 L402.0,442.4 L398.9,443.2 L400.8,456.2 L399.5,460.5 L396.4,464.8 L393.9,460.5 L392.1,459.6 L390.8,464.8 L385.9,468.2 L380.9,468.2 L382.1,471.7 L375.9,472.5 L373.4,470.0 L367.8,477.7 L361.0,481.2 L357.9,485.5 L352.3,487.2 L344.8,491.5 L340.5,494.9 L338.6,489.8 L343.6,482.0 L341.7,477.7 L336.7,478.6 L329.9,485.5 L324.3,492.4 L316.8,493.2 L315.6,498.4 L318.1,501.8 L323.7,506.2 L324.3,509.6 L329.3,509.6 L334.9,504.4 L339.8,507.0 L346.1,507.9 L346.1,512.2 L336.7,514.8 L332.4,519.9 L325.5,528.6 L326.1,531.1 L332.4,535.4 L336.1,545.8 L336.7,550.1 L342.3,557.0 L342.3,563.9 L336.1,569.1 L339.8,571.6 L343.6,573.4 L340.5,580.3 L340.5,586.3 L334.9,591.5 L331.7,597.5 L328.0,604.4 L328.0,610.4 L323.7,614.7 L318.7,620.8 L313.7,626.8 L309.4,631.1 L302.5,634.5 L295.0,637.1 L290.7,634.5 L290.1,639.7 L283.8,642.3 L278.3,644.9 L272.0,647.5 L270.8,654.4 L267.7,655.2 L266.4,649.2 L265.8,644.0 L259.6,643.2 L255.9,644.9 L252.1,644.0 L247.8,640.6 L247.2,632.8 L242.8,632.8 L239.1,629.4 L236.0,632.8 L230.4,636.3 L226.6,633.7 L221.7,634.5 L219.2,637.1 L217.3,638.9 L216.1,647.5 L213.6,645.7 L211.7,643.2 L207.3,644.9 L205.5,640.6 L201.1,639.7 L203.0,632.8 L199.3,630.2 L198.0,622.5 L191.8,624.2 L191.2,616.4 L194.9,609.6 L198.0,607.0 L198.0,593.2 L195.5,592.3 L193.0,586.3 L189.9,587.2 L187.4,591.5 L182.5,587.2 L181.2,594.0 L176.9,598.4 L168.8,599.2 L162.6,598.4 L157.0,599.2 L153.9,591.5 L150.1,589.7 L145.8,587.2 L141.4,587.2 L137.1,594.9 L136.4,588.9 L132.1,589.7 L126.5,590.6 L119.0,588.9 L117.2,586.3 L113.4,583.7 L107.8,581.1 L102.2,575.1 L94.8,569.1 L89.2,571.6 L82.9,566.5 L79.8,563.0 L74.2,560.4 L71.7,550.1 L76.7,550.1 L73.6,540.6 L74.9,534.6 L71.1,532.0 L69.3,524.2 L63.0,523.4 L58.1,521.7 L56.2,514.8 L50.0,511.3 L47.5,509.6 L50.0,506.2 L50.0,499.3 L43.1,497.5ZM339.8,612.1 L342.9,614.7 L340.5,623.3 L339.2,631.1 L336.1,641.4 L334.2,638.0 L331.1,632.0 L331.7,625.1 L336.7,614.7ZM268.3,656.9 L273.9,657.8 L274.5,661.3 L271.4,668.2 L265.8,673.3 L260.2,670.7 L259.6,663.8 L263.9,658.7Z" fill="none" stroke="#b4b4b4" stroke-width="0.7" stroke-opacity="0.7"/>
<g transform="translate(380.0,594.0)">
<rect x="0" y="0" width="55.0" height="107.2" fill="#fff" stroke="#6e7878" stroke-width="1.2"/>
<path d="M0.5,6 C4,6 5,9 8,10.5 C10,11.5 12,10 13.5,11.5" fill="none" stroke="#1e2828" stroke-width="1.6"/>
<path d="M13.5,11.5 C15,15 16,16.5 18,14 C19,11 22,12 25,10.5 C28,9 31,8 33,5 C34.5,3 36,2 37,0.5" fill="none" stroke="#3cb4be" stroke-width="0.9"/>
<ellipse cx="14.5" cy="21" rx="3.6" ry="4.6" transform="rotate(25 14.5 21)" fill="none" stroke="#3cb4be" stroke-width="0.9"/>
<path d="M46,1 C47,4 49,7 50.5,4 L51.5,0.5" fill="none" stroke="#3cb4be" stroke-width="0.9"/>
<path d="M49.5,14.0 L51.5,9.0" stroke="#1e2d2d" stroke-width="1.7" stroke-linecap="round"/>
<path d="M46.5,26.0 L49.0,18.0" stroke="#1e2d2d" stroke-width="1.7" stroke-linecap="round"/>
<path d="M13.5,36.0 L16.0,43.0" stroke="#1e2d2d" stroke-width="1.7" stroke-linecap="round"/>
<path d="M46.0,56.5 L47.5,49.0" stroke="#1e2d2d" stroke-width="1.7" stroke-linecap="round"/>
<path d="M34.0,76.0 L38.5,69.5" stroke="#1e2d2d" stroke-width="1.7" stroke-linecap="round"/>
<path d="M9.0,80.0 L8.5,72.0" stroke="#1e2d2d" stroke-width="1.7" stroke-linecap="round"/>
<path d="M21.0,90.0 L28.0,88.0" stroke="#1e2d2d" stroke-width="1.7" stroke-linecap="round"/>
<circle cx="37.0" cy="11.0" r="0.9" fill="#2d96a5"/>
<circle cx="24.0" cy="33.0" r="0.9" fill="#2d96a5"/>
<circle cx="31.5" cy="32.5" r="0.9" fill="#2d96a5"/>
<circle cx="41.0" cy="36.0" r="0.9" fill="#2d96a5"/>
<circle cx="30.5" cy="53.5" r="0.9" fill="#2d96a5"/>
<circle cx="43.0" cy="56.0" r="0.9" fill="#2d96a5"/>
<circle cx="32.0" cy="60.0" r="0.9" fill="#2d96a5"/>
<circle cx="33.0" cy="66.0" r="0.9" fill="#2d96a5"/>
<circle cx="13.0" cy="72.5" r="0.9" fill="#2d96a5"/>
<circle cx="20.0" cy="72.0" r="0.9" fill="#2d96a5"/>
<circle cx="29.0" cy="71.5" r="0.9" fill="#2d96a5"/>
<circle cx="23.0" cy="86.0" r="0.9" fill="#2d96a5"/>
<circle cx="30.5" cy="82.0" r="0.9" fill="#2d96a5"/>
<rect x="25.5" y="97.2" width="29.0" height="9.5" fill="#c8d2d2" stroke="#5a6464" stroke-width="0.6"/>
<text x="26.0" y="104.9" font-size="7" fill="#1e3c3c" style="font-family:'Liberation Sans','Noto Sans CJK SC',sans-serif">南海诸岛</text>
</g>
<rect x="13.5" y="356.5" width="421.5" height="344.7" fill="none" stroke="#000" stroke-width="1.25"/>
<path d="M19.5,701.2 v-5 M81.7,701.2 v-5 M143.9,701.2 v-5 M206.1,701.2 v-5 M268.3,701.2 v-5 M330.5,701.2 v-5 M392.7,701.2 v-5 M13.5,657.8 h5 M13.5,571.6 h5 M13.5,485.5 h5 M13.5,399.3 h5" stroke="#000" stroke-width="1.2" fill="none"/>
<text class="k" transform="translate(19.5,716.1) scale(0.7,1)" text-anchor="middle">70</text>
<text class="k" transform="translate(81.7,716.1) scale(0.7,1)" text-anchor="middle">80</text>
<text class="k" transform="translate(143.9,716.1) scale(0.7,1)" text-anchor="middle">90</text>
<text class="k" transform="translate(206.1,716.1) scale(0.7,1)" text-anchor="middle">100</text>
<text class="k" transform="translate(268.3,716.1) scale(0.7,1)" text-anchor="middle">110</text>
<text class="k" transform="translate(330.5,716.1) scale(0.7,1)" text-anchor="middle">120</text>
<text class="k" transform="translate(392.7,716.1) scale(0.7,1)" text-anchor="middle">130</text>
<text class="k" transform="translate(12.5,663.2) scale(0.7,1)" text-anchor="end">20</text>
<text class="k" transform="translate(12.5,577.0) scale(0.7,1)" text-anchor="end">30</text>
<text class="k" transform="translate(12.5,490.9) scale(0.7,1)" text-anchor="end">40</text>
<text class="k" transform="translate(12.5,404.7) scale(0.7,1)" text-anchor="end">50</text>
<rect x="18.5" y="452.00" width="9.5" height="20.05" fill="#fb0505"/>
<rect x="18.5" y="471.75" width="9.5" height="20.05" fill="#ff6605"/>
<rect x="18.5" y="491.50" width="9.5" height="20.05" fill="#ffff00"/>
<rect x="18.5" y="511.25" width="9.5" height="20.05" fill="#0afa0a"/>
<rect x="18.5" y="531.00" width="9.5" height="20.05" fill="#089a38"/>
<rect x="18.5" y="550.75" width="9.5" height="20.05" fill="#056636"/>
<rect x="18.5" y="570.50" width="9.5" height="20.05" fill="#00ffff"/>
<rect x="18.5" y="590.25" width="9.5" height="20.05" fill="#14c0fa"/>
<rect x="18.5" y="610.00" width="9.5" height="20.05" fill="#0000ff"/>
<rect x="18.5" y="629.75" width="9.5" height="20.05" fill="#3305d0"/>
<rect x="18.5" y="649.50" width="9.5" height="20.05" fill="#6a3cff"/>
<rect x="18.5" y="669.25" width="9.5" height="20.05" fill="#360070"/>
<text class="c" font-size="13.5" font-weight="normal" transform="translate(30.5,475.8) scale(0.69,1)" stroke="#222" stroke-width="0.35">1300</text>
<text class="c" font-size="13.5" font-weight="normal" transform="translate(30.5,495.6) scale(0.69,1)" stroke="#222" stroke-width="0.35">1200</text>
<text class="c" font-size="13.5" font-weight="normal" transform="translate(30.5,515.3) scale(0.69,1)" stroke="#222" stroke-width="0.35">1100</text>
<text class="c" font-size="13.5" font-weight="normal" transform="translate(30.5,535.1) scale(0.69,1)" stroke="#222" stroke-width="0.35">1000</text>
<text class="c" font-size="13.5" font-weight="normal" transform="translate(30.5,554.8) scale(0.69,1)" stroke="#222" stroke-width="0.35">900</text>
<text class="c" font-size="13.5" font-weight="normal" transform="translate(30.5,574.6) scale(0.69,1)" stroke="#222" stroke-width="0.35">800</text>
<text class="c" font-size="13.5" font-weight="normal" transform="translate(30.5,594.3) scale(0.69,1)" stroke="#222" stroke-width="0.35">700</text>
<text class="c" font-size="13.5" font-weight="normal" transform="translate(30.5,614.1) scale(0.69,1)" stroke="#222" stroke-width="0.35">600</text>
<text class="c" font-size="13.5" font-weight="normal" transform="translate(30.5,633.8) scale(0.69,1)" stroke="#222" stroke-width="0.35">500</text>
<text class="c" font-size="13.5" font-weight="normal" transform="translate(30.5,653.6) scale(0.69,1)" stroke="#222" stroke-width="0.35">400</text>
<text class="c" font-size="13.5" font-weight="normal" transform="translate(30.5,673.3) scale(0.69,1)" stroke="#222" stroke-width="0.35">300</text>
<text class="c" font-size="13.5" font-weight="normal" transform="translate(30.5,693.1) scale(0.69,1)" stroke="#222" stroke-width="0.35">200</text>
<text class="t" x="112.5" y="397.5" font-size="22.5" letter-spacing="1.6"><tspan>直接辐射（</tspan><tspan font-size="23.9" letter-spacing="0">kWh/m</tspan><tspan dy="-8" font-size="15.7" letter-spacing="0">2</tspan><tspan dy="8">）</tspan></text>
</g>
<g id="panel4">
<rect x="455.5" y="364.6" width="413.5" height="336.4" fill="#fff"/>
<g clip-path="url(#cn4)">
<rect x="455.5" y="364.6" width="413.5" height="336.4" fill="#ffff00"/>
<path d="M585.4,423.9 C577.1,429.3 589.1,427.7 589.1,432.7 C589.1,437.7 586.7,436.7 585.4,442.7 C584.0,448.7 584.8,449.2 584.1,455.3 C583.4,461.3 584.5,460.6 582.8,465.3 C581.2,470.0 580.5,468.1 577.8,472.8 C575.2,477.5 574.5,476.8 572.8,482.8 C571.1,488.8 572.2,488.7 571.6,495.4 C570.9,502.0 570.0,501.9 570.3,507.9 C570.6,513.9 572.8,513.9 572.8,517.9 C572.8,521.9 573.7,520.6 570.3,522.9 C567.0,525.3 566.3,525.7 560.3,526.7 C554.3,527.7 554.4,526.4 547.8,526.7 C541.1,527.0 541.9,526.9 535.2,527.9 C528.5,528.9 528.7,529.4 522.7,530.5 C516.7,531.5 520.1,531.1 512.7,531.7 C505.3,532.3 499.6,524.4 494.9,532.7 C490.1,541.0 485.5,551.4 494.9,562.8 C504.2,574.1 517.3,571.6 530.0,575.3 C542.7,579.0 538.1,573.6 542.5,576.6 C546.8,579.6 542.9,582.9 546.3,586.6 C549.6,590.3 550.7,589.7 555.0,590.4 C559.4,591.0 558.5,589.1 562.5,589.1 C566.6,589.1 566.1,590.4 570.1,590.4 C574.1,590.4 573.6,590.4 577.6,589.1 C581.6,587.8 582.8,588.3 585.1,585.3 C587.4,582.3 587.7,581.8 586.4,577.8 C585.0,573.8 583.4,574.3 580.1,570.3 C576.7,566.3 575.8,567.5 573.8,562.8 C571.8,558.1 572.2,558.1 572.6,552.8 C572.9,547.4 572.4,548.1 575.1,542.7 C577.7,537.4 577.9,535.7 582.6,532.7 C587.3,529.7 587.9,532.8 592.6,531.5 C597.3,530.1 595.5,529.0 600.1,527.7 C604.8,526.4 604.8,526.8 610.2,526.4 C615.5,526.1 614.8,527.1 620.2,526.4 C625.5,525.8 626.5,526.3 630.2,523.9 C633.9,521.6 633.3,522.0 634.0,517.7 C634.6,513.3 632.4,512.3 632.7,507.6 C633.1,503.0 632.6,502.5 635.2,500.1 C637.9,497.8 638.7,498.9 642.7,498.9 C646.8,498.9 645.6,499.1 650.3,500.1 C654.9,501.1 654.9,501.0 660.3,502.6 C665.6,504.3 665.6,505.7 670.3,506.4 C675.0,507.1 673.8,507.5 677.8,505.1 C681.8,502.8 681.3,501.3 685.4,497.6 C689.4,493.9 688.9,493.7 692.9,491.4 C696.9,489.0 697.0,491.2 700.4,488.8 C703.7,486.5 701.4,485.3 705.4,482.6 C709.4,479.9 710.1,480.2 715.4,478.8 C720.8,477.5 720.1,479.2 725.5,477.6 C730.8,475.9 732.1,475.9 735.5,472.6 C738.8,469.2 737.6,469.7 738.0,465.0 C738.3,460.4 735.7,459.7 736.7,455.0 C737.7,450.3 739.4,452.8 741.7,447.5 C744.1,442.1 757.9,441.0 745.5,435.0 C733.1,428.9 728.8,431.0 695.4,424.9 C662.0,418.9 649.5,412.7 620.2,412.4 C590.8,412.1 593.6,418.5 585.4,423.9Z" fill="#ff6605"/>
<path d="M542.8,577.6 C544.4,571.3 543.6,575.8 547.8,575.1 C552.0,574.4 551.4,573.9 555.3,575.6 C559.2,577.3 557.1,576.1 559.6,580.1 C562.1,584.1 560.9,583.0 562.8,587.6 C564.7,592.2 572.0,591.8 565.3,593.9 C558.6,596.0 550.3,599.3 542.8,593.9 C535.3,588.5 541.1,583.9 542.8,577.6Z" fill="#ffff00"/>
<path d="M593.9,475.1 C595.8,468.8 594.3,472.1 598.9,468.8 C603.5,465.5 601.4,466.3 607.7,465.0 C613.9,463.8 611.8,463.8 617.7,465.0 C623.5,466.3 619.4,467.5 625.2,468.8 C631.0,470.1 628.5,469.2 635.2,468.8 C641.9,468.4 638.6,467.1 645.3,467.5 C651.9,468.0 648.6,468.0 655.3,470.1 C662.0,472.1 659.9,471.7 665.3,473.8 C670.7,475.9 670.7,473.4 671.6,476.3 C672.4,479.2 671.6,479.2 667.8,482.6 C664.0,485.9 666.1,484.7 660.3,486.3 C654.4,488.0 656.9,488.0 650.3,487.6 C643.6,487.2 646.9,487.6 640.2,485.1 C633.6,482.6 636.1,482.6 630.2,480.1 C624.4,477.6 627.7,477.6 622.7,477.6 C617.7,477.6 619.4,476.7 615.2,480.1 C611.0,483.4 612.3,481.7 610.2,487.6 C608.1,493.4 608.9,492.2 608.9,497.6 C608.9,503.0 611.4,500.1 610.2,503.9 C608.9,507.6 608.9,508.1 605.2,508.9 C601.4,509.7 602.2,509.7 598.9,506.4 C595.5,503.0 597.0,505.1 595.1,498.9 C593.2,492.6 593.5,495.5 593.1,487.6 C592.7,479.7 592.0,481.3 593.9,475.1Z" fill="#fb0505"/>
<path d="M513.9,550.0 C515.6,545.0 516.0,546.1 521.5,543.8 C526.9,541.4 525.2,541.3 530.2,543.0 C535.3,544.7 534.0,544.3 536.5,548.8 C539.0,553.2 538.6,551.3 537.8,556.3 C536.9,561.3 537.3,559.9 534.0,563.8 C530.7,567.7 531.9,567.7 527.7,568.1 C523.6,568.5 525.2,568.2 521.5,565.1 C517.7,562.0 519.0,563.8 516.5,558.8 C513.9,553.8 512.3,555.0 513.9,550.0Z" fill="#fb0505"/>
<path d="M592.6,592.9 C594.3,568.1 596.9,588.8 598.9,582.8 C600.9,576.8 600.1,577.0 600.1,570.3 C600.1,563.6 598.2,563.8 598.9,557.8 C599.6,551.8 599.6,552.1 602.6,547.7 C605.7,543.4 605.5,543.8 610.2,541.5 C614.8,539.1 614.8,540.0 620.2,539.0 C625.5,538.0 624.9,539.4 630.2,537.7 C635.6,536.0 635.6,535.4 640.2,532.7 C644.9,530.0 644.4,531.7 647.8,527.7 C651.1,523.7 650.1,521.7 652.8,517.7 C655.4,513.7 654.4,513.7 657.8,512.7 C661.1,511.7 661.3,512.6 665.3,513.9 C669.3,515.2 669.0,515.9 672.8,517.7 C676.6,519.4 675.8,521.0 679.6,520.4 C683.4,519.8 683.1,518.1 687.1,515.4 C691.1,512.7 690.6,513.1 694.6,510.4 C698.6,507.7 698.1,508.1 702.1,505.4 C706.2,502.7 705.7,502.7 709.7,500.4 C713.7,498.0 712.5,498.0 717.2,496.6 C721.9,495.3 721.9,497.0 727.2,495.4 C732.6,493.7 732.6,493.0 737.2,490.4 C741.9,487.7 740.7,488.0 744.7,485.3 C748.8,482.7 748.3,481.0 752.3,480.3 C756.3,479.7 755.8,482.8 759.8,482.8 C763.8,482.8 763.3,482.7 767.3,480.3 C771.3,478.0 770.8,477.4 774.8,474.1 C778.8,470.7 778.3,471.5 782.3,467.8 C786.4,464.1 786.5,465.0 789.9,460.3 C793.2,455.6 792.9,455.6 794.9,450.3 C796.9,444.9 797.4,445.6 797.4,440.2 C797.4,434.9 796.9,435.5 794.9,430.2 C792.9,424.9 793.2,424.3 789.9,420.2 C786.5,416.0 785.7,415.7 782.3,414.7 C779.0,413.7 780.0,413.6 777.3,416.4 C774.7,419.2 775.0,420.2 772.3,425.2 C769.6,430.2 770.0,433.2 767.3,435.2 C764.6,437.2 763.6,436.8 762.3,432.7 C761.0,428.6 762.3,427.3 762.5,419.9 C762.7,412.5 763.6,423.6 763.0,404.9 C762.5,386.2 725.1,364.5 760.5,349.7 C796.0,335.0 859.8,262.9 895.9,349.7 C932.0,436.6 976.7,588.7 895.9,675.6 C815.0,762.4 673.5,697.6 592.6,675.6 C511.8,653.5 590.9,617.6 592.6,592.9Z" fill="#0afa0a"/>
<path d="M737.2,425.2 L744.7,406.4 L762.3,405.1 L761.8,417.6 L764.8,425.2 L752.3,423.9 L744.7,426.4Z" fill="#ffff00"/>
<path d="M742.2,422.7 L745.2,412.6 L748.7,422.7Z" fill="#ff6605"/>
<path d="M769.3,461.5 C770.0,459.4 770.2,458.7 772.3,458.5 C774.4,458.3 775.1,458.9 775.6,461.0 C776.0,463.1 775.3,463.5 773.6,464.8 C771.8,466.0 771.7,465.8 770.3,464.8 C768.9,463.7 768.6,463.6 769.3,461.5Z" fill="#ff6605"/>
<path d="M526.5,447.7 C528.8,445.5 528.1,446.0 535.3,444.7 C542.4,443.5 540.3,442.5 547.8,444.0 C555.3,445.4 552.4,444.8 557.8,449.0 C563.2,453.1 561.1,451.5 564.1,456.5 C567.0,461.5 567.0,459.0 566.6,464.0 C566.2,469.0 566.6,467.4 562.8,471.5 C559.1,475.7 559.5,472.8 555.3,476.5 C551.1,480.3 553.2,480.1 550.3,482.8 C547.4,485.6 549.0,486.1 546.5,484.8 C544.0,483.6 543.6,483.9 542.8,479.0 C541.9,474.2 542.4,475.3 544.0,470.3 C545.7,465.3 548.2,466.9 547.8,464.0 C547.4,461.1 546.5,461.9 542.8,461.5 C539.0,461.1 540.3,464.4 536.5,462.8 C532.7,461.1 534.2,460.3 531.5,456.5 C528.7,452.7 529.9,454.4 528.2,451.5 C526.6,448.6 524.1,450.0 526.5,447.7Z" fill="#0afa0a"/>
<path d="M511.7,509.9 C511.3,505.7 511.1,506.4 513.9,504.1 C516.8,501.8 516.6,502.0 520.2,502.9 C523.8,503.7 523.1,503.3 524.7,506.6 C526.4,510.0 526.3,509.3 525.2,512.9 C524.1,516.5 524.8,516.1 521.5,517.4 C518.1,518.6 518.5,519.1 515.2,516.6 C511.9,514.1 512.1,514.1 511.7,509.9Z" fill="#0afa0a"/>
<path d="M600.1,590.4 C602.1,584.3 603.1,583.8 605.2,577.8 C607.2,571.8 605.7,572.1 607.7,567.8 C609.7,563.5 609.3,563.5 612.7,561.5 C616.0,559.5 616.2,561.9 620.2,560.3 C624.2,558.6 624.4,557.9 627.7,555.3 C631.0,552.6 628.7,550.9 632.7,550.3 C636.7,549.6 638.1,552.8 642.7,552.8 C647.4,552.8 646.3,552.3 650.3,550.3 C654.3,548.2 654.4,549.2 657.8,545.2 C661.1,541.2 659.5,539.2 662.8,535.2 C666.1,531.2 665.6,532.2 670.3,530.2 C675.0,528.2 675.0,529.0 680.3,527.7 C685.7,526.4 685.0,525.5 690.4,525.2 C695.7,524.9 695.7,527.1 700.4,526.4 C705.1,525.8 703.9,526.4 707.9,522.7 C711.9,519.0 712.1,515.0 715.4,512.7 C718.8,510.3 717.8,511.9 720.4,513.9 C723.1,515.9 722.1,520.5 725.5,520.2 C728.8,519.8 729.0,512.0 733.0,512.7 C737.0,513.3 736.5,519.3 740.5,522.7 C744.5,526.0 743.3,525.2 748.0,525.2 C752.7,525.2 753.7,522.7 758.0,522.7 C762.4,522.7 761.6,523.9 764.3,525.2 C767.0,526.5 766.4,523.7 768.1,527.7 C769.7,531.7 763.2,534.2 770.6,540.2 C777.9,546.2 788.9,514.2 795.6,550.3 C802.3,586.3 849.1,642.1 795.6,675.6 C742.2,709.0 647.9,695.6 595.1,675.6 C542.3,655.5 596.3,623.1 597.6,600.4 C599.0,577.7 598.1,596.4 600.1,590.4Z" fill="#089a38"/>
<path d="M807.4,450.2 C812.4,447.7 810.7,447.7 817.4,447.7 C824.1,447.7 822.0,447.3 827.4,450.2 C832.9,453.1 831.4,451.5 833.7,456.5 C836.0,461.5 836.5,460.3 834.5,465.3 C832.4,470.3 832.3,468.6 827.4,471.5 C822.6,474.5 824.9,471.9 819.9,474.0 C814.9,476.1 818.2,476.5 812.4,477.8 C806.6,479.0 808.2,475.3 802.4,477.8 C796.5,480.3 799.9,480.7 794.9,485.3 C789.8,489.9 791.9,488.7 787.3,491.6 C782.7,494.5 781.5,497.8 781.1,494.1 C780.7,490.3 781.5,487.4 786.1,480.3 C790.7,473.2 790.3,478.6 794.9,472.8 C799.5,466.9 797.4,468.6 799.9,462.8 C802.4,456.9 799.9,459.4 802.4,455.2 C804.9,451.1 802.4,452.7 807.4,450.2Z" fill="#089a38"/>
<path d="M842.5,425.2 C845.1,419.3 844.1,422.7 850.0,420.2 C855.8,417.6 857.9,414.3 860.0,417.6 C862.1,421.0 859.6,422.7 856.3,430.2 C852.9,437.7 853.8,434.4 850.0,440.2 C846.2,446.0 847.7,448.6 845.0,447.7 C842.3,446.9 842.8,445.2 842.0,437.7 C841.1,430.2 839.8,431.0 842.5,425.2Z" fill="#089a38"/>
<path d="M784.3,381.3 C785.6,376.3 784.7,376.7 788.6,375.0 C792.5,373.4 792.8,372.9 796.1,376.3 C799.5,379.6 799.0,379.6 798.6,385.1 C798.2,390.5 797.9,389.2 794.9,392.6 C791.8,395.9 792.7,395.9 789.3,395.1 C786.0,394.3 786.5,394.7 784.8,390.1 C783.2,385.5 783.1,386.3 784.3,381.3Z" fill="#089a38"/>
<path d="M818.7,425.2 C819.1,423.0 819.3,422.3 821.2,422.2 C823.0,422.0 823.5,422.7 824.2,424.7 C824.8,426.7 824.6,426.8 823.2,428.2 C821.8,429.5 821.4,429.7 819.9,428.7 C818.4,427.7 818.2,427.3 818.7,425.2Z" fill="#089a38"/>
<path d="M710.4,535.2 C713.8,532.7 713.8,536.9 720.4,536.5 C727.1,536.0 723.8,533.5 730.5,534.0 C737.1,534.4 734.6,534.8 740.5,537.7 C746.3,540.6 743.0,538.6 748.0,542.7 C753.0,546.9 750.5,546.1 755.5,550.3 C760.5,554.4 758.0,551.9 763.0,555.3 C768.1,558.6 766.4,555.3 770.6,560.3 C774.7,565.3 778.1,567.0 775.6,570.3 C773.1,573.6 771.4,571.6 763.0,570.3 C754.7,569.0 758.0,567.4 750.5,566.5 C743.0,565.7 746.3,565.7 740.5,567.8 C734.6,569.9 737.6,572.0 733.0,572.8 C728.4,573.6 730.0,574.5 726.7,570.3 C723.4,566.1 725.9,567.0 722.9,560.3 C720.0,553.6 722.1,555.7 717.9,550.3 C713.8,544.8 712.9,549.0 710.4,544.0 C707.9,539.0 707.1,537.7 710.4,535.2Z" fill="#056636"/>
<path d="M662.8,536.5 C667.0,531.9 664.5,534.0 670.3,531.5 C676.2,528.9 673.7,530.2 680.3,528.9 C687.0,527.7 684.5,527.3 690.4,527.7 C696.2,528.1 694.5,526.9 697.9,530.2 C701.2,533.5 701.2,534.0 700.4,537.7 C699.6,541.5 699.6,541.1 695.4,541.5 C691.2,541.9 692.9,540.2 687.9,539.0 C682.8,537.7 685.4,536.5 680.3,537.7 C675.3,539.0 677.0,539.4 672.8,542.7 C668.6,546.1 671.1,545.2 667.8,547.7 C664.5,550.3 666.1,547.7 662.8,550.3 C659.5,552.8 660.3,551.1 657.8,555.3 C655.3,559.4 656.9,562.8 655.3,562.8 C653.6,562.8 651.9,561.1 652.8,555.3 C653.6,549.4 654.4,551.5 657.8,545.2 C661.1,539.0 658.6,541.1 662.8,536.5Z" fill="#056636"/>
<path d="M607.7,567.8 C611.0,562.8 608.9,562.8 613.9,562.8 C618.9,562.8 617.3,563.6 622.7,567.8 C628.1,572.0 626.0,569.5 630.2,575.3 C634.4,581.2 632.7,578.7 635.2,585.3 C637.7,592.0 638.6,590.4 637.7,595.4 C636.9,600.4 636.9,601.2 632.7,600.4 C628.5,599.5 630.2,598.7 625.2,592.9 C620.2,587.0 622.3,588.7 617.7,582.8 C613.1,577.0 614.3,576.1 611.4,575.3 C608.5,574.5 610.6,575.3 608.9,580.3 C607.2,585.3 608.1,584.5 606.4,590.4 C604.7,596.2 605.6,597.9 603.9,597.9 C602.2,597.9 601.4,597.0 601.4,590.4 C601.4,583.7 601.8,585.3 603.9,577.8 C606.0,570.3 604.3,572.8 607.7,567.8Z" fill="#056636"/>
<path d="M662.8,610.4 C665.7,610.4 665.3,610.4 667.8,615.4 C670.3,620.4 669.1,618.8 670.3,625.4 C671.6,632.1 673.2,631.7 671.6,635.5 C669.9,639.2 668.6,640.1 665.3,636.7 C662.0,633.4 663.6,632.5 661.5,625.4 C659.5,618.3 658.6,620.4 659.0,615.4 C659.5,610.4 659.9,610.4 662.8,610.4Z" fill="#056636"/>
<path d="M655.3,575.3 C655.3,567.0 654.9,570.3 657.8,562.8 C660.7,555.3 659.0,559.0 664.0,552.8 C669.1,546.5 666.6,548.6 672.8,544.0 C679.1,539.4 676.2,540.6 682.8,539.0 C689.5,537.3 687.0,537.7 692.9,539.0 C698.7,540.2 696.2,539.0 700.4,542.7 C704.6,546.5 701.2,546.1 705.4,550.3 C709.6,554.4 707.9,551.1 712.9,555.3 C717.9,559.4 715.4,556.9 720.4,562.8 C725.5,568.6 722.9,569.5 728.0,572.8 C733.0,576.1 729.6,574.5 735.5,572.8 C741.3,571.1 738.0,569.9 745.5,567.8 C753.0,565.7 749.7,565.7 758.0,566.5 C766.4,567.4 758.0,567.4 770.6,570.3 C783.1,573.2 787.3,540.2 795.6,575.3 C804.0,610.4 835.7,642.1 795.6,675.6 C755.5,709.0 715.8,690.8 675.3,675.6 C634.8,660.4 674.9,646.7 674.1,629.9 C673.2,613.2 674.1,631.1 672.8,625.4 C671.6,619.8 673.2,621.3 670.3,612.9 C667.4,604.6 668.2,608.7 664.0,600.4 C659.9,592.0 660.7,596.2 657.8,587.8 C654.9,579.5 655.3,583.7 655.3,575.3Z" fill="#00ffff"/>
<path d="M657.8,575.3 C657.8,565.3 658.2,569.5 661.5,562.8 C664.9,556.1 662.4,559.4 667.8,555.3 C673.2,551.1 671.1,551.5 677.8,550.3 C684.5,549.0 681.2,549.0 687.9,551.5 C694.5,554.0 692.0,553.2 697.9,557.8 C703.7,562.4 701.2,559.4 705.4,565.3 C709.6,571.1 707.9,568.6 710.4,575.3 C712.9,582.0 711.2,578.7 712.9,585.3 C714.6,592.0 712.1,592.4 715.4,595.4 C718.8,598.3 719.2,592.4 722.9,594.1 C726.7,595.8 725.9,594.9 726.7,600.4 C727.5,605.8 728.4,605.0 725.5,610.4 C722.5,615.8 723.8,614.2 717.9,616.7 C712.1,619.2 712.1,615.0 707.9,617.9 C703.7,620.8 709.6,621.4 705.4,625.4 C701.2,629.4 702.1,627.9 695.4,629.9 C688.7,632.0 691.2,631.7 685.4,631.7 C679.5,631.7 682.0,634.5 677.8,629.9 C673.7,625.4 676.2,626.1 672.8,617.9 C669.5,609.7 671.6,613.7 667.8,605.4 C664.0,597.0 664.9,602.9 661.5,592.9 C658.2,582.8 657.8,585.3 657.8,575.3Z" fill="#14c0fa"/>
<path d="M660.8,575.3 C661.4,569.5 660.9,571.7 664.0,566.5 C667.2,561.4 665.7,562.5 670.3,559.8 C674.9,557.0 672.8,557.7 677.8,558.3 C682.8,558.9 680.3,558.4 685.4,561.5 C690.4,564.7 687.9,563.6 692.9,567.8 C697.9,572.0 696.5,569.9 700.4,574.1 C704.3,578.2 703.8,574.9 704.6,580.3 C705.5,585.8 704.7,583.7 702.9,590.4 C701.1,597.0 702.1,594.5 699.1,600.4 C696.2,606.2 697.9,604.6 694.1,607.9 C690.4,611.2 692.0,610.8 687.9,610.4 C683.7,610.0 685.8,610.8 681.6,606.6 C677.4,602.5 679.9,603.3 675.3,597.9 C670.7,592.4 672.2,594.9 667.8,590.4 C663.5,585.8 664.6,589.1 662.3,584.1 C660.0,579.1 660.2,581.2 660.8,575.3Z" fill="#0000ff"/>
<path d="M728.4,637.3 C726.7,634.2 727.5,634.8 730.9,629.8 C734.3,624.7 732.6,626.4 738.5,622.2 C744.4,618.0 741.0,620.5 748.6,617.1 C756.2,613.7 755.8,612.9 761.3,612.1 C766.7,611.2 766.7,610.4 765.0,614.6 C763.4,618.8 762.5,618.8 756.2,624.7 C749.9,630.6 752.8,627.5 746.1,632.3 C739.3,637.1 741.9,637.4 736.0,639.1 C730.1,640.8 730.1,640.5 728.4,637.3Z" fill="#056636"/>
<path d="M614.2,577.6 C615.0,573.0 614.6,573.8 618.0,572.6 C621.3,571.3 620.0,571.3 624.2,573.8 C628.4,576.3 626.7,575.5 630.5,580.1 C634.2,584.7 632.6,583.0 635.5,587.6 C638.4,592.2 640.1,592.2 639.3,593.9 C638.4,595.6 637.2,593.9 633.0,592.6 C628.8,591.4 630.9,591.4 626.7,590.1 C622.6,588.9 624.2,590.1 620.5,588.9 C616.7,587.6 617.5,590.1 615.5,586.4 C613.4,582.6 613.4,582.2 614.2,577.6Z" fill="#00ffff"/>
<path d="M640.2,577.8 C640.2,572.8 640.7,573.2 642.7,571.6 C644.8,569.9 644.7,569.9 646.5,572.8 C648.3,575.7 648.3,575.7 648.3,580.3 C648.3,584.9 648.3,584.5 646.5,586.6 C644.7,588.7 644.8,589.5 642.7,586.6 C640.7,583.7 640.2,582.8 640.2,577.8Z" fill="#0afa0a"/>
<path d="M646.5,601.6 C648.2,598.3 647.8,597.7 651.5,596.6 C655.3,595.5 654.9,595.9 657.8,598.4 C660.7,600.9 660.7,600.1 660.3,604.1 C659.9,608.1 659.9,608.3 656.5,610.4 C653.2,612.5 653.6,611.7 650.3,610.4 C646.9,609.1 647.8,609.6 646.5,606.6 C645.3,603.7 644.8,605.0 646.5,601.6Z" fill="#0afa0a"/>
<path d="M643.2,556.5 C643.7,554.6 644.1,554.0 645.8,554.0 C647.4,554.0 647.8,554.6 648.3,556.5 C648.8,558.4 648.6,558.7 647.3,559.8 C645.9,560.9 645.6,560.9 644.2,559.8 C642.9,558.7 642.7,558.4 643.2,556.5Z" fill="#0afa0a"/>
<path d="M761.3,610.8 L781.5,610.8 L781.5,646.2 L761.3,646.2Z" fill="#056636"/>
<path d="M693.0,653.8 L715.7,653.8 L715.7,676.5 L693.0,676.5Z" fill="#056636"/>
<path d="M698.0,639.9 L715.7,639.9 L715.7,657.6 L698.0,657.6Z" fill="#056636"/>
<path d="M772.6,378.6 L782.3,387.0 L792.7,394.6 L797.5,405.6 L796.9,413.1 L789.6,419.9 L785.4,424.1 L786.6,433.4 L783.5,435.1" fill="none" stroke="#c8c8c8" stroke-width="0.7" stroke-opacity="0.62"/>
<path d="M783.5,435.1 L789.6,441.0 L795.1,444.4 L801.8,446.9 L807.9,449.4 L813.9,453.6 L820.0,457.0 L824.9,452.8 L829.1,457.0 L833.4,461.2" fill="none" stroke="#c8c8c8" stroke-width="0.7" stroke-opacity="0.62"/>
<path d="M783.5,435.1 L777.5,441.8 L776.2,448.6 L783.5,452.8 L786.6,461.2" fill="none" stroke="#c8c8c8" stroke-width="0.7" stroke-opacity="0.62"/>
<path d="M786.6,461.2 L792.7,466.3 L797.5,472.2 L798.7,479.0 L801.8,482.3" fill="none" stroke="#c8c8c8" stroke-width="0.7" stroke-opacity="0.62"/>
<path d="M786.6,461.2 L780.5,467.1 L774.4,469.7 L768.3,473.9 L761.0,479.8" fill="none" stroke="#c8c8c8" stroke-width="0.7" stroke-opacity="0.62"/>
<path d="M761.0,479.8 L764.1,488.2 L764.7,490.8" fill="none" stroke="#c8c8c8" stroke-width="0.7" stroke-opacity="0.62"/>
<path d="M761.0,479.8 L755.0,475.6 L750.1,469.7 L741.0,473.9 L734.9,477.3 L728.8,478.1 L728.2,486.6" fill="none" stroke="#c8c8c8" stroke-width="0.7" stroke-opacity="0.62"/>
<path d="M728.2,486.6 L729.4,494.1 L727.0,503.4 L726.4,511.9 L727.0,521.1" fill="none" stroke="#c8c8c8" stroke-width="0.7" stroke-opacity="0.62"/>
<path d="M728.2,486.6 L721.5,489.1 L716.1,494.1 L711.8,495.8" fill="none" stroke="#c8c8c8" stroke-width="0.7" stroke-opacity="0.62"/>
<path d="M711.8,495.8 L710.0,503.4 L707.5,511.9 L706.9,524.5 L706.3,536.3" fill="none" stroke="#c8c8c8" stroke-width="0.7" stroke-opacity="0.62"/>
<path d="M706.3,536.3 L713.6,533.0 L719.7,531.3 L725.8,526.2 L727.0,521.1" fill="none" stroke="#c8c8c8" stroke-width="0.7" stroke-opacity="0.62"/>
<path d="M727.0,521.1 L733.7,523.7 L737.3,522.0 L741.0,513.5 L747.1,507.6 L751.9,505.1" fill="none" stroke="#c8c8c8" stroke-width="0.7" stroke-opacity="0.62"/>
<path d="M737.3,522.0 L734.9,531.3 L741.0,536.3 L747.1,537.2 L753.1,536.3 L760.4,533.0" fill="none" stroke="#c8c8c8" stroke-width="0.7" stroke-opacity="0.62"/>
<path d="M741.0,536.3 L742.8,543.1 L738.5,549.8 L740.4,555.7 L737.9,560.8" fill="none" stroke="#c8c8c8" stroke-width="0.7" stroke-opacity="0.62"/>
<path d="M747.1,537.2 L753.1,545.6 L758.6,550.7 L756.2,558.3 L760.4,563.3 L762.9,565.9" fill="none" stroke="#c8c8c8" stroke-width="0.7" stroke-opacity="0.62"/>
<path d="M762.9,565.9 L768.3,566.7 L772.6,568.4" fill="none" stroke="#c8c8c8" stroke-width="0.7" stroke-opacity="0.62"/>
<path d="M762.9,565.9 L759.2,572.6 L755.6,579.4 L753.1,583.6" fill="none" stroke="#c8c8c8" stroke-width="0.7" stroke-opacity="0.62"/>
<path d="M710.0,548.1 L716.7,554.0 L725.8,555.7 L731.9,560.0 L737.9,560.8" fill="none" stroke="#c8c8c8" stroke-width="0.7" stroke-opacity="0.62"/>
<path d="M737.9,560.8 L741.0,567.5 L741.0,576.8 L744.6,578.5 L753.1,583.6" fill="none" stroke="#c8c8c8" stroke-width="0.7" stroke-opacity="0.62"/>
<path d="M700.2,578.5 L706.3,576.8 L713.6,576.0 L721.5,577.7 L726.4,581.0 L728.8,583.6 L734.3,579.4 L741.0,576.8" fill="none" stroke="#c8c8c8" stroke-width="0.7" stroke-opacity="0.62"/>
<path d="M728.8,583.6 L728.2,592.0 L727.0,600.5 L728.8,608.9 L728.2,614.0" fill="none" stroke="#c8c8c8" stroke-width="0.7" stroke-opacity="0.62"/>
<path d="M753.1,583.6 L755.0,589.5 L750.1,595.4 L746.5,602.1 L742.2,610.6 L741.0,618.2 L739.8,620.7" fill="none" stroke="#c8c8c8" stroke-width="0.7" stroke-opacity="0.62"/>
<path d="M755.0,589.5 L759.2,595.4 L766.5,598.8" fill="none" stroke="#c8c8c8" stroke-width="0.7" stroke-opacity="0.62"/>
<path d="M748.3,629.1 L745.2,621.5 L739.8,620.7 L733.7,619.0 L728.2,614.0 L721.5,617.3 L716.7,619.0" fill="none" stroke="#c8c8c8" stroke-width="0.7" stroke-opacity="0.62"/>
<path d="M716.7,619.0 L713.6,625.8 L715.4,634.2 L709.4,640.1 L703.3,646.0" fill="none" stroke="#c8c8c8" stroke-width="0.7" stroke-opacity="0.62"/>
<path d="M716.7,619.0 L710.6,613.1 L704.5,608.9 L700.9,607.2" fill="none" stroke="#c8c8c8" stroke-width="0.7" stroke-opacity="0.62"/>
<path d="M700.9,607.2 L700.2,598.8 L700.9,589.5 L700.2,583.6 L700.2,578.5" fill="none" stroke="#c8c8c8" stroke-width="0.7" stroke-opacity="0.62"/>
<path d="M700.9,607.2 L695.4,613.1 L687.5,615.6 L680.2,618.2 L674.1,620.7 L671.1,619.0" fill="none" stroke="#c8c8c8" stroke-width="0.7" stroke-opacity="0.62"/>
<path d="M671.1,619.0 L677.1,625.8 L680.2,630.0 L677.1,632.5" fill="none" stroke="#c8c8c8" stroke-width="0.7" stroke-opacity="0.62"/>
<path d="M671.1,619.0 L670.5,610.6 L668.0,604.7 L672.9,597.9 L675.9,593.7" fill="none" stroke="#c8c8c8" stroke-width="0.7" stroke-opacity="0.62"/>
<path d="M675.9,593.7 L682.0,587.8 L688.7,585.3 L694.8,583.6 L700.2,583.6" fill="none" stroke="#c8c8c8" stroke-width="0.7" stroke-opacity="0.62"/>
<path d="M682.0,587.8 L677.1,579.4 L679.0,573.5 L685.0,571.8 L689.3,566.7 L695.4,556.6" fill="none" stroke="#c8c8c8" stroke-width="0.7" stroke-opacity="0.62"/>
<path d="M700.2,578.5 L695.4,570.9 L701.5,566.7 L705.1,563.3 L702.1,560.0 L695.4,556.6" fill="none" stroke="#c8c8c8" stroke-width="0.7" stroke-opacity="0.62"/>
<path d="M695.4,556.6 L688.1,554.0 L680.2,551.5 L677.1,550.7" fill="none" stroke="#c8c8c8" stroke-width="0.7" stroke-opacity="0.62"/>
<path d="M695.4,556.6 L702.1,558.3 L705.7,549.8 L710.0,548.1 L710.6,541.4 L706.3,536.3" fill="none" stroke="#c8c8c8" stroke-width="0.7" stroke-opacity="0.62"/>
<path d="M677.1,550.7 L682.6,541.4 L683.8,533.0 L691.1,530.4 L696.0,522.0 L688.1,516.1 L689.9,510.2" fill="none" stroke="#c8c8c8" stroke-width="0.7" stroke-opacity="0.62"/>
<path d="M689.9,510.2 L697.2,507.6 L701.5,502.6 L707.5,496.7 L711.8,495.8" fill="none" stroke="#c8c8c8" stroke-width="0.7" stroke-opacity="0.62"/>
<path d="M689.9,510.2 L683.2,513.5 L680.2,524.5 L682.0,530.4 L677.1,527.0 L669.8,512.7 L679.0,507.6 L679.6,497.5 L685.0,495.8 L685.7,503.4 L689.9,510.2" fill="none" stroke="#c8c8c8" stroke-width="0.7" stroke-opacity="0.62"/>
<path d="M669.8,512.7 L665.0,506.0 L667.4,496.7 L658.9,497.5 L649.8,499.2 L643.7,490.8 L637.6,486.6 L633.4,484.0 L626.7,467.1" fill="none" stroke="#c8c8c8" stroke-width="0.7" stroke-opacity="0.62"/>
<path d="M601.1,499.2 L610.3,496.7 L619.4,497.5 L628.5,500.9 L637.6,503.4 L646.7,507.6 L655.9,511.9 L661.3,516.1 L661.9,522.8 L660.1,527.9 L655.9,533.0 L653.4,539.7 L648.6,538.0 L649.8,547.3 L655.9,547.3" fill="none" stroke="#c8c8c8" stroke-width="0.7" stroke-opacity="0.62"/>
<path d="M655.9,547.3 L661.9,539.7 L668.0,541.4 L672.9,549.8 L677.1,550.7" fill="none" stroke="#c8c8c8" stroke-width="0.7" stroke-opacity="0.62"/>
<path d="M655.9,547.3 L649.8,551.5 L643.7,551.5 L637.6,545.6 L631.5,547.3 L627.9,553.2" fill="none" stroke="#c8c8c8" stroke-width="0.7" stroke-opacity="0.62"/>
<path d="M627.9,553.2 L619.4,556.6 L610.3,560.0 L601.1,554.0 L592.0,549.8 L584.1,545.6 L582.9,533.0 L579.9,523.7" fill="none" stroke="#c8c8c8" stroke-width="0.7" stroke-opacity="0.62"/>
<path d="M627.9,553.2 L634.6,562.5 L637.0,570.9 L638.2,581.9 L636.4,587.8 L633.4,595.4" fill="none" stroke="#c8c8c8" stroke-width="0.7" stroke-opacity="0.62"/>
<path d="M638.2,581.9 L643.7,589.5 L648.6,595.4 L654.6,607.2 L660.7,606.4 L663.8,598.8 L666.8,592.0 L671.1,587.8 L675.9,593.7" fill="none" stroke="#c8c8c8" stroke-width="0.7" stroke-opacity="0.62"/>
<path d="M516.0,538.9 L525.1,529.6 L537.3,527.0 L552.5,526.2 L567.7,522.8 L579.9,523.7" fill="none" stroke="#c8c8c8" stroke-width="0.7" stroke-opacity="0.62"/>
<path d="M579.9,523.7 L589.0,519.5 L589.0,509.3 L584.7,504.3 L592.0,499.2 L601.1,499.2 L599.9,490.8 L607.2,482.3 L616.3,473.9 L621.8,468.0" fill="none" stroke="#c8c8c8" stroke-width="0.7" stroke-opacity="0.62"/>
<path d="M737.9,490.8 L741.0,485.7 L747.1,485.7 L749.5,489.9 L745.8,494.1 L750.7,496.7 L750.1,501.7 L745.8,500.9 L742.2,495.0 L737.9,490.8" fill="none" stroke="#c8c8c8" stroke-width="0.7" stroke-opacity="0.62"/>
</g>
<path d="M483.2,496.7 L485.0,491.6 L490.5,487.4 L495.3,486.6 L500.2,487.4 L503.3,482.3 L510.5,481.5 L516.0,475.6 L523.3,473.1 L523.9,467.1 L525.7,464.6 L524.5,456.2 L524.5,450.3 L521.5,449.4 L532.4,446.1 L537.3,446.9 L536.1,443.5 L540.3,430.0 L551.3,431.7 L555.5,430.9 L555.5,423.3 L562.2,418.2 L563.4,414.0 L567.1,414.0 L569.5,413.1 L571.3,417.4 L576.8,423.3 L583.5,424.1 L588.4,432.6 L589.0,440.1 L587.2,444.4 L592.6,447.7 L604.2,448.6 L611.5,453.6 L615.7,454.5 L616.9,463.8 L621.8,468.0 L626.7,467.1 L640.7,468.8 L645.5,468.8 L654.6,469.7 L663.8,474.7 L671.1,474.7 L674.1,477.3 L685.0,471.4 L697.2,470.5 L705.1,468.8 L706.9,467.1 L710.6,462.1 L716.1,459.6 L715.4,448.6 L720.3,448.6 L726.4,451.1 L731.9,445.2 L739.2,444.4 L742.2,442.7 L744.6,437.6 L749.5,436.8 L755.0,434.2 L761.0,435.1 L764.7,434.2 L763.5,430.0 L756.2,425.0 L751.9,425.8 L747.7,425.0 L740.4,425.8 L738.5,424.1 L742.8,414.8 L745.2,408.1 L751.9,410.6 L756.8,407.2 L761.0,405.6 L760.4,403.0 L765.9,392.1 L769.6,389.5 L765.3,384.5 L769.6,381.1 L779.3,376.9 L787.2,376.9 L795.1,379.4 L799.3,380.2 L803.6,386.2 L807.9,395.4 L809.7,403.9 L811.5,408.1 L818.2,409.8 L823.1,411.5 L827.3,415.7 L830.4,415.7 L830.4,420.7 L831.6,425.8 L841.3,425.8 L844.9,422.4 L852.9,419.9 L855.3,419.9 L854.7,425.8 L851.6,429.2 L849.8,437.6 L844.9,447.7 L838.3,446.1 L835.2,448.6 L832.2,449.4 L834.0,462.1 L832.8,466.3 L829.7,470.5 L827.3,466.3 L825.5,465.5 L824.3,470.5 L819.4,473.9 L814.5,473.9 L815.8,477.3 L809.7,478.1 L807.3,475.6 L801.8,483.2 L795.1,486.6 L792.1,490.8 L786.6,492.5 L779.3,496.7 L775.0,500.1 L773.2,495.0 L778.1,487.4 L776.2,483.2 L771.4,484.0 L764.7,490.8 L759.2,497.5 L751.9,498.4 L750.7,503.4 L753.1,506.8 L758.6,511.0 L759.2,514.4 L764.1,514.4 L769.6,509.3 L774.4,511.9 L780.5,512.7 L780.5,516.9 L771.4,519.5 L767.1,524.5 L760.4,533.0 L761.0,535.5 L767.1,539.7 L770.8,549.8 L771.4,554.0 L776.9,560.8 L776.9,567.5 L770.8,572.6 L774.4,575.1 L778.1,576.8 L775.0,583.6 L775.0,589.5 L769.6,594.5 L766.5,600.5 L762.9,607.2 L762.9,613.1 L758.6,617.3 L753.7,623.2 L748.9,629.1 L744.6,633.4 L737.9,636.7 L730.6,639.3 L726.4,636.7 L725.8,641.8 L719.7,644.3 L714.2,646.9 L708.1,649.4 L706.9,656.1 L703.9,657.0 L702.7,651.1 L702.1,646.0 L696.0,645.2 L692.3,646.9 L688.7,646.0 L684.4,642.6 L683.8,635.0 L679.6,635.0 L675.9,631.7 L672.9,635.0 L667.4,638.4 L663.8,635.9 L658.9,636.7 L656.5,639.3 L654.6,640.9 L653.4,649.4 L651.0,647.7 L649.2,645.2 L644.9,646.9 L643.1,642.6 L638.8,641.8 L640.7,635.0 L637.0,632.5 L635.8,624.9 L629.7,626.6 L629.1,619.0 L632.8,612.3 L635.8,609.7 L635.8,596.2 L633.4,595.4 L630.9,589.5 L627.9,590.3 L625.5,594.5 L620.6,590.3 L619.4,597.1 L615.1,601.3 L607.2,602.1 L601.1,601.3 L595.7,602.1 L592.6,594.5 L589.0,592.9 L584.7,590.3 L580.5,590.3 L576.2,597.9 L575.6,592.0 L571.3,592.9 L565.9,593.7 L558.6,592.0 L556.8,589.5 L553.1,587.0 L547.6,584.4 L542.2,578.5 L534.9,572.6 L529.4,575.1 L523.3,570.1 L520.3,566.7 L514.8,564.2 L512.4,554.0 L517.2,554.0 L514.2,544.8 L515.4,538.9 L511.8,536.3 L509.9,528.7 L503.9,527.9 L499.0,526.2 L497.2,519.5 L491.1,516.1 L488.7,514.4 L491.1,511.0 L491.1,504.3 L484.4,502.6ZM774.4,614.8 L777.5,617.3 L775.0,625.8 L773.8,633.4 L770.8,643.5 L768.9,640.1 L765.9,634.2 L766.5,627.4 L771.4,617.3ZM704.5,658.7 L710.0,659.5 L710.6,662.9 L707.5,669.6 L702.1,674.7 L696.6,672.2 L696.0,665.4 L700.2,660.4Z" fill="none" stroke="#b4b4b4" stroke-width="0.7" stroke-opacity="0.7"/>
<g transform="translate(813.5,595.5)">
<rect x="0" y="0" width="55.5" height="105.5" fill="#fff" stroke="#6e7878" stroke-width="1.2"/>
<path d="M0.5,6 C4,6 5,9 8,10.5 C10,11.5 12,10 13.5,11.5" fill="none" stroke="#1e2828" stroke-width="1.6"/>
<path d="M13.5,11.5 C15,15 16,16.5 18,14 C19,11 22,12 25,10.5 C28,9 31,8 33,5 C34.5,3 36,2 37,0.5" fill="none" stroke="#3cb4be" stroke-width="0.9"/>
<ellipse cx="14.5" cy="21" rx="3.6" ry="4.6" transform="rotate(25 14.5 21)" fill="none" stroke="#3cb4be" stroke-width="0.9"/>
<path d="M46,1 C47,4 49,7 50.5,4 L51.5,0.5" fill="none" stroke="#3cb4be" stroke-width="0.9"/>
<path d="M49.5,14.0 L51.5,9.0" stroke="#1e2d2d" stroke-width="1.7" stroke-linecap="round"/>
<path d="M46.5,26.0 L49.0,18.0" stroke="#1e2d2d" stroke-width="1.7" stroke-linecap="round"/>
<path d="M13.5,36.0 L16.0,43.0" stroke="#1e2d2d" stroke-width="1.7" stroke-linecap="round"/>
<path d="M46.0,56.5 L47.5,49.0" stroke="#1e2d2d" stroke-width="1.7" stroke-linecap="round"/>
<path d="M34.0,76.0 L38.5,69.5" stroke="#1e2d2d" stroke-width="1.7" stroke-linecap="round"/>
<path d="M9.0,80.0 L8.5,72.0" stroke="#1e2d2d" stroke-width="1.7" stroke-linecap="round"/>
<path d="M21.0,90.0 L28.0,88.0" stroke="#1e2d2d" stroke-width="1.7" stroke-linecap="round"/>
<circle cx="37.0" cy="11.0" r="0.9" fill="#2d96a5"/>
<circle cx="24.0" cy="33.0" r="0.9" fill="#2d96a5"/>
<circle cx="31.5" cy="32.5" r="0.9" fill="#2d96a5"/>
<circle cx="41.0" cy="36.0" r="0.9" fill="#2d96a5"/>
<circle cx="30.5" cy="53.5" r="0.9" fill="#2d96a5"/>
<circle cx="43.0" cy="56.0" r="0.9" fill="#2d96a5"/>
<circle cx="32.0" cy="60.0" r="0.9" fill="#2d96a5"/>
<circle cx="33.0" cy="66.0" r="0.9" fill="#2d96a5"/>
<circle cx="13.0" cy="72.5" r="0.9" fill="#2d96a5"/>
<circle cx="20.0" cy="72.0" r="0.9" fill="#2d96a5"/>
<circle cx="29.0" cy="71.5" r="0.9" fill="#2d96a5"/>
<circle cx="23.0" cy="86.0" r="0.9" fill="#2d96a5"/>
<circle cx="30.5" cy="82.0" r="0.9" fill="#2d96a5"/>
<rect x="26.0" y="95.5" width="29.0" height="9.5" fill="#c8d2d2" stroke="#5a6464" stroke-width="0.6"/>
<text x="26.5" y="103.2" font-size="7" fill="#1e3c3c" style="font-family:'Liberation Sans','Noto Sans CJK SC',sans-serif">南海诸岛</text>
</g>
<rect x="455.5" y="364.6" width="413.5" height="336.4" fill="none" stroke="#000" stroke-width="1.25"/>
<path d="M461.3,701.0 v-5 M522.1,701.0 v-5 M582.9,701.0 v-5 M643.7,701.0 v-5 M704.5,701.0 v-5 M765.3,701.0 v-5 M826.1,701.0 v-5 M455.5,659.5 h5 M455.5,575.1 h5 M455.5,490.8 h5 M455.5,406.4 h5" stroke="#000" stroke-width="1.2" fill="none"/>
<text class="k" transform="translate(461.3,716.4) scale(0.7,1)" text-anchor="middle">70</text>
<text class="k" transform="translate(522.1,716.4) scale(0.7,1)" text-anchor="middle">80</text>
<text class="k" transform="translate(582.9,716.4) scale(0.7,1)" text-anchor="middle">90</text>
<text class="k" transform="translate(643.7,716.4) scale(0.7,1)" text-anchor="middle">100</text>
<text class="k" transform="translate(704.5,716.4) scale(0.7,1)" text-anchor="middle">110</text>
<text class="k" transform="translate(765.3,716.4) scale(0.7,1)" text-anchor="middle">120</text>
<text class="k" transform="translate(826.1,716.4) scale(0.7,1)" text-anchor="middle">130</text>
<text class="k" transform="translate(454.5,664.9) scale(0.7,1)" text-anchor="end">20</text>
<text class="k" transform="translate(454.5,580.5) scale(0.7,1)" text-anchor="end">30</text>
<text class="k" transform="translate(454.5,496.2) scale(0.7,1)" text-anchor="end">40</text>
<text class="k" transform="translate(454.5,411.8) scale(0.7,1)" text-anchor="end">50</text>
<rect x="460.5" y="452.50" width="11.5" height="26.02" fill="#fb0505"/>
<rect x="460.5" y="478.22" width="11.5" height="26.02" fill="#ff6605"/>
<rect x="460.5" y="503.94" width="11.5" height="26.02" fill="#ffff00"/>
<rect x="460.5" y="529.67" width="11.5" height="26.02" fill="#0afa0a"/>
<rect x="460.5" y="555.39" width="11.5" height="26.02" fill="#089a38"/>
<rect x="460.5" y="581.11" width="11.5" height="26.02" fill="#056636"/>
<rect x="460.5" y="606.83" width="11.5" height="26.02" fill="#00ffff"/>
<rect x="460.5" y="632.56" width="11.5" height="26.02" fill="#14c0fa"/>
<rect x="460.5" y="658.28" width="11.5" height="26.02" fill="#0000ff"/>
<text class="c" font-size="13.5" font-weight="normal" transform="translate(474.5,482.3) scale(0.72,1)" stroke="#222" stroke-width="0.35">3300</text>
<text class="c" font-size="13.5" font-weight="normal" transform="translate(474.5,508.0) scale(0.72,1)" stroke="#222" stroke-width="0.35">3000</text>
<text class="c" font-size="13.5" font-weight="normal" transform="translate(474.5,533.7) scale(0.72,1)" stroke="#222" stroke-width="0.35">2700</text>
<text class="c" font-size="13.5" font-weight="normal" transform="translate(474.5,559.4) scale(0.72,1)" stroke="#222" stroke-width="0.35">2400</text>
<text class="c" font-size="13.5" font-weight="normal" transform="translate(474.5,585.2) scale(0.72,1)" stroke="#222" stroke-width="0.35">2100</text>
<text class="c" font-size="13.5" font-weight="normal" transform="translate(474.5,610.9) scale(0.72,1)" stroke="#222" stroke-width="0.35">1800</text>
<text class="c" font-size="13.5" font-weight="normal" transform="translate(474.5,636.6) scale(0.72,1)" stroke="#222" stroke-width="0.35">1500</text>
<text class="c" font-size="13.5" font-weight="normal" transform="translate(474.5,662.3) scale(0.72,1)" stroke="#222" stroke-width="0.35">1200</text>
<text class="c" font-size="13.5" font-weight="normal" transform="translate(474.5,688.1) scale(0.72,1)" stroke="#222" stroke-width="0.35">900</text>
<text class="t" x="598.0" y="416.0" font-size="22" letter-spacing="1.6"><tspan>日照时数（</tspan><tspan font-size="23.1" letter-spacing="0">h</tspan><tspan>）</tspan></text>
<g>
<g fill="#fff" stroke="#8c8c8c" stroke-width="0.8"><ellipse cx="729" cy="677" rx="9" ry="7.5"/><ellipse cx="741" cy="684.5" rx="9.5" ry="8"/></g>
<g fill="#8c8c8c"><circle cx="737.5" cy="682" r="1"/><circle cx="744.5" cy="682" r="1"/></g>
<text x="757" y="688.5" font-size="21" fill="#fff" stroke="#787878" stroke-width="0.9" paint-order="stroke" style="font-family:'Liberation Sans','Noto Sans CJK SC',sans-serif">智汇光伏</text>
</g>
</g>
</svg></body></html>
